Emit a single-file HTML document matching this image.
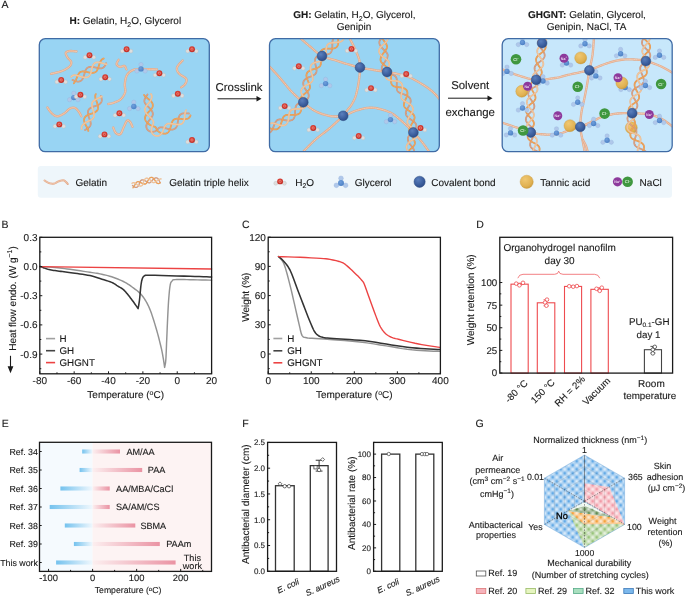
<!DOCTYPE html>
<html><head><meta charset="utf-8"><style>
html,body{margin:0;padding:0;background:#fff;}
svg{display:block;will-change:transform;}
text{font-family:"Liberation Sans",sans-serif;fill:#1a1a1a;stroke:#1a1a1a;stroke-width:0.12px;text-rendering:geometricPrecision;}
</style></head><body>
<svg width="685" height="598" viewBox="0 0 685 598">
<rect width="685" height="598" fill="#fff"/>
<text x="1.6" y="7.9" font-size="10.5">A</text>
<text x="1.4" y="228" font-size="10.5">B</text>
<text x="242" y="228" font-size="10.5">C</text>
<text x="476.2" y="228.1" font-size="10.5">D</text>
<text x="1.8" y="427" font-size="10.5">E</text>
<text x="242.2" y="427" font-size="10.5">F</text>
<text x="475.6" y="427" font-size="10.5">G</text>
<defs>
<radialGradient id="gO" cx="0.4" cy="0.35" r="0.7"><stop offset="0" stop-color="#e0473c"/><stop offset="1" stop-color="#c22d25"/></radialGradient>
<radialGradient id="gG" cx="0.4" cy="0.35" r="0.7"><stop offset="0" stop-color="#6f9fdc"/><stop offset="1" stop-color="#4a7fc4"/></radialGradient>
<radialGradient id="gB" cx="0.38" cy="0.32" r="0.75"><stop offset="0" stop-color="#5a7fbd"/><stop offset="0.6" stop-color="#3c5f9e"/><stop offset="1" stop-color="#2c4a85"/></radialGradient>
<radialGradient id="gT" cx="0.38" cy="0.32" r="0.75"><stop offset="0" stop-color="#f0c872"/><stop offset="0.7" stop-color="#e0b152"/><stop offset="1" stop-color="#c99838"/></radialGradient>
<clipPath id="cb1"><rect x="39.3" y="38.7" width="170" height="113" rx="6"/></clipPath>
<clipPath id="cb2"><rect x="269.5" y="38.7" width="169.8" height="113" rx="6"/></clipPath>
<clipPath id="cb3"><rect x="502.2" y="38.7" width="170" height="113" rx="6"/></clipPath>
</defs><rect x="39.3" y="38.7" width="170" height="113" rx="6" fill="#98d4f3"/><rect x="269.5" y="38.7" width="169.8" height="113" rx="6" fill="#98d4f3"/><rect x="502.2" y="38.7" width="170" height="113" rx="6" fill="#c7e7fb"/><g clip-path="url(#cb1)"><polyline points="76.5,51.5 75.98,51.45 75.28,51.36 74.44,51.25 73.51,51.14 72.55,51.04 71.62,50.98 70.75,50.96 70,51 69.32,51.1 68.65,51.22 68,51.38 67.39,51.58 66.84,51.81 66.38,52.09 66.03,52.42 65.8,52.8 65.72,53.25 65.76,53.78 65.92,54.36 66.16,54.98 66.46,55.62 66.8,56.27 67.15,56.9 67.5,57.5 67.9,58.07 68.41,58.64 68.98,59.2 69.56,59.76 70.12,60.32 70.61,60.88 70.98,61.44 71.2,62 71.29,62.56 71.29,63.12 71.21,63.69 71.05,64.25 70.8,64.81 70.46,65.38 70.03,65.94 69.5,66.5 68.86,67.07 68.11,67.66 67.27,68.26 66.33,68.86 65.32,69.44 64.26,69.99 63.14,70.52 62,71 60.72,71.45 59.24,71.89 57.65,72.3 56.03,72.68 54.47,73.03 53.06,73.34 51.87,73.6 51,73.8" fill="none" stroke="#e3ab8b" stroke-width="2.3" stroke-linecap="round" stroke-linejoin="round"/><polyline points="76.5,51.5 75.98,51.45 75.28,51.36 74.44,51.25 73.51,51.14 72.55,51.04 71.62,50.98 70.75,50.96 70,51 69.32,51.1 68.65,51.22 68,51.38 67.39,51.58 66.84,51.81 66.38,52.09 66.03,52.42 65.8,52.8 65.72,53.25 65.76,53.78 65.92,54.36 66.16,54.98 66.46,55.62 66.8,56.27 67.15,56.9 67.5,57.5 67.9,58.07 68.41,58.64 68.98,59.2 69.56,59.76 70.12,60.32 70.61,60.88 70.98,61.44 71.2,62 71.29,62.56 71.29,63.12 71.21,63.69 71.05,64.25 70.8,64.81 70.46,65.38 70.03,65.94 69.5,66.5 68.86,67.07 68.11,67.66 67.27,68.26 66.33,68.86 65.32,69.44 64.26,69.99 63.14,70.52 62,71 60.72,71.45 59.24,71.89 57.65,72.3 56.03,72.68 54.47,73.03 53.06,73.34 51.87,73.6 51,73.8" fill="none" stroke="#f3cdb6" stroke-width="0.9659999999999999" stroke-linecap="round" stroke-linejoin="round" stroke-dasharray="1.3 0.9"/><polyline points="157,69.3 156.29,69.29 155.34,69.28 154.2,69.27 152.94,69.26 151.62,69.25 150.32,69.23 149.09,69.22 148,69.2 147.04,69.17 146.13,69.13 145.27,69.08 144.44,69.03 143.61,68.99 142.77,68.97 141.91,68.97 141,69 140.03,69.04 139.02,69.07 137.99,69.11 136.94,69.17 135.9,69.28 134.88,69.44 133.91,69.68 133,70 132.13,70.41 131.27,70.88 130.44,71.41 129.64,72 128.88,72.66 128.19,73.38 127.55,74.16 127,75 126.53,75.94 126.12,76.99 125.78,78.13 125.5,79.31 125.27,80.52 125.08,81.73 124.92,82.9 124.8,84 124.76,85.05 124.83,86.09 124.96,87.12 125.12,88.12 125.27,89.12 125.36,90.09 125.35,91.05 125.2,92 124.91,92.95 124.54,93.9 124.08,94.85 123.56,95.77 122.98,96.67 122.35,97.51 121.69,98.29 121,99 120.25,99.63 119.42,100.19 118.52,100.7 117.59,101.15 116.65,101.56 115.72,101.93 114.83,102.28 114,102.6 113.19,102.89 112.35,103.14 111.52,103.35 110.71,103.52 109.96,103.67 109.29,103.8 108.73,103.91 108.3,104" fill="none" stroke="#e3ab8b" stroke-width="2.3" stroke-linecap="round" stroke-linejoin="round"/><polyline points="157,69.3 156.29,69.29 155.34,69.28 154.2,69.27 152.94,69.26 151.62,69.25 150.32,69.23 149.09,69.22 148,69.2 147.04,69.17 146.13,69.13 145.27,69.08 144.44,69.03 143.61,68.99 142.77,68.97 141.91,68.97 141,69 140.03,69.04 139.02,69.07 137.99,69.11 136.94,69.17 135.9,69.28 134.88,69.44 133.91,69.68 133,70 132.13,70.41 131.27,70.88 130.44,71.41 129.64,72 128.88,72.66 128.19,73.38 127.55,74.16 127,75 126.53,75.94 126.12,76.99 125.78,78.13 125.5,79.31 125.27,80.52 125.08,81.73 124.92,82.9 124.8,84 124.76,85.05 124.83,86.09 124.96,87.12 125.12,88.12 125.27,89.12 125.36,90.09 125.35,91.05 125.2,92 124.91,92.95 124.54,93.9 124.08,94.85 123.56,95.77 122.98,96.67 122.35,97.51 121.69,98.29 121,99 120.25,99.63 119.42,100.19 118.52,100.7 117.59,101.15 116.65,101.56 115.72,101.93 114.83,102.28 114,102.6 113.19,102.89 112.35,103.14 111.52,103.35 110.71,103.52 109.96,103.67 109.29,103.8 108.73,103.91 108.3,104" fill="none" stroke="#f3cdb6" stroke-width="0.9659999999999999" stroke-linecap="round" stroke-linejoin="round" stroke-dasharray="1.3 0.9"/><polyline points="118.6,59.8 118.41,60.15 118.12,60.63 117.77,61.21 117.4,61.84 117.06,62.49 116.78,63.12 116.61,63.71 116.6,64.2 116.74,64.63 117,65.06 117.35,65.46 117.78,65.83 118.26,66.15 118.77,66.43 119.29,66.65 119.8,66.8 120.33,66.83 120.94,66.74 121.58,66.56 122.23,66.35 122.88,66.14 123.49,65.98 124.04,65.92 124.5,66 124.88,66.25 125.22,66.63 125.5,67.12 125.74,67.65 125.95,68.19 126.12,68.69 126.27,69.11 126.4,69.4" fill="none" stroke="#e3ab8b" stroke-width="2.3" stroke-linecap="round" stroke-linejoin="round"/><polyline points="118.6,59.8 118.41,60.15 118.12,60.63 117.77,61.21 117.4,61.84 117.06,62.49 116.78,63.12 116.61,63.71 116.6,64.2 116.74,64.63 117,65.06 117.35,65.46 117.78,65.83 118.26,66.15 118.77,66.43 119.29,66.65 119.8,66.8 120.33,66.83 120.94,66.74 121.58,66.56 122.23,66.35 122.88,66.14 123.49,65.98 124.04,65.92 124.5,66 124.88,66.25 125.22,66.63 125.5,67.12 125.74,67.65 125.95,68.19 126.12,68.69 126.27,69.11 126.4,69.4" fill="none" stroke="#f3cdb6" stroke-width="0.9659999999999999" stroke-linecap="round" stroke-linejoin="round" stroke-dasharray="1.3 0.9"/><polyline points="182.6,60.4 182.12,60.96 181.42,61.7 180.58,62.59 179.67,63.58 178.79,64.61 178,65.64 177.37,66.62 177,67.5 176.85,68.31 176.84,69.09 176.96,69.86 177.2,70.61 177.54,71.35 177.96,72.07 178.45,72.79 179,73.5 179.71,74.2 180.63,74.88 181.68,75.54 182.79,76.2 183.87,76.85 184.85,77.5 185.66,78.15 186.2,78.8 186.49,79.47 186.6,80.15 186.56,80.84 186.4,81.52 186.16,82.19 185.85,82.83 185.52,83.44 185.2,84 184.82,84.53 184.32,85.06 183.74,85.56 183.14,86.03 182.54,86.45 181.99,86.83 181.53,87.15 181.2,87.4" fill="none" stroke="#e3ab8b" stroke-width="2.3" stroke-linecap="round" stroke-linejoin="round"/><polyline points="182.6,60.4 182.12,60.96 181.42,61.7 180.58,62.59 179.67,63.58 178.79,64.61 178,65.64 177.37,66.62 177,67.5 176.85,68.31 176.84,69.09 176.96,69.86 177.2,70.61 177.54,71.35 177.96,72.07 178.45,72.79 179,73.5 179.71,74.2 180.63,74.88 181.68,75.54 182.79,76.2 183.87,76.85 184.85,77.5 185.66,78.15 186.2,78.8 186.49,79.47 186.6,80.15 186.56,80.84 186.4,81.52 186.16,82.19 185.85,82.83 185.52,83.44 185.2,84 184.82,84.53 184.32,85.06 183.74,85.56 183.14,86.03 182.54,86.45 181.99,86.83 181.53,87.15 181.2,87.4" fill="none" stroke="#f3cdb6" stroke-width="0.9659999999999999" stroke-linecap="round" stroke-linejoin="round" stroke-dasharray="1.3 0.9"/><polyline points="47.4,107.5 47.71,107.94 48.1,108.54 48.58,109.26 49.11,110.04 49.68,110.86 50.28,111.65 50.89,112.38 51.5,113 52.11,113.56 52.74,114.12 53.39,114.67 54.07,115.17 54.77,115.61 55.49,115.96 56.23,116.19 57,116.3 57.81,116.26 58.67,116.08 59.56,115.79 60.47,115.42 61.38,114.98 62.29,114.5 63.16,114 64,113.5 64.8,112.95 65.59,112.3 66.37,111.59 67.12,110.86 67.87,110.14 68.59,109.49 69.3,108.92 70,108.5 70.68,108.19 71.34,107.95 71.99,107.79 72.62,107.69 73.24,107.66 73.84,107.7 74.43,107.82 75,108 75.56,108.28 76.11,108.68 76.65,109.16 77.17,109.7 77.67,110.28 78.14,110.87 78.59,111.45 79,112 79.38,112.55 79.75,113.15 80.09,113.78 80.4,114.4 80.68,114.99 80.93,115.52 81.13,115.97 81.3,116.3" fill="none" stroke="#e3ab8b" stroke-width="2.3" stroke-linecap="round" stroke-linejoin="round"/><polyline points="47.4,107.5 47.71,107.94 48.1,108.54 48.58,109.26 49.11,110.04 49.68,110.86 50.28,111.65 50.89,112.38 51.5,113 52.11,113.56 52.74,114.12 53.39,114.67 54.07,115.17 54.77,115.61 55.49,115.96 56.23,116.19 57,116.3 57.81,116.26 58.67,116.08 59.56,115.79 60.47,115.42 61.38,114.98 62.29,114.5 63.16,114 64,113.5 64.8,112.95 65.59,112.3 66.37,111.59 67.12,110.86 67.87,110.14 68.59,109.49 69.3,108.92 70,108.5 70.68,108.19 71.34,107.95 71.99,107.79 72.62,107.69 73.24,107.66 73.84,107.7 74.43,107.82 75,108 75.56,108.28 76.11,108.68 76.65,109.16 77.17,109.7 77.67,110.28 78.14,110.87 78.59,111.45 79,112 79.38,112.55 79.75,113.15 80.09,113.78 80.4,114.4 80.68,114.99 80.93,115.52 81.13,115.97 81.3,116.3" fill="none" stroke="#f3cdb6" stroke-width="0.9659999999999999" stroke-linecap="round" stroke-linejoin="round" stroke-dasharray="1.3 0.9"/><polyline points="113.2,127.5 113.4,127.97 113.66,128.64 113.97,129.44 114.32,130.3 114.7,131.17 115.11,131.99 115.55,132.68 116,133.2 116.49,133.59 117.03,133.94 117.61,134.22 118.21,134.42 118.81,134.52 119.41,134.5 119.97,134.33 120.5,134 120.99,133.45 121.45,132.67 121.9,131.73 122.33,130.68 122.75,129.57 123.17,128.46 123.58,127.42 124,126.5 124.42,125.63 124.83,124.72 125.23,123.81 125.63,122.94 126.03,122.13 126.42,121.44 126.81,120.88 127.2,120.5 127.59,120.31 127.98,120.27 128.37,120.37 128.76,120.58 129.14,120.87 129.5,121.22 129.86,121.6 130.2,122 130.54,122.47 130.88,123.08 131.21,123.77 131.54,124.49 131.84,125.21 132.1,125.86 132.33,126.41 132.5,126.8" fill="none" stroke="#e3ab8b" stroke-width="2.3" stroke-linecap="round" stroke-linejoin="round"/><polyline points="113.2,127.5 113.4,127.97 113.66,128.64 113.97,129.44 114.32,130.3 114.7,131.17 115.11,131.99 115.55,132.68 116,133.2 116.49,133.59 117.03,133.94 117.61,134.22 118.21,134.42 118.81,134.52 119.41,134.5 119.97,134.33 120.5,134 120.99,133.45 121.45,132.67 121.9,131.73 122.33,130.68 122.75,129.57 123.17,128.46 123.58,127.42 124,126.5 124.42,125.63 124.83,124.72 125.23,123.81 125.63,122.94 126.03,122.13 126.42,121.44 126.81,120.88 127.2,120.5 127.59,120.31 127.98,120.27 128.37,120.37 128.76,120.58 129.14,120.87 129.5,121.22 129.86,121.6 130.2,122 130.54,122.47 130.88,123.08 131.21,123.77 131.54,124.49 131.84,125.21 132.1,125.86 132.33,126.41 132.5,126.8" fill="none" stroke="#f3cdb6" stroke-width="0.9659999999999999" stroke-linecap="round" stroke-linejoin="round" stroke-dasharray="1.3 0.9"/><polyline points="72.5,80 73.02,80.2 73.53,80.41 74.04,80.61 74.54,80.8 75.05,80.98 75.54,81.14 76.04,81.27 76.52,81.39 77,81.48 77.47,81.54 77.93,81.57 78.38,81.57 78.81,81.53 79.24,81.45 79.65,81.35 80.06,81.2 80.44,81.01 80.82,80.78 81.18,80.52 81.52,80.22 81.84,79.89 82.13,79.52 82.41,79.13 82.66,78.72 82.9,78.27 83.12,77.81 83.32,77.33 83.51,76.83 83.69,76.32 83.85,75.8 84.01,75.27 84.17,74.73 84.32,74.2 84.47,73.66 84.61,73.13 84.76,72.61 84.92,72.1 85.08,71.6 85.26,71.12 85.44,70.66 85.63,70.21 85.84,69.79 86.06,69.4 86.29,69.04 86.53,68.71 86.78,68.41 87.05,68.14 87.34,67.89 87.65,67.67 87.99,67.48 88.34,67.32 88.73,67.18 89.13,67.08 89.56,67 90,66.94 90.47,66.9 90.95,66.9 91.46,66.91 91.97,66.94 92.49,66.99 93.03,67.07 93.57,67.15 94.11,67.25 94.66,67.36 95.2,67.48 95.74,67.6 96.28,67.73 96.8,67.86 97.33,67.98 97.84,68.09 98.34,68.2 98.84,68.28 99.31,68.35 99.78,68.4 100.24,68.42 100.68,68.42 101.1,68.39 101.52,68.32 101.91,68.23 102.28,68.11 102.65,67.95 103,67.76 103.32,67.54 103.64,67.29 103.94,67 104.22,66.68 104.49,66.33 104.75,65.96 104.99,65.55 105.22,65.13 105.44,64.67 105.65,64.2 105.86,63.71 106.05,63.21 106.08,63.12" fill="none" stroke="#d0977b" stroke-width="1.8" stroke-linecap="round" stroke-linejoin="round"/><polyline points="72.5,80 73.02,80.2 73.53,80.41 74.04,80.61 74.54,80.8 75.05,80.98 75.54,81.14 76.04,81.27 76.52,81.39 77,81.48 77.47,81.54 77.93,81.57 78.38,81.57 78.81,81.53 79.24,81.45 79.65,81.35 80.06,81.2 80.44,81.01 80.82,80.78 81.18,80.52 81.52,80.22 81.84,79.89 82.13,79.52 82.41,79.13 82.66,78.72 82.9,78.27 83.12,77.81 83.32,77.33 83.51,76.83 83.69,76.32 83.85,75.8 84.01,75.27 84.17,74.73 84.32,74.2 84.47,73.66 84.61,73.13 84.76,72.61 84.92,72.1 85.08,71.6 85.26,71.12 85.44,70.66 85.63,70.21 85.84,69.79 86.06,69.4 86.29,69.04 86.53,68.71 86.78,68.41 87.05,68.14 87.34,67.89 87.65,67.67 87.99,67.48 88.34,67.32 88.73,67.18 89.13,67.08 89.56,67 90,66.94 90.47,66.9 90.95,66.9 91.46,66.91 91.97,66.94 92.49,66.99 93.03,67.07 93.57,67.15 94.11,67.25 94.66,67.36 95.2,67.48 95.74,67.6 96.28,67.73 96.8,67.86 97.33,67.98 97.84,68.09 98.34,68.2 98.84,68.28 99.31,68.35 99.78,68.4 100.24,68.42 100.68,68.42 101.1,68.39 101.52,68.32 101.91,68.23 102.28,68.11 102.65,67.95 103,67.76 103.32,67.54 103.64,67.29 103.94,67 104.22,66.68 104.49,66.33 104.75,65.96 104.99,65.55 105.22,65.13 105.44,64.67 105.65,64.2 105.86,63.71 106.05,63.21 106.08,63.12" fill="none" stroke="#dfae95" stroke-width="0.63" stroke-linecap="round" stroke-linejoin="round"/><polyline points="73.83,83.2 74.1,82.86 74.37,82.49 74.63,82.1 74.89,81.68 75.15,81.24 75.4,80.77 75.64,80.3 75.87,79.8 76.11,79.3 76.33,78.8 76.55,78.29 76.77,77.78 76.99,77.27 77.2,76.77 77.41,76.28 77.62,75.81 77.84,75.34 78.05,74.91 78.26,74.49 78.49,74.09 78.71,73.72 78.95,73.37 79.2,73.05 79.48,72.76 79.76,72.5 80.07,72.27 80.39,72.06 80.72,71.89 81.09,71.75 81.46,71.64 81.86,71.55 82.28,71.49 82.71,71.46 83.16,71.46 83.63,71.48 84.11,71.52 84.6,71.57 85.11,71.65 85.63,71.74 86.16,71.84 86.69,71.95 87.23,72.07 87.77,72.19 88.32,72.31 88.86,72.42 89.41,72.52 89.95,72.61 90.49,72.68 91.02,72.74 91.53,72.78 92.04,72.8 92.52,72.8 92.99,72.77 93.45,72.73 93.88,72.65 94.29,72.56 94.68,72.43 95.04,72.28 95.39,72.1 95.7,71.89 96,71.66 96.28,71.39 96.54,71.1 96.79,70.78 97,70.44 97.22,70.07 97.42,69.67 97.6,69.25 97.8,68.8 97.97,68.34 98.15,67.86 98.33,67.36 98.5,66.85 98.67,66.33 98.84,65.8 99.01,65.27 99.18,64.74 99.36,64.22 99.54,63.7 99.74,63.19 99.93,62.7 100.14,62.22 100.36,61.76 100.58,61.33 100.82,60.91 101.08,60.52 101.35,60.16 101.63,59.83 101.93,59.54 102.24,59.27 102.56,59.04 102.9,58.84 103.26,58.67 103.63,58.54 103.7,58.52" fill="none" stroke="#e8984f" stroke-width="1.8" stroke-linecap="round" stroke-linejoin="round"/><polyline points="73.83,83.2 74.1,82.86 74.37,82.49 74.63,82.1 74.89,81.68 75.15,81.24 75.4,80.77 75.64,80.3 75.87,79.8 76.11,79.3 76.33,78.8 76.55,78.29 76.77,77.78 76.99,77.27 77.2,76.77 77.41,76.28 77.62,75.81 77.84,75.34 78.05,74.91 78.26,74.49 78.49,74.09 78.71,73.72 78.95,73.37 79.2,73.05 79.48,72.76 79.76,72.5 80.07,72.27 80.39,72.06 80.72,71.89 81.09,71.75 81.46,71.64 81.86,71.55 82.28,71.49 82.71,71.46 83.16,71.46 83.63,71.48 84.11,71.52 84.6,71.57 85.11,71.65 85.63,71.74 86.16,71.84 86.69,71.95 87.23,72.07 87.77,72.19 88.32,72.31 88.86,72.42 89.41,72.52 89.95,72.61 90.49,72.68 91.02,72.74 91.53,72.78 92.04,72.8 92.52,72.8 92.99,72.77 93.45,72.73 93.88,72.65 94.29,72.56 94.68,72.43 95.04,72.28 95.39,72.1 95.7,71.89 96,71.66 96.28,71.39 96.54,71.1 96.79,70.78 97,70.44 97.22,70.07 97.42,69.67 97.6,69.25 97.8,68.8 97.97,68.34 98.15,67.86 98.33,67.36 98.5,66.85 98.67,66.33 98.84,65.8 99.01,65.27 99.18,64.74 99.36,64.22 99.54,63.7 99.74,63.19 99.93,62.7 100.14,62.22 100.36,61.76 100.58,61.33 100.82,60.91 101.08,60.52 101.35,60.16 101.63,59.83 101.93,59.54 102.24,59.27 102.56,59.04 102.9,58.84 103.26,58.67 103.63,58.54 103.7,58.52" fill="none" stroke="#f0b273" stroke-width="0.63" stroke-linecap="round" stroke-linejoin="round"/><polyline points="71.17,76.8 71.49,76.48 71.82,76.19 72.16,75.94 72.51,75.72 72.87,75.54 73.24,75.4 73.62,75.29 74.01,75.21 74.41,75.17 74.83,75.16 75.25,75.18 75.69,75.23 76.14,75.3 76.6,75.4 77.08,75.51 77.56,75.65 78.05,75.8 78.55,75.96 79.06,76.13 79.57,76.29 80.1,76.46 80.63,76.62 81.17,76.78 81.7,76.92 82.24,77.06 82.77,77.18 83.29,77.28 83.81,77.36 84.32,77.43 84.82,77.47 85.3,77.48 85.77,77.47 86.22,77.43 86.65,77.36 87.07,77.26 87.47,77.12 87.84,76.96 88.2,76.76 88.54,76.53 88.85,76.27 89.15,75.98 89.42,75.66 89.69,75.3 89.94,74.91 90.17,74.5 90.39,74.05 90.58,73.59 90.76,73.1 90.92,72.6 91.07,72.09 91.2,71.56 91.32,71.02 91.44,70.48 91.56,69.94 91.67,69.4 91.79,68.85 91.91,68.32 92.04,67.79 92.18,67.27 92.34,66.76 92.51,66.27 92.7,65.8 92.92,65.35 93.14,64.93 93.4,64.52 93.68,64.15 93.97,63.81 94.3,63.49 94.62,63.23 94.98,62.98 95.36,62.78 95.73,62.62 96.14,62.49 96.56,62.39 96.98,62.33 97.43,62.3 97.9,62.29 98.37,62.32 98.85,62.38 99.35,62.45 99.85,62.55 100.37,62.67 100.89,62.8 101.41,62.94 101.94,63.1 102.47,63.26 103.01,63.42 103.54,63.58 104.07,63.74 104.59,63.89 105.11,64.03 105.63,64.15 106.14,64.26 106.64,64.34 106.72,64.35" fill="none" stroke="#ecbb90" stroke-width="1.8" stroke-linecap="round" stroke-linejoin="round"/><polyline points="71.17,76.8 71.49,76.48 71.82,76.19 72.16,75.94 72.51,75.72 72.87,75.54 73.24,75.4 73.62,75.29 74.01,75.21 74.41,75.17 74.83,75.16 75.25,75.18 75.69,75.23 76.14,75.3 76.6,75.4 77.08,75.51 77.56,75.65 78.05,75.8 78.55,75.96 79.06,76.13 79.57,76.29 80.1,76.46 80.63,76.62 81.17,76.78 81.7,76.92 82.24,77.06 82.77,77.18 83.29,77.28 83.81,77.36 84.32,77.43 84.82,77.47 85.3,77.48 85.77,77.47 86.22,77.43 86.65,77.36 87.07,77.26 87.47,77.12 87.84,76.96 88.2,76.76 88.54,76.53 88.85,76.27 89.15,75.98 89.42,75.66 89.69,75.3 89.94,74.91 90.17,74.5 90.39,74.05 90.58,73.59 90.76,73.1 90.92,72.6 91.07,72.09 91.2,71.56 91.32,71.02 91.44,70.48 91.56,69.94 91.67,69.4 91.79,68.85 91.91,68.32 92.04,67.79 92.18,67.27 92.34,66.76 92.51,66.27 92.7,65.8 92.92,65.35 93.14,64.93 93.4,64.52 93.68,64.15 93.97,63.81 94.3,63.49 94.62,63.23 94.98,62.98 95.36,62.78 95.73,62.62 96.14,62.49 96.56,62.39 96.98,62.33 97.43,62.3 97.9,62.29 98.37,62.32 98.85,62.38 99.35,62.45 99.85,62.55 100.37,62.67 100.89,62.8 101.41,62.94 101.94,63.1 102.47,63.26 103.01,63.42 103.54,63.58 104.07,63.74 104.59,63.89 105.11,64.03 105.63,64.15 106.14,64.26 106.64,64.34 106.72,64.35" fill="none" stroke="#f4d2b2" stroke-width="0.63" stroke-linecap="round" stroke-linejoin="round"/><polyline points="85,130 85.48,129.72 85.96,129.43 86.43,129.14 86.88,128.85 87.32,128.55 87.75,128.25 88.15,127.95 88.53,127.64 88.89,127.33 89.22,127.01 89.52,126.69 89.79,126.36 90.03,126.02 90.23,125.68 90.4,125.34 90.54,124.97 90.64,124.61 90.7,124.24 90.74,123.85 90.74,123.46 90.7,123.07 90.65,122.65 90.56,122.23 90.45,121.81 90.32,121.35 90.17,120.91 90.01,120.45 89.84,119.96 89.66,119.47 89.49,118.97 89.3,118.45 89.12,117.93 88.95,117.4 88.77,116.87 88.61,116.34 88.46,115.81 88.33,115.29 88.21,114.77 88.11,114.26 88.03,113.76 87.98,113.26 87.94,112.79 87.94,112.33 87.96,111.88 88.02,111.46 88.1,111.05 88.21,110.66 88.36,110.29 88.53,109.94 88.74,109.61 88.97,109.29 89.24,109 89.54,108.72 89.87,108.45 90.23,108.19 90.62,107.93 91.04,107.69 91.48,107.46 91.94,107.24 92.42,107.04 92.91,106.84 93.42,106.65 93.94,106.47 94.46,106.29 94.99,106.11 95.51,105.93 96.04,105.75 96.55,105.56 97.06,105.36 97.56,105.15 98.04,104.93 98.5,104.7 98.94,104.45 99.36,104.19 99.75,103.9 100.11,103.6 100.45,103.27 100.74,102.93 101.01,102.57 101.23,102.19 101.42,101.81 101.57,101.41 101.68,101 101.75,100.57 101.79,100.14 101.79,99.7 101.75,99.25 101.69,98.79 101.59,98.32 101.47,97.85 101.32,97.37 101.15,96.89 100.96,96.4 100.79,95.98" fill="none" stroke="#d0977b" stroke-width="1.8" stroke-linecap="round" stroke-linejoin="round"/><polyline points="85,130 85.48,129.72 85.96,129.43 86.43,129.14 86.88,128.85 87.32,128.55 87.75,128.25 88.15,127.95 88.53,127.64 88.89,127.33 89.22,127.01 89.52,126.69 89.79,126.36 90.03,126.02 90.23,125.68 90.4,125.34 90.54,124.97 90.64,124.61 90.7,124.24 90.74,123.85 90.74,123.46 90.7,123.07 90.65,122.65 90.56,122.23 90.45,121.81 90.32,121.35 90.17,120.91 90.01,120.45 89.84,119.96 89.66,119.47 89.49,118.97 89.3,118.45 89.12,117.93 88.95,117.4 88.77,116.87 88.61,116.34 88.46,115.81 88.33,115.29 88.21,114.77 88.11,114.26 88.03,113.76 87.98,113.26 87.94,112.79 87.94,112.33 87.96,111.88 88.02,111.46 88.1,111.05 88.21,110.66 88.36,110.29 88.53,109.94 88.74,109.61 88.97,109.29 89.24,109 89.54,108.72 89.87,108.45 90.23,108.19 90.62,107.93 91.04,107.69 91.48,107.46 91.94,107.24 92.42,107.04 92.91,106.84 93.42,106.65 93.94,106.47 94.46,106.29 94.99,106.11 95.51,105.93 96.04,105.75 96.55,105.56 97.06,105.36 97.56,105.15 98.04,104.93 98.5,104.7 98.94,104.45 99.36,104.19 99.75,103.9 100.11,103.6 100.45,103.27 100.74,102.93 101.01,102.57 101.23,102.19 101.42,101.81 101.57,101.41 101.68,101 101.75,100.57 101.79,100.14 101.79,99.7 101.75,99.25 101.69,98.79 101.59,98.32 101.47,97.85 101.32,97.37 101.15,96.89 100.96,96.4 100.79,95.98" fill="none" stroke="#dfae95" stroke-width="0.63" stroke-linecap="round" stroke-linejoin="round"/><polyline points="88.33,130.95 88.24,130.5 88.12,130.03 87.97,129.56 87.8,129.09 87.59,128.62 87.37,128.15 87.13,127.67 86.88,127.19 86.62,126.71 86.36,126.22 86.09,125.74 85.83,125.25 85.57,124.76 85.32,124.26 85.09,123.77 84.87,123.29 84.67,122.8 84.5,122.3 84.35,121.83 84.23,121.35 84.15,120.86 84.1,120.4 84.08,119.93 84.12,119.46 84.18,119.03 84.29,118.58 84.45,118.13 84.62,117.75 84.85,117.35 85.12,116.98 85.4,116.66 85.73,116.33 86.09,116.03 86.47,115.75 86.89,115.48 87.32,115.24 87.78,115.01 88.26,114.79 88.75,114.59 89.26,114.4 89.78,114.21 90.3,114.04 90.83,113.86 91.36,113.69 91.88,113.52 92.4,113.34 92.92,113.16 93.42,112.98 93.91,112.78 94.38,112.57 94.83,112.34 95.27,112.1 95.67,111.84 96.05,111.58 96.39,111.3 96.7,111.01 96.98,110.71 97.23,110.4 97.45,110.06 97.63,109.71 97.78,109.34 97.9,108.96 97.99,108.55 98.04,108.13 98.07,107.69 98.07,107.23 98.04,106.76 97.99,106.28 97.91,105.78 97.81,105.28 97.69,104.76 97.55,104.24 97.39,103.71 97.23,103.19 97.05,102.66 96.87,102.13 96.68,101.61 96.48,101.1 96.29,100.59 96.11,100.1 95.93,99.61 95.77,99.13 95.62,98.65 95.49,98.19 95.38,97.74 95.3,97.29 95.25,96.86 95.23,96.44 95.24,96.03 95.29,95.62 95.36,95.22 95.48,94.83 95.64,94.44 95.81,94.12" fill="none" stroke="#e8984f" stroke-width="1.8" stroke-linecap="round" stroke-linejoin="round"/><polyline points="88.33,130.95 88.24,130.5 88.12,130.03 87.97,129.56 87.8,129.09 87.59,128.62 87.37,128.15 87.13,127.67 86.88,127.19 86.62,126.71 86.36,126.22 86.09,125.74 85.83,125.25 85.57,124.76 85.32,124.26 85.09,123.77 84.87,123.29 84.67,122.8 84.5,122.3 84.35,121.83 84.23,121.35 84.15,120.86 84.1,120.4 84.08,119.93 84.12,119.46 84.18,119.03 84.29,118.58 84.45,118.13 84.62,117.75 84.85,117.35 85.12,116.98 85.4,116.66 85.73,116.33 86.09,116.03 86.47,115.75 86.89,115.48 87.32,115.24 87.78,115.01 88.26,114.79 88.75,114.59 89.26,114.4 89.78,114.21 90.3,114.04 90.83,113.86 91.36,113.69 91.88,113.52 92.4,113.34 92.92,113.16 93.42,112.98 93.91,112.78 94.38,112.57 94.83,112.34 95.27,112.1 95.67,111.84 96.05,111.58 96.39,111.3 96.7,111.01 96.98,110.71 97.23,110.4 97.45,110.06 97.63,109.71 97.78,109.34 97.9,108.96 97.99,108.55 98.04,108.13 98.07,107.69 98.07,107.23 98.04,106.76 97.99,106.28 97.91,105.78 97.81,105.28 97.69,104.76 97.55,104.24 97.39,103.71 97.23,103.19 97.05,102.66 96.87,102.13 96.68,101.61 96.48,101.1 96.29,100.59 96.11,100.1 95.93,99.61 95.77,99.13 95.62,98.65 95.49,98.19 95.38,97.74 95.3,97.29 95.25,96.86 95.23,96.44 95.24,96.03 95.29,95.62 95.36,95.22 95.48,94.83 95.64,94.44 95.81,94.12" fill="none" stroke="#f0b273" stroke-width="0.63" stroke-linecap="round" stroke-linejoin="round"/><polyline points="81.67,129.05 81.6,128.63 81.57,128.23 81.56,127.83 81.6,127.44 81.66,127.04 81.77,126.66 81.91,126.28 82.09,125.9 82.31,125.54 82.56,125.19 82.85,124.84 83.16,124.5 83.51,124.17 83.88,123.85 84.29,123.53 84.71,123.24 85.15,122.94 85.61,122.65 86.09,122.38 86.57,122.11 87.06,121.84 87.56,121.59 88.05,121.34 88.54,121.1 89.03,120.86 89.5,120.64 89.96,120.43 90.41,120.2 90.83,119.98 91.24,119.76 91.63,119.52 91.99,119.28 92.33,119.03 92.64,118.75 92.91,118.48 93.16,118.17 93.38,117.85 93.57,117.53 93.73,117.17 93.86,116.8 93.95,116.41 94.02,116 94.06,115.58 94.07,115.13 94.05,114.67 94.01,114.2 93.95,113.71 93.86,113.21 93.76,112.7 93.64,112.18 93.51,111.65 93.36,111.12 93.21,110.59 93.04,110.06 92.88,109.53 92.72,109 92.56,108.47 92.42,107.94 92.29,107.42 92.17,106.91 92.07,106.41 92,105.92 91.94,105.44 91.91,104.98 91.91,104.53 91.93,104.1 91.98,103.68 92.06,103.28 92.17,102.91 92.31,102.55 92.49,102.2 92.69,101.88 92.92,101.57 93.19,101.28 93.48,101.01 93.8,100.75 94.14,100.5 94.52,100.26 94.91,100.02 95.33,99.78 95.77,99.54 96.23,99.31 96.71,99.07 97.19,98.84 97.68,98.6 98.18,98.36 98.68,98.12 99.18,97.88 99.68,97.63 100.16,97.38 100.64,97.12 101.1,96.87 101.54,96.62 101.9,96.4" fill="none" stroke="#ecbb90" stroke-width="1.8" stroke-linecap="round" stroke-linejoin="round"/><polyline points="81.67,129.05 81.6,128.63 81.57,128.23 81.56,127.83 81.6,127.44 81.66,127.04 81.77,126.66 81.91,126.28 82.09,125.9 82.31,125.54 82.56,125.19 82.85,124.84 83.16,124.5 83.51,124.17 83.88,123.85 84.29,123.53 84.71,123.24 85.15,122.94 85.61,122.65 86.09,122.38 86.57,122.11 87.06,121.84 87.56,121.59 88.05,121.34 88.54,121.1 89.03,120.86 89.5,120.64 89.96,120.43 90.41,120.2 90.83,119.98 91.24,119.76 91.63,119.52 91.99,119.28 92.33,119.03 92.64,118.75 92.91,118.48 93.16,118.17 93.38,117.85 93.57,117.53 93.73,117.17 93.86,116.8 93.95,116.41 94.02,116 94.06,115.58 94.07,115.13 94.05,114.67 94.01,114.2 93.95,113.71 93.86,113.21 93.76,112.7 93.64,112.18 93.51,111.65 93.36,111.12 93.21,110.59 93.04,110.06 92.88,109.53 92.72,109 92.56,108.47 92.42,107.94 92.29,107.42 92.17,106.91 92.07,106.41 92,105.92 91.94,105.44 91.91,104.98 91.91,104.53 91.93,104.1 91.98,103.68 92.06,103.28 92.17,102.91 92.31,102.55 92.49,102.2 92.69,101.88 92.92,101.57 93.19,101.28 93.48,101.01 93.8,100.75 94.14,100.5 94.52,100.26 94.91,100.02 95.33,99.78 95.77,99.54 96.23,99.31 96.71,99.07 97.19,98.84 97.68,98.6 98.18,98.36 98.68,98.12 99.18,97.88 99.68,97.63 100.16,97.38 100.64,97.12 101.1,96.87 101.54,96.62 101.9,96.4" fill="none" stroke="#f4d2b2" stroke-width="0.63" stroke-linecap="round" stroke-linejoin="round"/><polyline points="147.5,94.5 147.17,94.95 146.85,95.4 146.53,95.85 146.23,96.3 145.94,96.75 145.67,97.19 145.42,97.63 145.19,98.07 144.99,98.5 144.81,98.92 144.66,99.34 144.55,99.75 144.46,100.16 144.41,100.55 144.4,100.94 144.42,101.34 144.48,101.71 144.57,102.08 144.69,102.46 144.85,102.83 145.05,103.18 145.27,103.55 145.53,103.91 145.81,104.26 146.11,104.62 146.44,104.98 146.79,105.32 147.14,105.69 147.52,106.07 147.9,106.44 148.29,106.83 148.68,107.22 149.07,107.61 149.46,108.01 149.84,108.41 150.21,108.82 150.57,109.23 150.91,109.63 151.22,110.04 151.52,110.45 151.79,110.85 152.04,111.25 152.25,111.65 152.44,112.05 152.59,112.45 152.7,112.84 152.79,113.22 152.83,113.62 152.84,114 152.82,114.37 152.76,114.76 152.66,115.15 152.53,115.51 152.37,115.88 152.19,116.28 151.96,116.64 151.73,117.01 151.47,117.43 151.19,117.83 150.89,118.24 150.58,118.67 150.25,119.1 149.91,119.54 149.56,119.97 149.22,120.4 148.87,120.84 148.53,121.27 148.19,121.72 147.88,122.16 147.57,122.61 147.3,123.08 147.04,123.53 146.82,124.01 146.64,124.5 146.48,124.98 146.38,125.5 146.31,125.98 146.3,126.53 146.36,127.07 146.45,127.58 146.63,128.14 146.85,128.65 147.16,129.2 147.52,129.68 147.93,130.13 148.37,130.5 148.84,130.82 149.33,131.09 149.86,131.33 150.42,131.51 150.99,131.66 151.58,131.75 152.17,131.8 152.77,131.79 153.35,131.74 153.93,131.63 154.48,131.49 155,131.29 155.49,131.08 155.94,130.81 156.36,130.54 156.73,130.25 157.08,129.95 157.36,129.65 157.66,129.35 157.86,129.07 158.06,128.79 158.31,128.54 158.48,128.32 158.76,128.09 159.01,127.91 159.22,127.75 159.55,127.6 159.86,127.49 160.14,127.41 160.5,127.34 160.89,127.3 161.24,127.31 161.62,127.32 162.07,127.35 162.5,127.42 162.93,127.51 163.41,127.6 163.9,127.72 164.38,127.85 164.88,127.99 165.4,128.14 165.92,128.3 166.45,128.46 166.98,128.61 167.52,128.77 168.05,128.92 168.58,129.06 169.11,129.19 169.63,129.31 170.15,129.41 170.65,129.49 171.15,129.55 171.65,129.57 172.13,129.57 172.59,129.54 173.08,129.46 173.52,129.35 173.93,129.22 174.35,129.03 174.74,128.81 175.07,128.59 175.42,128.3 175.74,127.98 176,127.66 176.27,127.29 176.52,126.88 176.71,126.47 176.91,126.02 177.09,125.55 177.23,125.07 177.37,124.57 177.49,124.05 177.59,123.52 177.69,122.98 177.78,122.43 177.86,121.89 177.95,121.34 178.03,120.79 178.12,120.24 178.21,119.7 178.31,119.17 178.42,118.66 178.54,118.16 178.67,117.68 178.81,117.22 178.96,116.79 179.12,116.38 179.32,115.99 179.52,115.63 179.74,115.3 179.99,114.98 180.27,114.7 180.56,114.45 180.88,114.22 181.23,114.02 181.59,113.85 181.98,113.7 182.39,113.58 182.82,113.48 183.28,113.41 183.75,113.35 184.24,113.31 184.75,113.3 185.27,113.29 185.8,113.3 186.34,113.32 186.89,113.35 187.44,113.38 187.99,113.41 188.55,113.46 188.9,113.48" fill="none" stroke="#d0977b" stroke-width="1.8" stroke-linecap="round" stroke-linejoin="round"/><polyline points="147.5,94.5 147.17,94.95 146.85,95.4 146.53,95.85 146.23,96.3 145.94,96.75 145.67,97.19 145.42,97.63 145.19,98.07 144.99,98.5 144.81,98.92 144.66,99.34 144.55,99.75 144.46,100.16 144.41,100.55 144.4,100.94 144.42,101.34 144.48,101.71 144.57,102.08 144.69,102.46 144.85,102.83 145.05,103.18 145.27,103.55 145.53,103.91 145.81,104.26 146.11,104.62 146.44,104.98 146.79,105.32 147.14,105.69 147.52,106.07 147.9,106.44 148.29,106.83 148.68,107.22 149.07,107.61 149.46,108.01 149.84,108.41 150.21,108.82 150.57,109.23 150.91,109.63 151.22,110.04 151.52,110.45 151.79,110.85 152.04,111.25 152.25,111.65 152.44,112.05 152.59,112.45 152.7,112.84 152.79,113.22 152.83,113.62 152.84,114 152.82,114.37 152.76,114.76 152.66,115.15 152.53,115.51 152.37,115.88 152.19,116.28 151.96,116.64 151.73,117.01 151.47,117.43 151.19,117.83 150.89,118.24 150.58,118.67 150.25,119.1 149.91,119.54 149.56,119.97 149.22,120.4 148.87,120.84 148.53,121.27 148.19,121.72 147.88,122.16 147.57,122.61 147.3,123.08 147.04,123.53 146.82,124.01 146.64,124.5 146.48,124.98 146.38,125.5 146.31,125.98 146.3,126.53 146.36,127.07 146.45,127.58 146.63,128.14 146.85,128.65 147.16,129.2 147.52,129.68 147.93,130.13 148.37,130.5 148.84,130.82 149.33,131.09 149.86,131.33 150.42,131.51 150.99,131.66 151.58,131.75 152.17,131.8 152.77,131.79 153.35,131.74 153.93,131.63 154.48,131.49 155,131.29 155.49,131.08 155.94,130.81 156.36,130.54 156.73,130.25 157.08,129.95 157.36,129.65 157.66,129.35 157.86,129.07 158.06,128.79 158.31,128.54 158.48,128.32 158.76,128.09 159.01,127.91 159.22,127.75 159.55,127.6 159.86,127.49 160.14,127.41 160.5,127.34 160.89,127.3 161.24,127.31 161.62,127.32 162.07,127.35 162.5,127.42 162.93,127.51 163.41,127.6 163.9,127.72 164.38,127.85 164.88,127.99 165.4,128.14 165.92,128.3 166.45,128.46 166.98,128.61 167.52,128.77 168.05,128.92 168.58,129.06 169.11,129.19 169.63,129.31 170.15,129.41 170.65,129.49 171.15,129.55 171.65,129.57 172.13,129.57 172.59,129.54 173.08,129.46 173.52,129.35 173.93,129.22 174.35,129.03 174.74,128.81 175.07,128.59 175.42,128.3 175.74,127.98 176,127.66 176.27,127.29 176.52,126.88 176.71,126.47 176.91,126.02 177.09,125.55 177.23,125.07 177.37,124.57 177.49,124.05 177.59,123.52 177.69,122.98 177.78,122.43 177.86,121.89 177.95,121.34 178.03,120.79 178.12,120.24 178.21,119.7 178.31,119.17 178.42,118.66 178.54,118.16 178.67,117.68 178.81,117.22 178.96,116.79 179.12,116.38 179.32,115.99 179.52,115.63 179.74,115.3 179.99,114.98 180.27,114.7 180.56,114.45 180.88,114.22 181.23,114.02 181.59,113.85 181.98,113.7 182.39,113.58 182.82,113.48 183.28,113.41 183.75,113.35 184.24,113.31 184.75,113.3 185.27,113.29 185.8,113.3 186.34,113.32 186.89,113.35 187.44,113.38 187.99,113.41 188.55,113.46 188.9,113.48" fill="none" stroke="#dfae95" stroke-width="0.63" stroke-linecap="round" stroke-linejoin="round"/><polyline points="144.07,94.96 144.33,95.34 144.62,95.72 144.95,96.08 145.3,96.44 145.67,96.79 146.06,97.14 146.47,97.48 146.89,97.82 147.32,98.16 147.75,98.5 148.19,98.85 148.63,99.19 149.06,99.54 149.48,99.89 149.89,100.24 150.29,100.6 150.67,100.97 151.02,101.34 151.35,101.71 151.65,102.09 151.93,102.49 152.16,102.88 152.37,103.29 152.54,103.71 152.66,104.12 152.75,104.55 152.8,105 152.81,105.43 152.78,105.86 152.7,106.31 152.58,106.74 152.43,107.16 152.25,107.59 152.02,108.01 151.77,108.41 151.49,108.82 151.18,109.23 150.85,109.63 150.5,110.03 150.14,110.43 149.76,110.83 149.37,111.22 148.98,111.62 148.59,112.01 148.21,112.41 147.82,112.81 147.45,113.21 147.1,113.61 146.76,114.02 146.44,114.44 146.15,114.86 145.89,115.27 145.65,115.71 145.45,116.15 145.29,116.56 145.16,117.03 145.08,117.5 145.03,117.9 145.02,118.34 145.06,118.77 145.13,119.17 145.23,119.55 145.38,119.94 145.55,120.32 145.77,120.72 146.01,121.1 146.29,121.49 146.6,121.88 146.93,122.26 147.3,122.64 147.68,123.02 148.09,123.38 148.51,123.75 148.95,124.1 149.4,124.43 149.86,124.75 150.32,125.05 150.78,125.32 151.25,125.57 151.7,125.8 152.13,125.98 152.56,126.14 152.95,126.25 153.33,126.35 153.68,126.43 154.02,126.51 154.33,126.61 154.63,126.72 154.89,126.82 155.13,126.93 155.32,127.05 155.51,127.18 155.65,127.32 155.79,127.48 155.9,127.67 156.01,127.87 156.11,128.11 156.22,128.36 156.34,128.66 156.47,128.95 156.64,129.29 156.82,129.63 157.07,130 157.33,130.36 157.66,130.73 158,131.1 158.39,131.43 158.83,131.76 159.3,132.06 159.78,132.34 160.29,132.61 160.82,132.83 161.32,133.04 161.84,133.23 162.38,133.37 162.89,133.5 163.38,133.6 163.9,133.65 164.39,133.67 164.83,133.68 165.3,133.64 165.77,133.55 166.17,133.44 166.56,133.3 166.97,133.11 167.34,132.89 167.66,132.65 167.99,132.36 168.31,132.04 168.59,131.69 168.85,131.32 169.11,130.91 169.35,130.48 169.56,130.04 169.77,129.57 169.96,129.08 170.15,128.57 170.33,128.06 170.5,127.53 170.66,127 170.82,126.47 170.97,125.93 171.1,125.4 171.25,124.88 171.38,124.37 171.51,123.87 171.66,123.37 171.8,122.91 171.94,122.47 172.13,122.03 172.3,121.63 172.48,121.25 172.71,120.88 172.94,120.56 173.18,120.26 173.46,119.98 173.76,119.73 174.07,119.52 174.42,119.32 174.78,119.15 175.17,119.02 175.58,118.9 176.01,118.81 176.46,118.75 176.94,118.71 177.43,118.68 177.93,118.68 178.45,118.7 178.97,118.73 179.51,118.77 180.05,118.82 180.6,118.88 181.15,118.94 181.7,118.99 182.25,119.04 182.81,119.08 183.35,119.12 183.89,119.14 184.42,119.14 184.93,119.13 185.43,119.11 185.92,119.06 186.39,118.98 186.84,118.89 187.27,118.77 187.67,118.62 188.05,118.45 188.41,118.25 188.75,118.02 189.06,117.76 189.34,117.48 189.6,117.16 189.83,116.82 190.05,116.46 190.23,116.07 190.39,115.66 190.49,115.39" fill="none" stroke="#e8984f" stroke-width="1.8" stroke-linecap="round" stroke-linejoin="round"/><polyline points="144.07,94.96 144.33,95.34 144.62,95.72 144.95,96.08 145.3,96.44 145.67,96.79 146.06,97.14 146.47,97.48 146.89,97.82 147.32,98.16 147.75,98.5 148.19,98.85 148.63,99.19 149.06,99.54 149.48,99.89 149.89,100.24 150.29,100.6 150.67,100.97 151.02,101.34 151.35,101.71 151.65,102.09 151.93,102.49 152.16,102.88 152.37,103.29 152.54,103.71 152.66,104.12 152.75,104.55 152.8,105 152.81,105.43 152.78,105.86 152.7,106.31 152.58,106.74 152.43,107.16 152.25,107.59 152.02,108.01 151.77,108.41 151.49,108.82 151.18,109.23 150.85,109.63 150.5,110.03 150.14,110.43 149.76,110.83 149.37,111.22 148.98,111.62 148.59,112.01 148.21,112.41 147.82,112.81 147.45,113.21 147.1,113.61 146.76,114.02 146.44,114.44 146.15,114.86 145.89,115.27 145.65,115.71 145.45,116.15 145.29,116.56 145.16,117.03 145.08,117.5 145.03,117.9 145.02,118.34 145.06,118.77 145.13,119.17 145.23,119.55 145.38,119.94 145.55,120.32 145.77,120.72 146.01,121.1 146.29,121.49 146.6,121.88 146.93,122.26 147.3,122.64 147.68,123.02 148.09,123.38 148.51,123.75 148.95,124.1 149.4,124.43 149.86,124.75 150.32,125.05 150.78,125.32 151.25,125.57 151.7,125.8 152.13,125.98 152.56,126.14 152.95,126.25 153.33,126.35 153.68,126.43 154.02,126.51 154.33,126.61 154.63,126.72 154.89,126.82 155.13,126.93 155.32,127.05 155.51,127.18 155.65,127.32 155.79,127.48 155.9,127.67 156.01,127.87 156.11,128.11 156.22,128.36 156.34,128.66 156.47,128.95 156.64,129.29 156.82,129.63 157.07,130 157.33,130.36 157.66,130.73 158,131.1 158.39,131.43 158.83,131.76 159.3,132.06 159.78,132.34 160.29,132.61 160.82,132.83 161.32,133.04 161.84,133.23 162.38,133.37 162.89,133.5 163.38,133.6 163.9,133.65 164.39,133.67 164.83,133.68 165.3,133.64 165.77,133.55 166.17,133.44 166.56,133.3 166.97,133.11 167.34,132.89 167.66,132.65 167.99,132.36 168.31,132.04 168.59,131.69 168.85,131.32 169.11,130.91 169.35,130.48 169.56,130.04 169.77,129.57 169.96,129.08 170.15,128.57 170.33,128.06 170.5,127.53 170.66,127 170.82,126.47 170.97,125.93 171.1,125.4 171.25,124.88 171.38,124.37 171.51,123.87 171.66,123.37 171.8,122.91 171.94,122.47 172.13,122.03 172.3,121.63 172.48,121.25 172.71,120.88 172.94,120.56 173.18,120.26 173.46,119.98 173.76,119.73 174.07,119.52 174.42,119.32 174.78,119.15 175.17,119.02 175.58,118.9 176.01,118.81 176.46,118.75 176.94,118.71 177.43,118.68 177.93,118.68 178.45,118.7 178.97,118.73 179.51,118.77 180.05,118.82 180.6,118.88 181.15,118.94 181.7,118.99 182.25,119.04 182.81,119.08 183.35,119.12 183.89,119.14 184.42,119.14 184.93,119.13 185.43,119.11 185.92,119.06 186.39,118.98 186.84,118.89 187.27,118.77 187.67,118.62 188.05,118.45 188.41,118.25 188.75,118.02 189.06,117.76 189.34,117.48 189.6,117.16 189.83,116.82 190.05,116.46 190.23,116.07 190.39,115.66 190.49,115.39" fill="none" stroke="#f0b273" stroke-width="0.63" stroke-linecap="round" stroke-linejoin="round"/><polyline points="150.93,94.04 151.16,94.4 151.35,94.76 151.52,95.13 151.64,95.51 151.74,95.9 151.79,96.29 151.81,96.7 151.79,97.11 151.74,97.53 151.65,97.95 151.52,98.38 151.37,98.82 151.18,99.25 150.96,99.69 150.72,100.14 150.45,100.58 150.17,101.03 149.86,101.47 149.54,101.92 149.21,102.36 148.87,102.8 148.52,103.24 148.18,103.67 147.83,104.09 147.49,104.51 147.16,104.93 146.84,105.32 146.53,105.72 146.25,106.12 145.98,106.49 145.73,106.88 145.51,107.27 145.33,107.64 145.17,108.02 145.04,108.42 144.95,108.8 144.9,109.18 144.88,109.58 144.9,109.98 144.95,110.37 145.04,110.77 145.17,111.17 145.33,111.58 145.52,111.98 145.75,112.39 146,112.8 146.29,113.21 146.6,113.61 146.93,114.02 147.28,114.43 147.65,114.83 148.03,115.23 148.41,115.63 148.82,116.02 149.22,116.4 149.62,116.77 150.02,117.13 150.42,117.5 150.8,117.86 151.17,118.22 151.52,118.59 151.85,118.96 152.15,119.34 152.42,119.71 152.66,120.08 152.88,120.46 153.06,120.83 153.2,121.19 153.31,121.56 153.39,121.92 153.43,122.26 153.44,122.65 153.41,122.98 153.35,123.32 153.27,123.7 153.15,124.03 153.02,124.42 152.85,124.77 152.68,125.13 152.49,125.53 152.29,125.92 152.1,126.35 151.91,126.78 151.75,127.25 151.61,127.75 151.51,128.28 151.43,128.83 151.39,129.39 151.38,129.97 151.41,130.54 151.49,131.13 151.62,131.7 151.8,132.28 152.04,132.83 152.33,133.37 152.69,133.87 153.1,134.34 153.57,134.76 154.07,135.13 154.64,135.43 155.21,135.67 155.84,135.84 156.43,135.94 157.08,135.97 157.66,135.92 158.31,135.81 158.91,135.61 159.41,135.38 159.95,135.07 160.36,134.74 160.77,134.37 161.17,133.96 161.48,133.53 161.79,133.08 162.09,132.6 162.35,132.11 162.59,131.62 162.83,131.11 163.05,130.6 163.26,130.08 163.47,129.57 163.66,129.07 163.86,128.57 164.07,128.08 164.26,127.61 164.46,127.16 164.69,126.72 164.91,126.3 165.13,125.92 165.38,125.55 165.65,125.21 165.92,124.91 166.2,124.63 166.52,124.38 166.85,124.16 167.19,123.98 167.56,123.83 167.94,123.71 168.31,123.63 168.71,123.57 169.14,123.54 169.54,123.55 169.98,123.57 170.46,123.6 170.92,123.66 171.41,123.72 171.93,123.78 172.44,123.87 172.97,123.96 173.51,124.04 174.06,124.13 174.61,124.22 175.16,124.3 175.71,124.37 176.26,124.43 176.79,124.48 177.33,124.51 177.85,124.53 178.36,124.53 178.85,124.51 179.33,124.46 179.79,124.39 180.22,124.3 180.64,124.19 181.03,124.04 181.4,123.87 181.75,123.68 182.07,123.45 182.39,123.18 182.68,122.89 182.94,122.57 183.19,122.2 183.42,121.81 183.62,121.41 183.8,120.97 183.96,120.51 184.09,120.03 184.21,119.54 184.32,119.02 184.41,118.5 184.49,117.96 184.56,117.42 184.62,116.87 184.68,116.32 184.74,115.76 184.8,115.21 184.86,114.67 184.93,114.13 185.01,113.6 185.09,113.09 185.19,112.59 185.31,112.1 185.44,111.64 185.59,111.2 185.77,110.77 185.97,110.37 186.11,110.13" fill="none" stroke="#ecbb90" stroke-width="1.8" stroke-linecap="round" stroke-linejoin="round"/><polyline points="150.93,94.04 151.16,94.4 151.35,94.76 151.52,95.13 151.64,95.51 151.74,95.9 151.79,96.29 151.81,96.7 151.79,97.11 151.74,97.53 151.65,97.95 151.52,98.38 151.37,98.82 151.18,99.25 150.96,99.69 150.72,100.14 150.45,100.58 150.17,101.03 149.86,101.47 149.54,101.92 149.21,102.36 148.87,102.8 148.52,103.24 148.18,103.67 147.83,104.09 147.49,104.51 147.16,104.93 146.84,105.32 146.53,105.72 146.25,106.12 145.98,106.49 145.73,106.88 145.51,107.27 145.33,107.64 145.17,108.02 145.04,108.42 144.95,108.8 144.9,109.18 144.88,109.58 144.9,109.98 144.95,110.37 145.04,110.77 145.17,111.17 145.33,111.58 145.52,111.98 145.75,112.39 146,112.8 146.29,113.21 146.6,113.61 146.93,114.02 147.28,114.43 147.65,114.83 148.03,115.23 148.41,115.63 148.82,116.02 149.22,116.4 149.62,116.77 150.02,117.13 150.42,117.5 150.8,117.86 151.17,118.22 151.52,118.59 151.85,118.96 152.15,119.34 152.42,119.71 152.66,120.08 152.88,120.46 153.06,120.83 153.2,121.19 153.31,121.56 153.39,121.92 153.43,122.26 153.44,122.65 153.41,122.98 153.35,123.32 153.27,123.7 153.15,124.03 153.02,124.42 152.85,124.77 152.68,125.13 152.49,125.53 152.29,125.92 152.1,126.35 151.91,126.78 151.75,127.25 151.61,127.75 151.51,128.28 151.43,128.83 151.39,129.39 151.38,129.97 151.41,130.54 151.49,131.13 151.62,131.7 151.8,132.28 152.04,132.83 152.33,133.37 152.69,133.87 153.1,134.34 153.57,134.76 154.07,135.13 154.64,135.43 155.21,135.67 155.84,135.84 156.43,135.94 157.08,135.97 157.66,135.92 158.31,135.81 158.91,135.61 159.41,135.38 159.95,135.07 160.36,134.74 160.77,134.37 161.17,133.96 161.48,133.53 161.79,133.08 162.09,132.6 162.35,132.11 162.59,131.62 162.83,131.11 163.05,130.6 163.26,130.08 163.47,129.57 163.66,129.07 163.86,128.57 164.07,128.08 164.26,127.61 164.46,127.16 164.69,126.72 164.91,126.3 165.13,125.92 165.38,125.55 165.65,125.21 165.92,124.91 166.2,124.63 166.52,124.38 166.85,124.16 167.19,123.98 167.56,123.83 167.94,123.71 168.31,123.63 168.71,123.57 169.14,123.54 169.54,123.55 169.98,123.57 170.46,123.6 170.92,123.66 171.41,123.72 171.93,123.78 172.44,123.87 172.97,123.96 173.51,124.04 174.06,124.13 174.61,124.22 175.16,124.3 175.71,124.37 176.26,124.43 176.79,124.48 177.33,124.51 177.85,124.53 178.36,124.53 178.85,124.51 179.33,124.46 179.79,124.39 180.22,124.3 180.64,124.19 181.03,124.04 181.4,123.87 181.75,123.68 182.07,123.45 182.39,123.18 182.68,122.89 182.94,122.57 183.19,122.2 183.42,121.81 183.62,121.41 183.8,120.97 183.96,120.51 184.09,120.03 184.21,119.54 184.32,119.02 184.41,118.5 184.49,117.96 184.56,117.42 184.62,116.87 184.68,116.32 184.74,115.76 184.8,115.21 184.86,114.67 184.93,114.13 185.01,113.6 185.09,113.09 185.19,112.59 185.31,112.1 185.44,111.64 185.59,111.2 185.77,110.77 185.97,110.37 186.11,110.13" fill="none" stroke="#f4d2b2" stroke-width="0.63" stroke-linecap="round" stroke-linejoin="round"/><circle cx="141" cy="64.6" r="2.15" fill="#b0c8ea" stroke="#94b2dc" stroke-width="0.35"/><circle cx="136.8" cy="71" r="2.15" fill="#b0c8ea" stroke="#94b2dc" stroke-width="0.35"/><circle cx="145.2" cy="71" r="2.15" fill="#b0c8ea" stroke="#94b2dc" stroke-width="0.35"/><circle cx="141" cy="68.9" r="2.7" fill="url(#gG)"/><circle cx="73.8" cy="93.3" r="2.15" fill="#b0c8ea" stroke="#94b2dc" stroke-width="0.35"/><circle cx="69.6" cy="99.7" r="2.15" fill="#b0c8ea" stroke="#94b2dc" stroke-width="0.35"/><circle cx="78" cy="99.7" r="2.15" fill="#b0c8ea" stroke="#94b2dc" stroke-width="0.35"/><circle cx="73.8" cy="97.6" r="2.7" fill="url(#gG)"/><circle cx="133.8" cy="102.2" r="2.15" fill="#b0c8ea" stroke="#94b2dc" stroke-width="0.35"/><circle cx="129.6" cy="108.6" r="2.15" fill="#b0c8ea" stroke="#94b2dc" stroke-width="0.35"/><circle cx="138" cy="108.6" r="2.15" fill="#b0c8ea" stroke="#94b2dc" stroke-width="0.35"/><circle cx="133.8" cy="106.5" r="2.7" fill="url(#gG)"/><circle cx="85.2" cy="57.2" r="1.95" fill="#dedede" stroke="#bcbcbc" stroke-width="0.4"/><circle cx="93.8" cy="57.2" r="1.95" fill="#dedede" stroke="#bcbcbc" stroke-width="0.4"/><circle cx="89.5" cy="55.3" r="2.95" fill="url(#gO)"/><circle cx="89.5" cy="55.3" r="1.15" fill="none" stroke="#f3b0a8" stroke-width="0.45"/><circle cx="56.9" cy="81.9" r="1.95" fill="#dedede" stroke="#bcbcbc" stroke-width="0.4"/><circle cx="65.5" cy="81.9" r="1.95" fill="#dedede" stroke="#bcbcbc" stroke-width="0.4"/><circle cx="61.2" cy="80" r="2.95" fill="url(#gO)"/><circle cx="61.2" cy="80" r="1.15" fill="none" stroke="#f3b0a8" stroke-width="0.45"/><circle cx="100.9" cy="79.1" r="1.95" fill="#dedede" stroke="#bcbcbc" stroke-width="0.4"/><circle cx="109.5" cy="79.1" r="1.95" fill="#dedede" stroke="#bcbcbc" stroke-width="0.4"/><circle cx="105.2" cy="77.2" r="2.95" fill="url(#gO)"/><circle cx="105.2" cy="77.2" r="1.15" fill="none" stroke="#f3b0a8" stroke-width="0.45"/><circle cx="122.3" cy="51.1" r="1.95" fill="#dedede" stroke="#bcbcbc" stroke-width="0.4"/><circle cx="130.9" cy="51.1" r="1.95" fill="#dedede" stroke="#bcbcbc" stroke-width="0.4"/><circle cx="126.6" cy="49.2" r="2.95" fill="url(#gO)"/><circle cx="126.6" cy="49.2" r="1.15" fill="none" stroke="#f3b0a8" stroke-width="0.45"/><circle cx="187.7" cy="51.1" r="1.95" fill="#dedede" stroke="#bcbcbc" stroke-width="0.4"/><circle cx="196.3" cy="51.1" r="1.95" fill="#dedede" stroke="#bcbcbc" stroke-width="0.4"/><circle cx="192" cy="49.2" r="2.95" fill="url(#gO)"/><circle cx="192" cy="49.2" r="1.15" fill="none" stroke="#f3b0a8" stroke-width="0.45"/><circle cx="155.1" cy="75.1" r="1.95" fill="#dedede" stroke="#bcbcbc" stroke-width="0.4"/><circle cx="163.7" cy="75.1" r="1.95" fill="#dedede" stroke="#bcbcbc" stroke-width="0.4"/><circle cx="159.4" cy="73.2" r="2.95" fill="url(#gO)"/><circle cx="159.4" cy="73.2" r="1.15" fill="none" stroke="#f3b0a8" stroke-width="0.45"/><circle cx="173.5" cy="95.7" r="1.95" fill="#dedede" stroke="#bcbcbc" stroke-width="0.4"/><circle cx="182.1" cy="95.7" r="1.95" fill="#dedede" stroke="#bcbcbc" stroke-width="0.4"/><circle cx="177.8" cy="93.8" r="2.95" fill="url(#gO)"/><circle cx="177.8" cy="93.8" r="1.15" fill="none" stroke="#f3b0a8" stroke-width="0.45"/><circle cx="76.1" cy="96.7" r="1.95" fill="#dedede" stroke="#bcbcbc" stroke-width="0.4"/><circle cx="84.7" cy="96.7" r="1.95" fill="#dedede" stroke="#bcbcbc" stroke-width="0.4"/><circle cx="80.4" cy="94.8" r="2.95" fill="url(#gO)"/><circle cx="80.4" cy="94.8" r="1.15" fill="none" stroke="#f3b0a8" stroke-width="0.45"/><circle cx="55" cy="126.3" r="1.95" fill="#dedede" stroke="#bcbcbc" stroke-width="0.4"/><circle cx="63.6" cy="126.3" r="1.95" fill="#dedede" stroke="#bcbcbc" stroke-width="0.4"/><circle cx="59.3" cy="124.4" r="2.95" fill="url(#gO)"/><circle cx="59.3" cy="124.4" r="1.15" fill="none" stroke="#f3b0a8" stroke-width="0.45"/><circle cx="100.2" cy="136.3" r="1.95" fill="#dedede" stroke="#bcbcbc" stroke-width="0.4"/><circle cx="108.8" cy="136.3" r="1.95" fill="#dedede" stroke="#bcbcbc" stroke-width="0.4"/><circle cx="104.5" cy="134.4" r="2.95" fill="url(#gO)"/><circle cx="104.5" cy="134.4" r="1.15" fill="none" stroke="#f3b0a8" stroke-width="0.45"/><circle cx="115.1" cy="115.2" r="1.95" fill="#dedede" stroke="#bcbcbc" stroke-width="0.4"/><circle cx="123.7" cy="115.2" r="1.95" fill="#dedede" stroke="#bcbcbc" stroke-width="0.4"/><circle cx="119.4" cy="113.3" r="2.95" fill="url(#gO)"/><circle cx="119.4" cy="113.3" r="1.15" fill="none" stroke="#f3b0a8" stroke-width="0.45"/><circle cx="187.7" cy="141.9" r="1.95" fill="#dedede" stroke="#bcbcbc" stroke-width="0.4"/><circle cx="196.3" cy="141.9" r="1.95" fill="#dedede" stroke="#bcbcbc" stroke-width="0.4"/><circle cx="192" cy="140" r="2.95" fill="url(#gO)"/><circle cx="192" cy="140" r="1.15" fill="none" stroke="#f3b0a8" stroke-width="0.45"/></g><g clip-path="url(#cb2)"><polyline points="299,37 299.84,37.73 300.95,38.71 302.28,39.87 303.75,41.16 305.32,42.52 306.92,43.9 308.5,45.25 310,46.5 311.45,47.72 312.91,49 314.38,50.3 315.88,51.58 317.38,52.83 318.91,54 320.45,55.07 322,56 323.58,56.78 325.2,57.43 326.85,57.98 328.5,58.46 330.15,58.89 331.8,59.3 333.42,59.73 335,60.2 336.54,60.7 338.05,61.19 339.53,61.67 341,62.14 342.47,62.61 343.95,63.08 345.46,63.54 347,64 348.57,64.46 350.16,64.92 351.76,65.38 353.38,65.83 355.01,66.27 356.66,66.7 358.32,67.11 360,67.5 361.71,67.86 363.45,68.21 365.22,68.53 367,68.84 368.78,69.14 370.55,69.43 372.29,69.72 374,70 375.67,70.27 377.32,70.52 378.95,70.76 380.56,71 382.17,71.24 383.77,71.48 385.38,71.73 387,72 388.64,72.28 390.3,72.57 391.96,72.86 393.62,73.16 395.27,73.47 396.89,73.79 398.47,74.14 400,74.5 401.45,74.86 402.82,75.2 404.14,75.54 405.44,75.91 406.74,76.31 408.09,76.79 409.5,77.34 411,78 412.64,78.79 414.41,79.71 416.25,80.71 418.12,81.78 419.98,82.88 421.78,83.96 423.47,85.02 425,86 426.38,86.92 427.65,87.8 428.83,88.65 429.94,89.5 430.99,90.35 432.01,91.2 433,92.08 434,93 435.02,94.01 436.05,95.12 437.08,96.28 438.06,97.44 438.98,98.54 439.79,99.54 440.47,100.38 441,101" fill="none" stroke="#e3ab8b" stroke-width="2.3" stroke-linecap="round" stroke-linejoin="round"/><polyline points="299,37 299.84,37.73 300.95,38.71 302.28,39.87 303.75,41.16 305.32,42.52 306.92,43.9 308.5,45.25 310,46.5 311.45,47.72 312.91,49 314.38,50.3 315.88,51.58 317.38,52.83 318.91,54 320.45,55.07 322,56 323.58,56.78 325.2,57.43 326.85,57.98 328.5,58.46 330.15,58.89 331.8,59.3 333.42,59.73 335,60.2 336.54,60.7 338.05,61.19 339.53,61.67 341,62.14 342.47,62.61 343.95,63.08 345.46,63.54 347,64 348.57,64.46 350.16,64.92 351.76,65.38 353.38,65.83 355.01,66.27 356.66,66.7 358.32,67.11 360,67.5 361.71,67.86 363.45,68.21 365.22,68.53 367,68.84 368.78,69.14 370.55,69.43 372.29,69.72 374,70 375.67,70.27 377.32,70.52 378.95,70.76 380.56,71 382.17,71.24 383.77,71.48 385.38,71.73 387,72 388.64,72.28 390.3,72.57 391.96,72.86 393.62,73.16 395.27,73.47 396.89,73.79 398.47,74.14 400,74.5 401.45,74.86 402.82,75.2 404.14,75.54 405.44,75.91 406.74,76.31 408.09,76.79 409.5,77.34 411,78 412.64,78.79 414.41,79.71 416.25,80.71 418.12,81.78 419.98,82.88 421.78,83.96 423.47,85.02 425,86 426.38,86.92 427.65,87.8 428.83,88.65 429.94,89.5 430.99,90.35 432.01,91.2 433,92.08 434,93 435.02,94.01 436.05,95.12 437.08,96.28 438.06,97.44 438.98,98.54 439.79,99.54 440.47,100.38 441,101" fill="none" stroke="#f3cdb6" stroke-width="0.9659999999999999" stroke-linecap="round" stroke-linejoin="round" stroke-dasharray="1.3 0.9"/><polyline points="349,37 349.48,37.94 350.12,39.2 350.9,40.71 351.75,42.38 352.63,44.12 353.5,45.86 354.3,47.51 355,49 355.62,50.36 356.21,51.68 356.78,52.96 357.31,54.22 357.81,55.45 358.26,56.65 358.66,57.84 359,59 359.28,60.11 359.51,61.14 359.68,62.12 359.81,63.09 359.9,64.09 359.96,65.13 359.99,66.26 360,67.5 359.98,68.85 359.94,70.29 359.86,71.78 359.75,73.34 359.61,74.95 359.44,76.61 359.23,78.29 359,80 358.73,81.8 358.41,83.71 358.07,85.71 357.69,87.72 357.29,89.7 356.87,91.61 356.44,93.4 356,95 355.55,96.43 355.08,97.74 354.6,98.95 354.09,100.06 353.58,101.11 353.06,102.1 352.53,103.06 352,104 351.46,104.89 350.91,105.72 350.34,106.48 349.77,107.2 349.19,107.9 348.62,108.58 348.06,109.28 347.5,110 346.92,110.77 346.31,111.6 345.68,112.44 345.07,113.28 344.49,114.06 343.97,114.76 343.53,115.35 343.2,115.8" fill="none" stroke="#e3ab8b" stroke-width="2.3" stroke-linecap="round" stroke-linejoin="round"/><polyline points="349,37 349.48,37.94 350.12,39.2 350.9,40.71 351.75,42.38 352.63,44.12 353.5,45.86 354.3,47.51 355,49 355.62,50.36 356.21,51.68 356.78,52.96 357.31,54.22 357.81,55.45 358.26,56.65 358.66,57.84 359,59 359.28,60.11 359.51,61.14 359.68,62.12 359.81,63.09 359.9,64.09 359.96,65.13 359.99,66.26 360,67.5 359.98,68.85 359.94,70.29 359.86,71.78 359.75,73.34 359.61,74.95 359.44,76.61 359.23,78.29 359,80 358.73,81.8 358.41,83.71 358.07,85.71 357.69,87.72 357.29,89.7 356.87,91.61 356.44,93.4 356,95 355.55,96.43 355.08,97.74 354.6,98.95 354.09,100.06 353.58,101.11 353.06,102.1 352.53,103.06 352,104 351.46,104.89 350.91,105.72 350.34,106.48 349.77,107.2 349.19,107.9 348.62,108.58 348.06,109.28 347.5,110 346.92,110.77 346.31,111.6 345.68,112.44 345.07,113.28 344.49,114.06 343.97,114.76 343.53,115.35 343.2,115.8" fill="none" stroke="#f3cdb6" stroke-width="0.9659999999999999" stroke-linecap="round" stroke-linejoin="round" stroke-dasharray="1.3 0.9"/><polyline points="269,66 269.84,66.91 270.95,68.11 272.28,69.53 273.75,71.12 275.32,72.83 276.92,74.58 278.5,76.32 280,78 281.46,79.68 282.95,81.45 284.46,83.27 285.98,85.11 287.51,86.93 289.03,88.71 290.53,90.41 292,92 293.52,93.53 295.14,95.08 296.79,96.59 298.4,98.03 299.92,99.35 301.29,100.54 302.43,101.53 303.3,102.3" fill="none" stroke="#e3ab8b" stroke-width="2.3" stroke-linecap="round" stroke-linejoin="round"/><polyline points="269,66 269.84,66.91 270.95,68.11 272.28,69.53 273.75,71.12 275.32,72.83 276.92,74.58 278.5,76.32 280,78 281.46,79.68 282.95,81.45 284.46,83.27 285.98,85.11 287.51,86.93 289.03,88.71 290.53,90.41 292,92 293.52,93.53 295.14,95.08 296.79,96.59 298.4,98.03 299.92,99.35 301.29,100.54 302.43,101.53 303.3,102.3" fill="none" stroke="#f3cdb6" stroke-width="0.9659999999999999" stroke-linecap="round" stroke-linejoin="round" stroke-dasharray="1.3 0.9"/><polyline points="303.3,102.3 304.18,103 305.32,103.95 306.69,105.09 308.21,106.34 309.86,107.63 311.57,108.88 313.3,110.03 315,111 316.73,111.84 318.56,112.63 320.46,113.37 322.41,114.06 324.36,114.67 326.3,115.2 328.19,115.65 330,116 331.75,116.26 333.46,116.42 335.14,116.51 336.8,116.51 338.43,116.44 340.04,116.3 341.63,116.08 343.2,115.8 344.74,115.41 346.24,114.88 347.72,114.26 349.17,113.57 350.62,112.87 352.07,112.18 353.52,111.55 355,111 356.5,110.51 358.01,110.04 359.53,109.59 361.05,109.17 362.56,108.79 364.07,108.46 365.55,108.2 367,108 368.4,107.86 369.75,107.77 371.07,107.73 372.38,107.75 373.7,107.83 375.06,107.98 376.49,108.2 378,108.5 379.61,108.87 381.31,109.3 383.07,109.8 384.88,110.38 386.69,111.02 388.5,111.76 390.28,112.58 392,113.5 393.7,114.56 395.43,115.79 397.15,117.12 398.85,118.53 400.51,119.97 402.1,121.39 403.6,122.75 405,124 406.27,125.15 407.42,126.24 408.48,127.29 409.48,128.31 410.44,129.33 411.39,130.35 412.37,131.4 413.4,132.5 414.47,133.63 415.55,134.77 416.64,135.92 417.72,137.09 418.81,138.28 419.89,139.5 420.95,140.73 422,142 423.08,143.38 424.23,144.9 425.4,146.5 426.54,148.09 427.61,149.61 428.58,150.99 429.39,152.14 430,153" fill="none" stroke="#e3ab8b" stroke-width="2.3" stroke-linecap="round" stroke-linejoin="round"/><polyline points="303.3,102.3 304.18,103 305.32,103.95 306.69,105.09 308.21,106.34 309.86,107.63 311.57,108.88 313.3,110.03 315,111 316.73,111.84 318.56,112.63 320.46,113.37 322.41,114.06 324.36,114.67 326.3,115.2 328.19,115.65 330,116 331.75,116.26 333.46,116.42 335.14,116.51 336.8,116.51 338.43,116.44 340.04,116.3 341.63,116.08 343.2,115.8 344.74,115.41 346.24,114.88 347.72,114.26 349.17,113.57 350.62,112.87 352.07,112.18 353.52,111.55 355,111 356.5,110.51 358.01,110.04 359.53,109.59 361.05,109.17 362.56,108.79 364.07,108.46 365.55,108.2 367,108 368.4,107.86 369.75,107.77 371.07,107.73 372.38,107.75 373.7,107.83 375.06,107.98 376.49,108.2 378,108.5 379.61,108.87 381.31,109.3 383.07,109.8 384.88,110.38 386.69,111.02 388.5,111.76 390.28,112.58 392,113.5 393.7,114.56 395.43,115.79 397.15,117.12 398.85,118.53 400.51,119.97 402.1,121.39 403.6,122.75 405,124 406.27,125.15 407.42,126.24 408.48,127.29 409.48,128.31 410.44,129.33 411.39,130.35 412.37,131.4 413.4,132.5 414.47,133.63 415.55,134.77 416.64,135.92 417.72,137.09 418.81,138.28 419.89,139.5 420.95,140.73 422,142 423.08,143.38 424.23,144.9 425.4,146.5 426.54,148.09 427.61,149.61 428.58,150.99 429.39,152.14 430,153" fill="none" stroke="#f3cdb6" stroke-width="0.9659999999999999" stroke-linecap="round" stroke-linejoin="round" stroke-dasharray="1.3 0.9"/><polyline points="343.2,115.8 342.19,116.74 340.87,118 339.3,119.49 337.54,121.15 335.66,122.9 333.74,124.68 331.83,126.4 330,128 328.2,129.5 326.33,130.99 324.42,132.47 322.49,133.95 320.56,135.44 318.65,136.93 316.79,138.45 315,140 313.19,141.67 311.3,143.48 309.41,145.37 307.56,147.25 305.83,149.03 304.29,150.64 302.99,151.99 302,153" fill="none" stroke="#e3ab8b" stroke-width="2.3" stroke-linecap="round" stroke-linejoin="round"/><polyline points="343.2,115.8 342.19,116.74 340.87,118 339.3,119.49 337.54,121.15 335.66,122.9 333.74,124.68 331.83,126.4 330,128 328.2,129.5 326.33,130.99 324.42,132.47 322.49,133.95 320.56,135.44 318.65,136.93 316.79,138.45 315,140 313.19,141.67 311.3,143.48 309.41,145.37 307.56,147.25 305.83,149.03 304.29,150.64 302.99,151.99 302,153" fill="none" stroke="#f3cdb6" stroke-width="0.9659999999999999" stroke-linecap="round" stroke-linejoin="round" stroke-dasharray="1.3 0.9"/><polyline points="341,36 340.45,36.05 339.89,36.1 339.35,36.15 338.81,36.22 338.28,36.29 337.77,36.38 337.27,36.47 336.79,36.59 336.33,36.72 335.89,36.86 335.48,37.03 335.09,37.21 334.73,37.42 334.39,37.65 334.08,37.91 333.8,38.18 333.55,38.48 333.32,38.81 333.12,39.16 332.95,39.53 332.8,39.92 332.67,40.34 332.58,40.78 332.5,41.23 332.44,41.71 332.39,42.21 332.37,42.71 332.35,43.23 332.33,43.77 332.34,44.31 332.34,44.85 332.33,45.4 332.32,45.96 332.31,46.52 332.28,47.07 332.24,47.62 332.19,48.16 332.12,48.69 332.04,49.21 331.95,49.7 331.84,50.18 331.7,50.64 331.56,51.07 331.39,51.48 331.2,51.86 330.99,52.22 330.75,52.55 330.49,52.84 330.23,53.11 329.92,53.35 329.59,53.58 329.24,53.76 328.88,53.91 328.49,54.06 328.06,54.19 327.63,54.29 327.19,54.36 326.72,54.43 326.22,54.5 325.71,54.55 325.2,54.57 324.67,54.62 324.13,54.66 323.58,54.71 323.02,54.75 322.47,54.81 321.92,54.88 321.38,54.95 320.83,55.05 320.29,55.19 319.78,55.31 319.29,55.44 318.8,55.6 318.33,55.79 317.9,56 317.5,56.2 317.13,56.43 316.76,56.71 316.43,57.01 316.15,57.31 315.9,57.62 315.68,57.97 315.47,58.35 315.3,58.76 315.18,59.16 315.09,59.58 315.03,60.02 314.98,60.5 314.97,60.99 314.99,61.48 315.03,61.97 315.08,62.49 315.16,63.02 315.25,63.56 315.36,64.09 315.47,64.63 315.59,65.17 315.72,65.72 315.85,66.25 315.97,66.79 316.09,67.32 316.2,67.84 316.31,68.35 316.39,68.85 316.46,69.35 316.5,69.83 316.53,70.29 316.54,70.72 316.52,71.16 316.46,71.58 316.37,71.99 316.27,72.35 316.14,72.7 315.96,73.06 315.75,73.4 315.52,73.7 315.26,73.98 314.96,74.27 314.63,74.55 314.27,74.8 313.9,75.03 313.49,75.26 313.06,75.5 312.61,75.72 312.14,75.92 311.66,76.13 311.16,76.34 310.66,76.54 310.14,76.75 309.63,76.96 309.12,77.17 308.61,77.38 308.1,77.61 307.61,77.85 307.13,78.09 306.67,78.33 306.22,78.61 305.8,78.9 305.41,79.18 305.04,79.47 304.7,79.8 304.39,80.15 304.12,80.48 303.89,80.82 303.68,81.22 303.51,81.62 303.39,82 303.3,82.4 303.24,82.84 303.22,83.29 303.25,83.72 303.3,84.17 303.38,84.64 303.5,85.12 303.65,85.58 303.82,86.07 304.01,86.59 304.24,87.09 304.49,87.57 304.76,88.05 305.03,88.55 305.34,89.02 305.65,89.48 305.96,89.94 306.27,90.38 306.59,90.81 306.89,91.25 307.18,91.69 307.45,92.1 307.71,92.5 307.94,92.93 308.15,93.35 308.33,93.76 308.48,94.16 308.59,94.58 308.67,94.99 308.71,95.41 308.72,95.83 308.68,96.23 308.61,96.63 308.5,97.07 308.34,97.5 308.15,97.88 307.92,98.27 307.65,98.72 307.34,99.13 307.01,99.48 306.64,99.86 306.24,100.26 305.8,100.61 305.36,100.91 304.9,101.25 304.4,101.55 303.9,101.8 303.4,102.05 302.89,102.26 302.38,102.44 301.87,102.63 301.39,102.77 300.91,102.88 300.42,103.05 299.99,103.17 299.58,103.26 299.15,103.41 298.76,103.55 298.42,103.65 298.07,103.81 297.74,104 297.47,104.16 297.19,104.37 296.92,104.63 296.71,104.86 296.5,105.14 296.28,105.48 296.12,105.81 295.97,106.16 295.81,106.58 295.69,107 295.58,107.44 295.48,107.91 295.39,108.4 295.32,108.91 295.26,109.43 295.21,109.97 295.17,110.52 295.13,111.07 295.11,111.63 295.09,112.18 295.07,112.74 295.04,113.29 295.01,113.83 294.96,114.37 294.9,114.9 294.83,115.41 294.73,115.92 294.62,116.4 294.5,116.85 294.33,117.3 294.14,117.73 293.95,118.11 293.71,118.48 293.44,118.83 293.15,119.14 292.85,119.41 292.5,119.68 292.12,119.91 291.74,120.08 291.33,120.25 290.87,120.39 290.42,120.49 289.96,120.55 289.45,120.61 288.93,120.64 288.42,120.63 287.9,120.61 287.35,120.57 286.8,120.51 286.25,120.43 285.71,120.35 285.16,120.25 284.61,120.15 284.07,120.04 283.54,119.94 283.03,119.83 282.51,119.72 282,119.64 281.51,119.57 281.06,119.5 280.61,119.44 280.15,119.43 279.7,119.45 279.29,119.48 278.91,119.52 278.53,119.61 278.14,119.73 277.77,119.89 277.43,120.08 277.13,120.28 276.82,120.53 276.52,120.81 276.23,121.13 275.96,121.47 275.71,121.84 275.48,122.23 275.24,122.65 275.01,123.1 274.79,123.56 274.58,124.04 274.38,124.53 274.17,125.04 273.97,125.55 273.78,126.07 273.58,126.59 273.38,127.11 273.18,127.62 272.97,128.13 272.76,128.62 272.54,129.1 272.31,129.56 272.08,130 271.83,130.42 271.58,130.82 271.31,131.18 271.03,131.52 270.75,131.83 270.46,132.1 270.14,132.34 269.81,132.56 269.74,132.6" fill="none" stroke="#d0977b" stroke-width="1.8" stroke-linecap="round" stroke-linejoin="round"/><polyline points="341,36 340.45,36.05 339.89,36.1 339.35,36.15 338.81,36.22 338.28,36.29 337.77,36.38 337.27,36.47 336.79,36.59 336.33,36.72 335.89,36.86 335.48,37.03 335.09,37.21 334.73,37.42 334.39,37.65 334.08,37.91 333.8,38.18 333.55,38.48 333.32,38.81 333.12,39.16 332.95,39.53 332.8,39.92 332.67,40.34 332.58,40.78 332.5,41.23 332.44,41.71 332.39,42.21 332.37,42.71 332.35,43.23 332.33,43.77 332.34,44.31 332.34,44.85 332.33,45.4 332.32,45.96 332.31,46.52 332.28,47.07 332.24,47.62 332.19,48.16 332.12,48.69 332.04,49.21 331.95,49.7 331.84,50.18 331.7,50.64 331.56,51.07 331.39,51.48 331.2,51.86 330.99,52.22 330.75,52.55 330.49,52.84 330.23,53.11 329.92,53.35 329.59,53.58 329.24,53.76 328.88,53.91 328.49,54.06 328.06,54.19 327.63,54.29 327.19,54.36 326.72,54.43 326.22,54.5 325.71,54.55 325.2,54.57 324.67,54.62 324.13,54.66 323.58,54.71 323.02,54.75 322.47,54.81 321.92,54.88 321.38,54.95 320.83,55.05 320.29,55.19 319.78,55.31 319.29,55.44 318.8,55.6 318.33,55.79 317.9,56 317.5,56.2 317.13,56.43 316.76,56.71 316.43,57.01 316.15,57.31 315.9,57.62 315.68,57.97 315.47,58.35 315.3,58.76 315.18,59.16 315.09,59.58 315.03,60.02 314.98,60.5 314.97,60.99 314.99,61.48 315.03,61.97 315.08,62.49 315.16,63.02 315.25,63.56 315.36,64.09 315.47,64.63 315.59,65.17 315.72,65.72 315.85,66.25 315.97,66.79 316.09,67.32 316.2,67.84 316.31,68.35 316.39,68.85 316.46,69.35 316.5,69.83 316.53,70.29 316.54,70.72 316.52,71.16 316.46,71.58 316.37,71.99 316.27,72.35 316.14,72.7 315.96,73.06 315.75,73.4 315.52,73.7 315.26,73.98 314.96,74.27 314.63,74.55 314.27,74.8 313.9,75.03 313.49,75.26 313.06,75.5 312.61,75.72 312.14,75.92 311.66,76.13 311.16,76.34 310.66,76.54 310.14,76.75 309.63,76.96 309.12,77.17 308.61,77.38 308.1,77.61 307.61,77.85 307.13,78.09 306.67,78.33 306.22,78.61 305.8,78.9 305.41,79.18 305.04,79.47 304.7,79.8 304.39,80.15 304.12,80.48 303.89,80.82 303.68,81.22 303.51,81.62 303.39,82 303.3,82.4 303.24,82.84 303.22,83.29 303.25,83.72 303.3,84.17 303.38,84.64 303.5,85.12 303.65,85.58 303.82,86.07 304.01,86.59 304.24,87.09 304.49,87.57 304.76,88.05 305.03,88.55 305.34,89.02 305.65,89.48 305.96,89.94 306.27,90.38 306.59,90.81 306.89,91.25 307.18,91.69 307.45,92.1 307.71,92.5 307.94,92.93 308.15,93.35 308.33,93.76 308.48,94.16 308.59,94.58 308.67,94.99 308.71,95.41 308.72,95.83 308.68,96.23 308.61,96.63 308.5,97.07 308.34,97.5 308.15,97.88 307.92,98.27 307.65,98.72 307.34,99.13 307.01,99.48 306.64,99.86 306.24,100.26 305.8,100.61 305.36,100.91 304.9,101.25 304.4,101.55 303.9,101.8 303.4,102.05 302.89,102.26 302.38,102.44 301.87,102.63 301.39,102.77 300.91,102.88 300.42,103.05 299.99,103.17 299.58,103.26 299.15,103.41 298.76,103.55 298.42,103.65 298.07,103.81 297.74,104 297.47,104.16 297.19,104.37 296.92,104.63 296.71,104.86 296.5,105.14 296.28,105.48 296.12,105.81 295.97,106.16 295.81,106.58 295.69,107 295.58,107.44 295.48,107.91 295.39,108.4 295.32,108.91 295.26,109.43 295.21,109.97 295.17,110.52 295.13,111.07 295.11,111.63 295.09,112.18 295.07,112.74 295.04,113.29 295.01,113.83 294.96,114.37 294.9,114.9 294.83,115.41 294.73,115.92 294.62,116.4 294.5,116.85 294.33,117.3 294.14,117.73 293.95,118.11 293.71,118.48 293.44,118.83 293.15,119.14 292.85,119.41 292.5,119.68 292.12,119.91 291.74,120.08 291.33,120.25 290.87,120.39 290.42,120.49 289.96,120.55 289.45,120.61 288.93,120.64 288.42,120.63 287.9,120.61 287.35,120.57 286.8,120.51 286.25,120.43 285.71,120.35 285.16,120.25 284.61,120.15 284.07,120.04 283.54,119.94 283.03,119.83 282.51,119.72 282,119.64 281.51,119.57 281.06,119.5 280.61,119.44 280.15,119.43 279.7,119.45 279.29,119.48 278.91,119.52 278.53,119.61 278.14,119.73 277.77,119.89 277.43,120.08 277.13,120.28 276.82,120.53 276.52,120.81 276.23,121.13 275.96,121.47 275.71,121.84 275.48,122.23 275.24,122.65 275.01,123.1 274.79,123.56 274.58,124.04 274.38,124.53 274.17,125.04 273.97,125.55 273.78,126.07 273.58,126.59 273.38,127.11 273.18,127.62 272.97,128.13 272.76,128.62 272.54,129.1 272.31,129.56 272.08,130 271.83,130.42 271.58,130.82 271.31,131.18 271.03,131.52 270.75,131.83 270.46,132.1 270.14,132.34 269.81,132.56 269.74,132.6" fill="none" stroke="#dfae95" stroke-width="0.63" stroke-linecap="round" stroke-linejoin="round"/><polyline points="338.4,33.71 338.29,34.15 338.2,34.62 338.14,35.1 338.09,35.6 338.07,36.11 338.06,36.63 338.07,37.17 338.08,37.71 338.11,38.26 338.13,38.81 338.16,39.36 338.19,39.92 338.21,40.47 338.23,41.02 338.24,41.56 338.23,42.09 338.21,42.62 338.18,43.12 338.12,43.61 338.04,44.09 337.94,44.55 337.82,44.98 337.67,45.4 337.48,45.79 337.28,46.15 337.05,46.49 336.78,46.82 336.48,47.11 336.17,47.37 335.8,47.63 335.4,47.86 335,48.04 334.57,48.2 334.09,48.35 333.61,48.47 333.12,48.54 332.61,48.61 332.08,48.65 331.55,48.67 331.01,48.68 330.47,48.68 329.91,48.67 329.36,48.65 328.8,48.64 328.25,48.62 327.69,48.62 327.15,48.61 326.61,48.63 326.08,48.66 325.56,48.7 325.07,48.76 324.58,48.84 324.1,48.97 323.65,49.1 323.24,49.25 322.83,49.44 322.43,49.69 322.07,49.94 321.77,50.2 321.47,50.51 321.17,50.88 320.92,51.26 320.74,51.63 320.56,52.03 320.38,52.51 320.25,53 320.18,53.46 320.14,53.94 320.08,54.47 320.06,55.02 320.09,55.54 320.13,56.07 320.18,56.62 320.24,57.17 320.31,57.72 320.4,58.27 320.48,58.82 320.56,59.36 320.65,59.9 320.72,60.43 320.78,60.96 320.83,61.47 320.88,61.96 320.91,62.43 320.9,62.91 320.88,63.37 320.83,63.8 320.77,64.2 320.68,64.59 320.54,64.98 320.38,65.35 320.19,65.69 319.99,65.99 319.74,66.29 319.46,66.59 319.14,66.86 318.81,67.11 318.45,67.33 318.06,67.55 317.64,67.77 317.19,67.97 316.73,68.15 316.26,68.32 315.76,68.49 315.25,68.66 314.73,68.83 314.2,68.99 313.68,69.15 313.15,69.31 312.62,69.48 312.09,69.65 311.57,69.84 311.07,70.03 310.58,70.23 310.11,70.43 309.65,70.66 309.22,70.92 308.82,71.17 308.44,71.43 308.09,71.72 307.77,72.04 307.48,72.37 307.24,72.7 307.03,73.05 306.84,73.44 306.69,73.85 306.59,74.24 306.52,74.65 306.46,75.11 306.45,75.58 306.49,76.03 306.55,76.49 306.62,76.99 306.73,77.49 306.87,77.98 307.03,78.48 307.2,79 307.39,79.52 307.6,80.03 307.81,80.54 308.03,81.05 308.26,81.56 308.48,82.06 308.69,82.57 308.9,83.05 309.11,83.53 309.29,84.01 309.46,84.49 309.61,84.93 309.74,85.37 309.84,85.82 309.91,86.25 309.96,86.65 309.98,87.05 309.95,87.46 309.9,87.83 309.84,88.13 309.75,88.45 309.6,88.82 309.43,89.15 309.24,89.4 309.03,89.68 308.77,90.04 308.48,90.38 308.18,90.67 307.85,90.98 307.5,91.34 307.12,91.68 306.73,92.01 306.33,92.36 305.92,92.72 305.5,93.07 305.08,93.43 304.65,93.79 304.23,94.15 303.82,94.51 303.41,94.87 303.02,95.22 302.64,95.58 302.28,95.95 301.94,96.27 301.62,96.6 301.33,96.96 301.06,97.32 300.84,97.6 300.63,97.9 300.45,98.27 300.31,98.59 300.22,98.83 300.13,99.14 300.07,99.54 300.08,99.79 300.11,100.02 300.12,100.41 300.16,100.79 300.27,101.08 300.36,101.44 300.42,101.92 300.56,102.32 300.67,102.73 300.76,103.25 300.87,103.74 300.98,104.23 301.06,104.77 301.15,105.31 301.21,105.86 301.26,106.41 301.29,106.97 301.3,107.54 301.29,108.09 301.27,108.63 301.2,109.18 301.12,109.71 301.04,110.2 300.91,110.69 300.75,111.16 300.6,111.58 300.41,111.99 300.18,112.38 299.96,112.72 299.7,113.04 299.42,113.33 299.12,113.59 298.8,113.82 298.46,114.01 298.09,114.19 297.7,114.35 297.28,114.47 296.85,114.58 296.38,114.68 295.89,114.76 295.38,114.82 294.87,114.86 294.34,114.89 293.79,114.9 293.24,114.91 292.69,114.9 292.14,114.89 291.58,114.87 291.02,114.85 290.48,114.83 289.94,114.81 289.41,114.8 288.89,114.8 288.4,114.8 287.92,114.81 287.44,114.85 286.99,114.9 286.58,114.96 286.16,115.05 285.76,115.18 285.41,115.31 285.09,115.45 284.74,115.66 284.43,115.88 284.17,116.11 283.92,116.37 283.65,116.69 283.43,117.02 283.24,117.36 283.04,117.74 282.84,118.16 282.67,118.58 282.53,119.02 282.37,119.48 282.2,119.97 282.04,120.48 281.9,120.99 281.74,121.5 281.58,122.03 281.41,122.56 281.24,123.09 281.06,123.62 280.88,124.14 280.69,124.65 280.49,125.14 280.28,125.62 280.05,126.09 279.81,126.53 279.56,126.94 279.31,127.32 279.03,127.68 278.73,128.01 278.41,128.31 278.09,128.57 277.76,128.8 277.41,128.99 277.02,129.16 276.63,129.29 276.23,129.38 275.81,129.44 275.38,129.47 274.93,129.46 274.46,129.43 273.99,129.37 273.51,129.29 273.02,129.18 272.52,129.05 272.01,128.91 271.5,128.75 270.98,128.58 270.45,128.41 269.93,128.23 269.4,128.05 268.88,127.87 268.35,127.7 267.82,127.55 267.31,127.4 267.21,127.37" fill="none" stroke="#e8984f" stroke-width="1.8" stroke-linecap="round" stroke-linejoin="round"/><polyline points="338.4,33.71 338.29,34.15 338.2,34.62 338.14,35.1 338.09,35.6 338.07,36.11 338.06,36.63 338.07,37.17 338.08,37.71 338.11,38.26 338.13,38.81 338.16,39.36 338.19,39.92 338.21,40.47 338.23,41.02 338.24,41.56 338.23,42.09 338.21,42.62 338.18,43.12 338.12,43.61 338.04,44.09 337.94,44.55 337.82,44.98 337.67,45.4 337.48,45.79 337.28,46.15 337.05,46.49 336.78,46.82 336.48,47.11 336.17,47.37 335.8,47.63 335.4,47.86 335,48.04 334.57,48.2 334.09,48.35 333.61,48.47 333.12,48.54 332.61,48.61 332.08,48.65 331.55,48.67 331.01,48.68 330.47,48.68 329.91,48.67 329.36,48.65 328.8,48.64 328.25,48.62 327.69,48.62 327.15,48.61 326.61,48.63 326.08,48.66 325.56,48.7 325.07,48.76 324.58,48.84 324.1,48.97 323.65,49.1 323.24,49.25 322.83,49.44 322.43,49.69 322.07,49.94 321.77,50.2 321.47,50.51 321.17,50.88 320.92,51.26 320.74,51.63 320.56,52.03 320.38,52.51 320.25,53 320.18,53.46 320.14,53.94 320.08,54.47 320.06,55.02 320.09,55.54 320.13,56.07 320.18,56.62 320.24,57.17 320.31,57.72 320.4,58.27 320.48,58.82 320.56,59.36 320.65,59.9 320.72,60.43 320.78,60.96 320.83,61.47 320.88,61.96 320.91,62.43 320.9,62.91 320.88,63.37 320.83,63.8 320.77,64.2 320.68,64.59 320.54,64.98 320.38,65.35 320.19,65.69 319.99,65.99 319.74,66.29 319.46,66.59 319.14,66.86 318.81,67.11 318.45,67.33 318.06,67.55 317.64,67.77 317.19,67.97 316.73,68.15 316.26,68.32 315.76,68.49 315.25,68.66 314.73,68.83 314.2,68.99 313.68,69.15 313.15,69.31 312.62,69.48 312.09,69.65 311.57,69.84 311.07,70.03 310.58,70.23 310.11,70.43 309.65,70.66 309.22,70.92 308.82,71.17 308.44,71.43 308.09,71.72 307.77,72.04 307.48,72.37 307.24,72.7 307.03,73.05 306.84,73.44 306.69,73.85 306.59,74.24 306.52,74.65 306.46,75.11 306.45,75.58 306.49,76.03 306.55,76.49 306.62,76.99 306.73,77.49 306.87,77.98 307.03,78.48 307.2,79 307.39,79.52 307.6,80.03 307.81,80.54 308.03,81.05 308.26,81.56 308.48,82.06 308.69,82.57 308.9,83.05 309.11,83.53 309.29,84.01 309.46,84.49 309.61,84.93 309.74,85.37 309.84,85.82 309.91,86.25 309.96,86.65 309.98,87.05 309.95,87.46 309.9,87.83 309.84,88.13 309.75,88.45 309.6,88.82 309.43,89.15 309.24,89.4 309.03,89.68 308.77,90.04 308.48,90.38 308.18,90.67 307.85,90.98 307.5,91.34 307.12,91.68 306.73,92.01 306.33,92.36 305.92,92.72 305.5,93.07 305.08,93.43 304.65,93.79 304.23,94.15 303.82,94.51 303.41,94.87 303.02,95.22 302.64,95.58 302.28,95.95 301.94,96.27 301.62,96.6 301.33,96.96 301.06,97.32 300.84,97.6 300.63,97.9 300.45,98.27 300.31,98.59 300.22,98.83 300.13,99.14 300.07,99.54 300.08,99.79 300.11,100.02 300.12,100.41 300.16,100.79 300.27,101.08 300.36,101.44 300.42,101.92 300.56,102.32 300.67,102.73 300.76,103.25 300.87,103.74 300.98,104.23 301.06,104.77 301.15,105.31 301.21,105.86 301.26,106.41 301.29,106.97 301.3,107.54 301.29,108.09 301.27,108.63 301.2,109.18 301.12,109.71 301.04,110.2 300.91,110.69 300.75,111.16 300.6,111.58 300.41,111.99 300.18,112.38 299.96,112.72 299.7,113.04 299.42,113.33 299.12,113.59 298.8,113.82 298.46,114.01 298.09,114.19 297.7,114.35 297.28,114.47 296.85,114.58 296.38,114.68 295.89,114.76 295.38,114.82 294.87,114.86 294.34,114.89 293.79,114.9 293.24,114.91 292.69,114.9 292.14,114.89 291.58,114.87 291.02,114.85 290.48,114.83 289.94,114.81 289.41,114.8 288.89,114.8 288.4,114.8 287.92,114.81 287.44,114.85 286.99,114.9 286.58,114.96 286.16,115.05 285.76,115.18 285.41,115.31 285.09,115.45 284.74,115.66 284.43,115.88 284.17,116.11 283.92,116.37 283.65,116.69 283.43,117.02 283.24,117.36 283.04,117.74 282.84,118.16 282.67,118.58 282.53,119.02 282.37,119.48 282.2,119.97 282.04,120.48 281.9,120.99 281.74,121.5 281.58,122.03 281.41,122.56 281.24,123.09 281.06,123.62 280.88,124.14 280.69,124.65 280.49,125.14 280.28,125.62 280.05,126.09 279.81,126.53 279.56,126.94 279.31,127.32 279.03,127.68 278.73,128.01 278.41,128.31 278.09,128.57 277.76,128.8 277.41,128.99 277.02,129.16 276.63,129.29 276.23,129.38 275.81,129.44 275.38,129.47 274.93,129.46 274.46,129.43 273.99,129.37 273.51,129.29 273.02,129.18 272.52,129.05 272.01,128.91 271.5,128.75 270.98,128.58 270.45,128.41 269.93,128.23 269.4,128.05 268.88,127.87 268.35,127.7 267.82,127.55 267.31,127.4 267.21,127.37" fill="none" stroke="#f0b273" stroke-width="0.63" stroke-linecap="round" stroke-linejoin="round"/><polyline points="343.6,38.29 343.47,38.7 343.32,39.09 343.15,39.45 342.94,39.8 342.71,40.12 342.45,40.42 342.15,40.7 341.83,40.95 341.48,41.18 341.1,41.39 340.7,41.57 340.28,41.74 339.83,41.88 339.35,42.01 338.87,42.11 338.36,42.21 337.84,42.28 337.31,42.35 336.76,42.4 336.21,42.45 335.66,42.49 335.1,42.53 334.55,42.57 334,42.61 333.46,42.65 332.92,42.7 332.41,42.75 331.9,42.81 331.4,42.9 330.95,42.97 330.51,43.05 330.07,43.18 329.67,43.31 329.31,43.44 328.96,43.61 328.61,43.82 328.3,44.04 328.02,44.27 327.75,44.56 327.5,44.87 327.28,45.2 327.08,45.56 326.9,45.95 326.73,46.37 326.59,46.81 326.47,47.27 326.36,47.75 326.27,48.26 326.19,48.78 326.13,49.31 326.09,49.85 326.05,50.4 326.02,50.95 326,51.51 325.99,52.07 325.97,52.62 325.97,53.16 325.96,53.69 325.94,54.23 325.91,54.74 325.9,55.21 325.87,55.69 325.8,56.16 325.72,56.61 325.66,56.99 325.59,57.36 325.45,57.76 325.28,58.14 325.12,58.44 324.96,58.72 324.71,59.03 324.44,59.33 324.16,59.58 323.86,59.79 323.51,60.02 323.13,60.23 322.73,60.44 322.31,60.59 321.88,60.74 321.41,60.9 320.92,61.05 320.42,61.19 319.91,61.31 319.38,61.43 318.85,61.56 318.31,61.69 317.77,61.81 317.22,61.94 316.69,62.08 316.16,62.22 315.64,62.36 315.13,62.52 314.63,62.7 314.16,62.9 313.71,63.09 313.29,63.3 312.88,63.54 312.5,63.8 312.15,64.08 311.84,64.36 311.56,64.66 311.3,65 311.07,65.36 310.89,65.73 310.74,66.11 310.63,66.5 310.53,66.93 310.47,67.39 310.45,67.84 310.46,68.3 310.49,68.78 310.54,69.28 310.62,69.8 310.73,70.3 310.85,70.82 310.98,71.35 311.13,71.89 311.29,72.42 311.45,72.95 311.61,73.48 311.78,74 311.95,74.52 312.11,75.04 312.25,75.55 312.39,76.04 312.52,76.52 312.62,77 312.7,77.48 312.76,77.91 312.81,78.34 312.81,78.77 312.78,79.2 312.74,79.57 312.67,79.93 312.55,80.31 312.39,80.68 312.22,81 312.02,81.31 311.77,81.64 311.48,81.96 311.18,82.23 310.86,82.5 310.49,82.8 310.1,83.08 309.69,83.33 309.27,83.58 308.82,83.85 308.35,84.11 307.88,84.37 307.4,84.62 306.91,84.89 306.42,85.15 305.93,85.42 305.45,85.7 304.98,85.98 304.52,86.27 304.07,86.6 303.65,86.95 303.25,87.26 302.88,87.61 302.52,88.04 302.22,88.47 301.96,88.83 301.73,89.21 301.52,89.67 301.37,90.12 301.27,90.51 301.2,90.91 301.16,91.36 301.18,91.81 301.23,92.22 301.32,92.63 301.44,93.06 301.59,93.49 301.78,93.91 302,94.33 302.25,94.75 302.51,95.17 302.8,95.6 303.1,96.03 303.42,96.45 303.74,96.89 304.07,97.33 304.4,97.78 304.72,98.24 305.02,98.71 305.32,99.17 305.61,99.65 305.86,100.17 306.07,100.68 306.28,101.15 306.43,101.71 306.51,102.31 306.59,102.8 306.62,103.3 306.56,103.91 306.46,104.45 306.38,104.85 306.19,105.39 305.93,105.89 305.72,106.24 305.42,106.65 305.05,107.07 304.71,107.36 304.31,107.65 303.85,107.95 303.4,108.16 302.94,108.35 302.42,108.53 301.91,108.66 301.39,108.75 300.84,108.84 300.29,108.89 299.75,108.92 299.19,108.94 298.63,108.94 298.08,108.94 297.52,108.94 296.97,108.93 296.43,108.93 295.89,108.94 295.36,108.96 294.85,108.99 294.34,109.04 293.84,109.12 293.37,109.22 292.93,109.33 292.49,109.48 292.09,109.65 291.71,109.83 291.37,110.04 291.06,110.26 290.76,110.52 290.49,110.81 290.26,111.11 290.04,111.44 289.83,111.81 289.67,112.18 289.53,112.58 289.38,113.02 289.27,113.46 289.18,113.93 289.08,114.41 289,114.92 288.93,115.44 288.87,115.96 288.79,116.5 288.73,117.05 288.66,117.6 288.59,118.15 288.51,118.7 288.41,119.25 288.3,119.79 288.19,120.31 288.06,120.83 287.89,121.34 287.71,121.82 287.54,122.27 287.32,122.71 287.07,123.13 286.81,123.52 286.55,123.85 286.24,124.19 285.87,124.5 285.51,124.75 285.17,124.95 284.79,125.13 284.34,125.3 283.89,125.42 283.47,125.48 283.03,125.52 282.56,125.53 282.06,125.52 281.57,125.47 281.07,125.39 280.57,125.29 280.06,125.18 279.53,125.05 279,124.9 278.47,124.74 277.94,124.57 277.41,124.41 276.89,124.24 276.36,124.07 275.84,123.9 275.32,123.75 274.81,123.62 274.32,123.49 273.84,123.38 273.35,123.3 272.88,123.24 272.43,123.21 271.99,123.2 271.57,123.22 271.15,123.28 270.75,123.36 270.37,123.48 270,123.64 269.65,123.82 269.31,124.05 268.99,124.3 268.67,124.59 268.38,124.91 268.1,125.26 267.82,125.64 267.56,126.06 267.31,126.49 267.09,126.94 267.05,127.03" fill="none" stroke="#ecbb90" stroke-width="1.8" stroke-linecap="round" stroke-linejoin="round"/><polyline points="343.6,38.29 343.47,38.7 343.32,39.09 343.15,39.45 342.94,39.8 342.71,40.12 342.45,40.42 342.15,40.7 341.83,40.95 341.48,41.18 341.1,41.39 340.7,41.57 340.28,41.74 339.83,41.88 339.35,42.01 338.87,42.11 338.36,42.21 337.84,42.28 337.31,42.35 336.76,42.4 336.21,42.45 335.66,42.49 335.1,42.53 334.55,42.57 334,42.61 333.46,42.65 332.92,42.7 332.41,42.75 331.9,42.81 331.4,42.9 330.95,42.97 330.51,43.05 330.07,43.18 329.67,43.31 329.31,43.44 328.96,43.61 328.61,43.82 328.3,44.04 328.02,44.27 327.75,44.56 327.5,44.87 327.28,45.2 327.08,45.56 326.9,45.95 326.73,46.37 326.59,46.81 326.47,47.27 326.36,47.75 326.27,48.26 326.19,48.78 326.13,49.31 326.09,49.85 326.05,50.4 326.02,50.95 326,51.51 325.99,52.07 325.97,52.62 325.97,53.16 325.96,53.69 325.94,54.23 325.91,54.74 325.9,55.21 325.87,55.69 325.8,56.16 325.72,56.61 325.66,56.99 325.59,57.36 325.45,57.76 325.28,58.14 325.12,58.44 324.96,58.72 324.71,59.03 324.44,59.33 324.16,59.58 323.86,59.79 323.51,60.02 323.13,60.23 322.73,60.44 322.31,60.59 321.88,60.74 321.41,60.9 320.92,61.05 320.42,61.19 319.91,61.31 319.38,61.43 318.85,61.56 318.31,61.69 317.77,61.81 317.22,61.94 316.69,62.08 316.16,62.22 315.64,62.36 315.13,62.52 314.63,62.7 314.16,62.9 313.71,63.09 313.29,63.3 312.88,63.54 312.5,63.8 312.15,64.08 311.84,64.36 311.56,64.66 311.3,65 311.07,65.36 310.89,65.73 310.74,66.11 310.63,66.5 310.53,66.93 310.47,67.39 310.45,67.84 310.46,68.3 310.49,68.78 310.54,69.28 310.62,69.8 310.73,70.3 310.85,70.82 310.98,71.35 311.13,71.89 311.29,72.42 311.45,72.95 311.61,73.48 311.78,74 311.95,74.52 312.11,75.04 312.25,75.55 312.39,76.04 312.52,76.52 312.62,77 312.7,77.48 312.76,77.91 312.81,78.34 312.81,78.77 312.78,79.2 312.74,79.57 312.67,79.93 312.55,80.31 312.39,80.68 312.22,81 312.02,81.31 311.77,81.64 311.48,81.96 311.18,82.23 310.86,82.5 310.49,82.8 310.1,83.08 309.69,83.33 309.27,83.58 308.82,83.85 308.35,84.11 307.88,84.37 307.4,84.62 306.91,84.89 306.42,85.15 305.93,85.42 305.45,85.7 304.98,85.98 304.52,86.27 304.07,86.6 303.65,86.95 303.25,87.26 302.88,87.61 302.52,88.04 302.22,88.47 301.96,88.83 301.73,89.21 301.52,89.67 301.37,90.12 301.27,90.51 301.2,90.91 301.16,91.36 301.18,91.81 301.23,92.22 301.32,92.63 301.44,93.06 301.59,93.49 301.78,93.91 302,94.33 302.25,94.75 302.51,95.17 302.8,95.6 303.1,96.03 303.42,96.45 303.74,96.89 304.07,97.33 304.4,97.78 304.72,98.24 305.02,98.71 305.32,99.17 305.61,99.65 305.86,100.17 306.07,100.68 306.28,101.15 306.43,101.71 306.51,102.31 306.59,102.8 306.62,103.3 306.56,103.91 306.46,104.45 306.38,104.85 306.19,105.39 305.93,105.89 305.72,106.24 305.42,106.65 305.05,107.07 304.71,107.36 304.31,107.65 303.85,107.95 303.4,108.16 302.94,108.35 302.42,108.53 301.91,108.66 301.39,108.75 300.84,108.84 300.29,108.89 299.75,108.92 299.19,108.94 298.63,108.94 298.08,108.94 297.52,108.94 296.97,108.93 296.43,108.93 295.89,108.94 295.36,108.96 294.85,108.99 294.34,109.04 293.84,109.12 293.37,109.22 292.93,109.33 292.49,109.48 292.09,109.65 291.71,109.83 291.37,110.04 291.06,110.26 290.76,110.52 290.49,110.81 290.26,111.11 290.04,111.44 289.83,111.81 289.67,112.18 289.53,112.58 289.38,113.02 289.27,113.46 289.18,113.93 289.08,114.41 289,114.92 288.93,115.44 288.87,115.96 288.79,116.5 288.73,117.05 288.66,117.6 288.59,118.15 288.51,118.7 288.41,119.25 288.3,119.79 288.19,120.31 288.06,120.83 287.89,121.34 287.71,121.82 287.54,122.27 287.32,122.71 287.07,123.13 286.81,123.52 286.55,123.85 286.24,124.19 285.87,124.5 285.51,124.75 285.17,124.95 284.79,125.13 284.34,125.3 283.89,125.42 283.47,125.48 283.03,125.52 282.56,125.53 282.06,125.52 281.57,125.47 281.07,125.39 280.57,125.29 280.06,125.18 279.53,125.05 279,124.9 278.47,124.74 277.94,124.57 277.41,124.41 276.89,124.24 276.36,124.07 275.84,123.9 275.32,123.75 274.81,123.62 274.32,123.49 273.84,123.38 273.35,123.3 272.88,123.24 272.43,123.21 271.99,123.2 271.57,123.22 271.15,123.28 270.75,123.36 270.37,123.48 270,123.64 269.65,123.82 269.31,124.05 268.99,124.3 268.67,124.59 268.38,124.91 268.1,125.26 267.82,125.64 267.56,126.06 267.31,126.49 267.09,126.94 267.05,127.03" fill="none" stroke="#f4d2b2" stroke-width="0.63" stroke-linecap="round" stroke-linejoin="round"/><polyline points="384,36 383.58,36.37 383.17,36.73 382.75,37.08 382.35,37.44 381.96,37.8 381.59,38.16 381.24,38.52 380.91,38.89 380.6,39.27 380.33,39.64 380.08,40.02 379.87,40.41 379.69,40.8 379.55,41.19 379.45,41.59 379.38,42 379.36,42.42 379.37,42.82 379.41,43.23 379.5,43.67 379.62,44.1 379.78,44.51 379.97,44.93 380.18,45.37 380.44,45.81 380.72,46.23 381.02,46.65 381.34,47.09 381.68,47.52 382.04,47.93 382.41,48.34 382.79,48.75 383.18,49.15 383.57,49.55 383.96,49.92 384.35,50.28 384.73,50.65 385.09,51 385.45,51.33 385.78,51.68 386.1,52.03 386.39,52.34 386.65,52.68 386.89,53.03 387.1,53.36 387.27,53.69 387.42,54.07 387.52,54.41 387.6,54.77 387.65,55.16 387.65,55.54 387.63,55.92 387.57,56.34 387.48,56.75 387.37,57.18 387.22,57.62 387.05,58.06 386.85,58.51 386.62,58.97 386.38,59.43 386.12,59.9 385.85,60.37 385.56,60.84 385.26,61.31 384.96,61.78 384.65,62.24 384.33,62.69 384.02,63.13 383.71,63.55 383.41,63.99 383.13,64.4 382.86,64.81 382.61,65.24 382.39,65.66 382.2,66.08 382.04,66.52 381.91,66.96 381.83,67.4 381.79,67.87 381.79,68.31 381.83,68.81 381.94,69.29 382.08,69.75 382.28,70.24 382.51,70.66 382.81,71.14 383.15,71.57 383.52,71.94 383.94,72.34 384.38,72.64 384.86,72.96 385.37,73.25 385.88,73.45 386.41,73.67 386.96,73.84 387.5,73.97 388.04,74.09 388.6,74.19 389.14,74.28 389.68,74.36 390.2,74.43 390.73,74.51 391.24,74.59 391.72,74.67 392.2,74.77 392.67,74.88 393.1,75 393.52,75.14 393.92,75.32 394.3,75.5 394.64,75.71 394.97,75.95 395.28,76.22 395.56,76.52 395.8,76.84 396.03,77.18 396.23,77.57 396.41,77.98 396.54,78.39 396.67,78.86 396.77,79.34 396.83,79.82 396.86,80.31 396.87,80.82 396.87,81.34 396.85,81.87 396.82,82.4 396.79,82.94 396.76,83.49 396.74,84.05 396.71,84.6 396.69,85.16 396.68,85.71 396.67,86.25 396.68,86.78 396.69,87.3 396.72,87.8 396.77,88.29 396.82,88.75 396.89,89.18 396.99,89.62 397.1,90.01 397.21,90.37 397.37,90.73 397.56,91.06 397.74,91.33 397.96,91.61 398.23,91.89 398.48,92.09 398.76,92.3 399.11,92.54 399.45,92.69 399.79,92.84 400.21,93.05 400.63,93.21 401.06,93.36 401.52,93.54 402.01,93.72 402.5,93.89 403,94.07 403.52,94.26 404.04,94.44 404.56,94.65 405.07,94.85 405.58,95.07 406.09,95.3 406.58,95.54 407.05,95.79 407.51,96.06 407.95,96.35 408.35,96.62 408.73,96.93 409.09,97.26 409.41,97.59 409.69,97.92 409.95,98.29 410.17,98.68 410.34,99.04 410.48,99.43 410.59,99.85 410.65,100.27 410.68,100.68 410.68,101.13 410.64,101.58 410.56,102.03 410.45,102.48 410.32,102.96 410.15,103.43 409.97,103.9 409.76,104.39 409.53,104.89 409.29,105.37 409.03,105.86 408.76,106.35 408.48,106.83 408.2,107.31 407.92,107.79 407.64,108.25 407.37,108.71 407.11,109.18 406.87,109.63 406.64,110.07 406.43,110.5 406.25,110.95 406.1,111.38 405.97,111.79 405.87,112.2 405.81,112.62 405.78,113.02 405.79,113.41 405.83,113.8 405.91,114.2 406.02,114.58 406.17,114.95 406.36,115.32 406.58,115.69 406.83,116.05 407.12,116.41 407.43,116.76 407.77,117.1 408.14,117.45 408.53,117.79 408.94,118.13 409.36,118.46 409.79,118.79 410.24,119.12 410.69,119.44 411.15,119.76 411.6,120.07 412.06,120.38 412.5,120.7 412.93,121 413.35,121.3 413.75,121.62 414.14,121.93 414.49,122.24 414.83,122.56 415.14,122.9 415.41,123.24 415.66,123.58 415.87,123.94 416.05,124.32 416.19,124.71 416.29,125.1 416.36,125.51 416.4,125.95 416.39,126.37 416.34,126.81 416.27,127.28 416.15,127.74 416,128.2 415.82,128.69 415.61,129.17 415.36,129.63 415.1,130.12 414.79,130.59 414.47,131.04 414.13,131.5 413.77,131.93 413.4,132.34 413.01,132.73 412.6,133.1 412.21,133.43 411.8,133.72 411.4,134.03 411.02,134.28 410.64,134.55 410.29,134.79 409.94,135.01 409.62,135.28 409.32,135.53 409.04,135.82 408.79,136.12 408.56,136.44 408.36,136.8 408.19,137.18 408.05,137.6 407.95,138.05 407.89,138.49 407.86,139 407.88,139.5 407.94,140.01 408.04,140.56 408.2,141.04 408.38,141.56 408.61,142.07 408.88,142.51 409.16,142.98 409.47,143.43 409.79,143.87 410.12,144.32 410.47,144.76 410.81,145.19 411.16,145.63 411.5,146.05 411.84,146.48 412.16,146.91 412.47,147.32 412.77,147.74 413.04,148.16 413.29,148.57 413.51,148.98 413.7,149.39 413.86,149.8 413.99,150.2 414.09,150.6 414.14,151 414.17,151.4 414.15,151.8 414.1,152.2 414.01,152.6 413.88,153 413.72,153.4 413.52,153.8 413.29,154.19 413.26,154.24" fill="none" stroke="#d0977b" stroke-width="1.8" stroke-linecap="round" stroke-linejoin="round"/><polyline points="384,36 383.58,36.37 383.17,36.73 382.75,37.08 382.35,37.44 381.96,37.8 381.59,38.16 381.24,38.52 380.91,38.89 380.6,39.27 380.33,39.64 380.08,40.02 379.87,40.41 379.69,40.8 379.55,41.19 379.45,41.59 379.38,42 379.36,42.42 379.37,42.82 379.41,43.23 379.5,43.67 379.62,44.1 379.78,44.51 379.97,44.93 380.18,45.37 380.44,45.81 380.72,46.23 381.02,46.65 381.34,47.09 381.68,47.52 382.04,47.93 382.41,48.34 382.79,48.75 383.18,49.15 383.57,49.55 383.96,49.92 384.35,50.28 384.73,50.65 385.09,51 385.45,51.33 385.78,51.68 386.1,52.03 386.39,52.34 386.65,52.68 386.89,53.03 387.1,53.36 387.27,53.69 387.42,54.07 387.52,54.41 387.6,54.77 387.65,55.16 387.65,55.54 387.63,55.92 387.57,56.34 387.48,56.75 387.37,57.18 387.22,57.62 387.05,58.06 386.85,58.51 386.62,58.97 386.38,59.43 386.12,59.9 385.85,60.37 385.56,60.84 385.26,61.31 384.96,61.78 384.65,62.24 384.33,62.69 384.02,63.13 383.71,63.55 383.41,63.99 383.13,64.4 382.86,64.81 382.61,65.24 382.39,65.66 382.2,66.08 382.04,66.52 381.91,66.96 381.83,67.4 381.79,67.87 381.79,68.31 381.83,68.81 381.94,69.29 382.08,69.75 382.28,70.24 382.51,70.66 382.81,71.14 383.15,71.57 383.52,71.94 383.94,72.34 384.38,72.64 384.86,72.96 385.37,73.25 385.88,73.45 386.41,73.67 386.96,73.84 387.5,73.97 388.04,74.09 388.6,74.19 389.14,74.28 389.68,74.36 390.2,74.43 390.73,74.51 391.24,74.59 391.72,74.67 392.2,74.77 392.67,74.88 393.1,75 393.52,75.14 393.92,75.32 394.3,75.5 394.64,75.71 394.97,75.95 395.28,76.22 395.56,76.52 395.8,76.84 396.03,77.18 396.23,77.57 396.41,77.98 396.54,78.39 396.67,78.86 396.77,79.34 396.83,79.82 396.86,80.31 396.87,80.82 396.87,81.34 396.85,81.87 396.82,82.4 396.79,82.94 396.76,83.49 396.74,84.05 396.71,84.6 396.69,85.16 396.68,85.71 396.67,86.25 396.68,86.78 396.69,87.3 396.72,87.8 396.77,88.29 396.82,88.75 396.89,89.18 396.99,89.62 397.1,90.01 397.21,90.37 397.37,90.73 397.56,91.06 397.74,91.33 397.96,91.61 398.23,91.89 398.48,92.09 398.76,92.3 399.11,92.54 399.45,92.69 399.79,92.84 400.21,93.05 400.63,93.21 401.06,93.36 401.52,93.54 402.01,93.72 402.5,93.89 403,94.07 403.52,94.26 404.04,94.44 404.56,94.65 405.07,94.85 405.58,95.07 406.09,95.3 406.58,95.54 407.05,95.79 407.51,96.06 407.95,96.35 408.35,96.62 408.73,96.93 409.09,97.26 409.41,97.59 409.69,97.92 409.95,98.29 410.17,98.68 410.34,99.04 410.48,99.43 410.59,99.85 410.65,100.27 410.68,100.68 410.68,101.13 410.64,101.58 410.56,102.03 410.45,102.48 410.32,102.96 410.15,103.43 409.97,103.9 409.76,104.39 409.53,104.89 409.29,105.37 409.03,105.86 408.76,106.35 408.48,106.83 408.2,107.31 407.92,107.79 407.64,108.25 407.37,108.71 407.11,109.18 406.87,109.63 406.64,110.07 406.43,110.5 406.25,110.95 406.1,111.38 405.97,111.79 405.87,112.2 405.81,112.62 405.78,113.02 405.79,113.41 405.83,113.8 405.91,114.2 406.02,114.58 406.17,114.95 406.36,115.32 406.58,115.69 406.83,116.05 407.12,116.41 407.43,116.76 407.77,117.1 408.14,117.45 408.53,117.79 408.94,118.13 409.36,118.46 409.79,118.79 410.24,119.12 410.69,119.44 411.15,119.76 411.6,120.07 412.06,120.38 412.5,120.7 412.93,121 413.35,121.3 413.75,121.62 414.14,121.93 414.49,122.24 414.83,122.56 415.14,122.9 415.41,123.24 415.66,123.58 415.87,123.94 416.05,124.32 416.19,124.71 416.29,125.1 416.36,125.51 416.4,125.95 416.39,126.37 416.34,126.81 416.27,127.28 416.15,127.74 416,128.2 415.82,128.69 415.61,129.17 415.36,129.63 415.1,130.12 414.79,130.59 414.47,131.04 414.13,131.5 413.77,131.93 413.4,132.34 413.01,132.73 412.6,133.1 412.21,133.43 411.8,133.72 411.4,134.03 411.02,134.28 410.64,134.55 410.29,134.79 409.94,135.01 409.62,135.28 409.32,135.53 409.04,135.82 408.79,136.12 408.56,136.44 408.36,136.8 408.19,137.18 408.05,137.6 407.95,138.05 407.89,138.49 407.86,139 407.88,139.5 407.94,140.01 408.04,140.56 408.2,141.04 408.38,141.56 408.61,142.07 408.88,142.51 409.16,142.98 409.47,143.43 409.79,143.87 410.12,144.32 410.47,144.76 410.81,145.19 411.16,145.63 411.5,146.05 411.84,146.48 412.16,146.91 412.47,147.32 412.77,147.74 413.04,148.16 413.29,148.57 413.51,148.98 413.7,149.39 413.86,149.8 413.99,150.2 414.09,150.6 414.14,151 414.17,151.4 414.15,151.8 414.1,152.2 414.01,152.6 413.88,153 413.72,153.4 413.52,153.8 413.29,154.19 413.26,154.24" fill="none" stroke="#dfae95" stroke-width="0.63" stroke-linecap="round" stroke-linejoin="round"/><polyline points="380.55,35.7 380.72,36.12 380.93,36.52 381.16,36.92 381.41,37.34 381.68,37.77 381.98,38.2 382.29,38.63 382.61,39.07 382.94,39.51 383.28,39.95 383.62,40.38 383.97,40.82 384.31,41.25 384.64,41.69 384.96,42.12 385.27,42.54 385.57,42.96 385.84,43.39 386.09,43.81 386.31,44.21 386.51,44.61 386.68,45.02 386.82,45.43 386.92,45.8 387,46.17 387.04,46.57 387.04,46.97 387,47.31 386.94,47.66 386.84,48.06 386.71,48.43 386.54,48.76 386.35,49.11 386.13,49.52 385.88,49.86 385.62,50.2 385.34,50.61 385.04,51.01 384.73,51.4 384.41,51.82 384.08,52.25 383.74,52.68 383.42,53.12 383.09,53.57 382.77,54.03 382.46,54.49 382.16,54.95 381.88,55.42 381.63,55.9 381.39,56.35 381.17,56.82 380.99,57.28 380.83,57.72 380.7,58.17 380.61,58.62 380.55,59.04 380.52,59.45 380.53,59.86 380.58,60.26 380.65,60.64 380.77,61.01 380.91,61.38 381.09,61.73 381.31,62.07 381.55,62.41 381.82,62.72 382.11,63.04 382.44,63.36 382.77,63.68 383.14,64.02 383.52,64.36 383.91,64.7 384.31,65.06 384.73,65.42 385.15,65.78 385.58,66.13 386,66.49 386.43,66.83 386.85,67.17 387.26,67.5 387.66,67.8 388.05,68.08 388.42,68.37 388.77,68.6 389.12,68.88 389.41,69.08 389.69,69.29 389.95,69.53 390.16,69.71 390.38,69.96 390.54,70.18 390.67,70.36 390.83,70.69 390.91,70.95 390.98,71.21 391.09,71.6 391.12,71.95 391.15,72.3 391.2,72.75 391.21,73.19 391.2,73.63 391.21,74.12 391.19,74.63 391.17,75.13 391.15,75.67 391.13,76.21 391.1,76.76 391.07,77.31 391.05,77.86 391.03,78.42 391.02,78.97 391.01,79.52 391.01,80.05 391.02,80.57 391.05,81.08 391.09,81.58 391.14,82.04 391.21,82.49 391.31,82.93 391.41,83.32 391.52,83.69 391.68,84.07 391.88,84.43 392.1,84.76 392.35,85.07 392.65,85.38 392.99,85.67 393.35,85.92 393.72,86.13 394.13,86.34 394.56,86.51 395.01,86.65 395.48,86.78 395.97,86.88 396.47,86.97 396.98,87.04 397.51,87.1 398.05,87.16 398.59,87.21 399.14,87.25 399.69,87.31 400.25,87.36 400.8,87.44 401.35,87.52 401.89,87.61 402.43,87.73 402.94,87.87 403.44,88.01 403.94,88.22 404.41,88.45 404.83,88.65 405.26,88.94 405.67,89.27 405.99,89.56 406.31,89.9 406.61,90.31 406.83,90.68 407.02,91.06 407.19,91.5 407.31,91.95 407.38,92.36 407.43,92.84 407.45,93.34 407.41,93.8 407.35,94.29 407.27,94.81 407.15,95.31 407,95.81 406.84,96.33 406.66,96.85 406.45,97.35 406.24,97.87 406.02,98.38 405.79,98.89 405.57,99.39 405.34,99.89 405.12,100.38 404.91,100.87 404.71,101.35 404.52,101.81 404.36,102.27 404.22,102.74 404.1,103.17 404.01,103.59 403.95,104.03 403.92,104.45 403.92,104.84 403.95,105.24 404.02,105.63 404.12,105.99 404.25,106.32 404.42,106.68 404.63,107.04 404.86,107.34 405.11,107.64 405.41,107.98 405.73,108.31 406.07,108.6 406.44,108.91 406.83,109.23 407.25,109.55 407.67,109.86 408.11,110.17 408.55,110.49 409.01,110.8 409.46,111.12 409.92,111.45 410.36,111.77 410.81,112.1 411.24,112.43 411.65,112.77 412.04,113.1 412.42,113.44 412.77,113.79 413.09,114.15 413.39,114.5 413.65,114.86 413.89,115.22 414.08,115.6 414.25,115.97 414.37,116.35 414.46,116.73 414.52,117.13 414.54,117.53 414.52,117.92 414.46,118.32 414.38,118.74 414.26,119.15 414.12,119.56 413.95,119.99 413.75,120.44 413.53,120.87 413.3,121.31 413.05,121.78 412.79,122.24 412.52,122.71 412.24,123.19 411.96,123.67 411.68,124.15 411.4,124.63 411.13,125.11 410.87,125.58 410.62,126.05 410.38,126.52 410.16,126.97 409.95,127.41 409.77,127.85 409.62,128.27 409.48,128.67 409.37,129.07 409.3,129.47 409.25,129.81 409.23,130.17 409.24,130.54 409.28,130.83 409.35,131.16 409.46,131.5 409.58,131.76 409.74,132.08 409.93,132.38 410.13,132.64 410.36,132.99 410.61,133.28 410.86,133.59 411.12,133.99 411.4,134.36 411.66,134.79 411.94,135.23 412.19,135.68 412.45,136.17 412.69,136.67 412.92,137.17 413.15,137.68 413.36,138.19 413.56,138.69 413.76,139.18 413.94,139.65 414.12,140.09 414.27,140.53 414.42,140.92 414.56,141.3 414.67,141.66 414.77,141.97 414.83,142.35 414.86,142.65 414.88,142.95 414.85,143.34 414.79,143.68 414.7,144.02 414.56,144.41 414.4,144.77 414.2,145.12 413.97,145.49 413.71,145.86 413.43,146.22 413.12,146.58 412.78,146.96 412.42,147.32 412.05,147.68 411.66,148.06 411.26,148.43 410.86,148.8 410.44,149.17 410.03,149.55 409.62,149.92 409.22,150.3 408.83,150.67 408.45,151.05 408.08,151.43 407.74,151.81 407.42,152.19 407.12,152.57 406.85,152.94 406.61,153.31 406.4,153.69 406.38,153.73" fill="none" stroke="#e8984f" stroke-width="1.8" stroke-linecap="round" stroke-linejoin="round"/><polyline points="380.55,35.7 380.72,36.12 380.93,36.52 381.16,36.92 381.41,37.34 381.68,37.77 381.98,38.2 382.29,38.63 382.61,39.07 382.94,39.51 383.28,39.95 383.62,40.38 383.97,40.82 384.31,41.25 384.64,41.69 384.96,42.12 385.27,42.54 385.57,42.96 385.84,43.39 386.09,43.81 386.31,44.21 386.51,44.61 386.68,45.02 386.82,45.43 386.92,45.8 387,46.17 387.04,46.57 387.04,46.97 387,47.31 386.94,47.66 386.84,48.06 386.71,48.43 386.54,48.76 386.35,49.11 386.13,49.52 385.88,49.86 385.62,50.2 385.34,50.61 385.04,51.01 384.73,51.4 384.41,51.82 384.08,52.25 383.74,52.68 383.42,53.12 383.09,53.57 382.77,54.03 382.46,54.49 382.16,54.95 381.88,55.42 381.63,55.9 381.39,56.35 381.17,56.82 380.99,57.28 380.83,57.72 380.7,58.17 380.61,58.62 380.55,59.04 380.52,59.45 380.53,59.86 380.58,60.26 380.65,60.64 380.77,61.01 380.91,61.38 381.09,61.73 381.31,62.07 381.55,62.41 381.82,62.72 382.11,63.04 382.44,63.36 382.77,63.68 383.14,64.02 383.52,64.36 383.91,64.7 384.31,65.06 384.73,65.42 385.15,65.78 385.58,66.13 386,66.49 386.43,66.83 386.85,67.17 387.26,67.5 387.66,67.8 388.05,68.08 388.42,68.37 388.77,68.6 389.12,68.88 389.41,69.08 389.69,69.29 389.95,69.53 390.16,69.71 390.38,69.96 390.54,70.18 390.67,70.36 390.83,70.69 390.91,70.95 390.98,71.21 391.09,71.6 391.12,71.95 391.15,72.3 391.2,72.75 391.21,73.19 391.2,73.63 391.21,74.12 391.19,74.63 391.17,75.13 391.15,75.67 391.13,76.21 391.1,76.76 391.07,77.31 391.05,77.86 391.03,78.42 391.02,78.97 391.01,79.52 391.01,80.05 391.02,80.57 391.05,81.08 391.09,81.58 391.14,82.04 391.21,82.49 391.31,82.93 391.41,83.32 391.52,83.69 391.68,84.07 391.88,84.43 392.1,84.76 392.35,85.07 392.65,85.38 392.99,85.67 393.35,85.92 393.72,86.13 394.13,86.34 394.56,86.51 395.01,86.65 395.48,86.78 395.97,86.88 396.47,86.97 396.98,87.04 397.51,87.1 398.05,87.16 398.59,87.21 399.14,87.25 399.69,87.31 400.25,87.36 400.8,87.44 401.35,87.52 401.89,87.61 402.43,87.73 402.94,87.87 403.44,88.01 403.94,88.22 404.41,88.45 404.83,88.65 405.26,88.94 405.67,89.27 405.99,89.56 406.31,89.9 406.61,90.31 406.83,90.68 407.02,91.06 407.19,91.5 407.31,91.95 407.38,92.36 407.43,92.84 407.45,93.34 407.41,93.8 407.35,94.29 407.27,94.81 407.15,95.31 407,95.81 406.84,96.33 406.66,96.85 406.45,97.35 406.24,97.87 406.02,98.38 405.79,98.89 405.57,99.39 405.34,99.89 405.12,100.38 404.91,100.87 404.71,101.35 404.52,101.81 404.36,102.27 404.22,102.74 404.1,103.17 404.01,103.59 403.95,104.03 403.92,104.45 403.92,104.84 403.95,105.24 404.02,105.63 404.12,105.99 404.25,106.32 404.42,106.68 404.63,107.04 404.86,107.34 405.11,107.64 405.41,107.98 405.73,108.31 406.07,108.6 406.44,108.91 406.83,109.23 407.25,109.55 407.67,109.86 408.11,110.17 408.55,110.49 409.01,110.8 409.46,111.12 409.92,111.45 410.36,111.77 410.81,112.1 411.24,112.43 411.65,112.77 412.04,113.1 412.42,113.44 412.77,113.79 413.09,114.15 413.39,114.5 413.65,114.86 413.89,115.22 414.08,115.6 414.25,115.97 414.37,116.35 414.46,116.73 414.52,117.13 414.54,117.53 414.52,117.92 414.46,118.32 414.38,118.74 414.26,119.15 414.12,119.56 413.95,119.99 413.75,120.44 413.53,120.87 413.3,121.31 413.05,121.78 412.79,122.24 412.52,122.71 412.24,123.19 411.96,123.67 411.68,124.15 411.4,124.63 411.13,125.11 410.87,125.58 410.62,126.05 410.38,126.52 410.16,126.97 409.95,127.41 409.77,127.85 409.62,128.27 409.48,128.67 409.37,129.07 409.3,129.47 409.25,129.81 409.23,130.17 409.24,130.54 409.28,130.83 409.35,131.16 409.46,131.5 409.58,131.76 409.74,132.08 409.93,132.38 410.13,132.64 410.36,132.99 410.61,133.28 410.86,133.59 411.12,133.99 411.4,134.36 411.66,134.79 411.94,135.23 412.19,135.68 412.45,136.17 412.69,136.67 412.92,137.17 413.15,137.68 413.36,138.19 413.56,138.69 413.76,139.18 413.94,139.65 414.12,140.09 414.27,140.53 414.42,140.92 414.56,141.3 414.67,141.66 414.77,141.97 414.83,142.35 414.86,142.65 414.88,142.95 414.85,143.34 414.79,143.68 414.7,144.02 414.56,144.41 414.4,144.77 414.2,145.12 413.97,145.49 413.71,145.86 413.43,146.22 413.12,146.58 412.78,146.96 412.42,147.32 412.05,147.68 411.66,148.06 411.26,148.43 410.86,148.8 410.44,149.17 410.03,149.55 409.62,149.92 409.22,150.3 408.83,150.67 408.45,151.05 408.08,151.43 407.74,151.81 407.42,152.19 407.12,152.57 406.85,152.94 406.61,153.31 406.4,153.69 406.38,153.73" fill="none" stroke="#f0b273" stroke-width="0.63" stroke-linecap="round" stroke-linejoin="round"/><polyline points="387.45,36.3 387.59,36.71 387.7,37.15 387.76,37.58 387.79,37.99 387.79,38.4 387.74,38.81 387.66,39.2 387.54,39.59 387.39,39.97 387.2,40.35 386.97,40.73 386.72,41.1 386.44,41.46 386.13,41.84 385.79,42.2 385.44,42.56 385.07,42.92 384.68,43.29 384.28,43.65 383.86,44.01 383.45,44.38 383.04,44.75 382.62,45.12 382.22,45.5 381.82,45.89 381.44,46.27 381.07,46.65 380.73,47.07 380.41,47.48 380.12,47.88 379.85,48.29 379.62,48.75 379.43,49.2 379.28,49.6 379.16,50.08 379.1,50.58 379.07,51 379.08,51.45 379.14,51.93 379.25,52.35 379.39,52.77 379.57,53.21 379.79,53.62 380.05,54 380.34,54.41 380.66,54.79 381.01,55.15 381.39,55.51 381.79,55.86 382.21,56.19 382.64,56.53 383.09,56.85 383.54,57.17 384,57.48 384.46,57.79 384.92,58.11 385.37,58.42 385.81,58.73 386.24,59.05 386.66,59.38 387.05,59.71 387.42,60.05 387.76,60.41 388.08,60.77 388.36,61.15 388.62,61.57 388.83,61.97 389,62.39 389.14,62.85 389.22,63.26 389.27,63.7 389.28,64.14 389.25,64.55 389.17,64.96 389.07,65.38 388.92,65.77 388.75,66.17 388.55,66.57 388.33,66.96 388.09,67.37 387.83,67.77 387.56,68.18 387.29,68.61 387.01,69.05 386.74,69.52 386.48,69.99 386.24,70.49 386.01,71.01 385.82,71.54 385.65,72.08 385.51,72.64 385.43,73.22 385.34,73.75 385.32,74.32 385.35,74.9 385.36,75.37 385.45,75.91 385.58,76.42 385.7,76.84 385.87,77.29 386.1,77.72 386.32,78.08 386.58,78.42 386.89,78.76 387.21,79.04 387.55,79.29 387.93,79.53 388.34,79.74 388.75,79.9 389.19,80.06 389.66,80.19 390.14,80.3 390.64,80.39 391.15,80.46 391.67,80.53 392.21,80.58 392.75,80.63 393.3,80.68 393.85,80.73 394.41,80.78 394.96,80.85 395.5,80.91 396.04,80.99 396.57,81.07 397.08,81.17 397.57,81.26 398.04,81.36 398.49,81.47 398.93,81.61 399.33,81.76 399.72,81.93 400.09,82.13 400.44,82.36 400.75,82.6 401.04,82.88 401.32,83.19 401.56,83.53 401.77,83.88 401.96,84.27 402.13,84.69 402.26,85.12 402.37,85.58 402.46,86.08 402.51,86.57 402.54,87.08 402.56,87.63 402.55,88.17 402.5,88.71 402.46,89.27 402.38,89.83 402.29,90.37 402.2,90.92 402.07,91.46 401.95,92 401.83,92.51 401.7,93.01 401.58,93.51 401.47,94.01 401.37,94.46 401.28,94.92 401.22,95.39 401.18,95.8 401.14,96.19 401.16,96.62 401.2,97 401.25,97.35 401.34,97.72 401.48,98.09 401.63,98.4 401.81,98.71 402.05,99.05 402.3,99.35 402.58,99.63 402.9,99.93 403.25,100.22 403.62,100.49 404.01,100.75 404.43,101.03 404.87,101.3 405.32,101.55 405.78,101.82 406.26,102.09 406.74,102.35 407.23,102.62 407.71,102.89 408.19,103.16 408.67,103.44 409.14,103.73 409.59,104.01 410.03,104.32 410.44,104.64 410.83,104.96 411.2,105.28 411.54,105.65 411.85,106.03 412.11,106.38 412.35,106.74 412.55,107.15 412.71,107.56 412.83,107.94 412.92,108.34 412.97,108.77 412.97,109.2 412.94,109.62 412.87,110.05 412.77,110.49 412.64,110.94 412.47,111.38 412.28,111.82 412.06,112.28 411.82,112.74 411.55,113.19 411.27,113.65 410.98,114.11 410.68,114.57 410.37,115.03 410.06,115.49 409.74,115.95 409.44,116.41 409.14,116.87 408.86,117.32 408.59,117.78 408.34,118.24 408.11,118.68 407.9,119.14 407.73,119.59 407.58,120.03 407.47,120.47 407.4,120.93 407.36,121.37 407.36,121.78 407.39,122.22 407.48,122.65 407.59,123.04 407.74,123.42 407.93,123.81 408.15,124.18 408.41,124.53 408.7,124.88 409.01,125.22 409.36,125.54 409.73,125.86 410.12,126.17 410.54,126.48 410.97,126.78 411.41,127.08 411.86,127.38 412.32,127.69 412.78,128 413.23,128.31 413.69,128.64 414.13,128.98 414.56,129.33 414.97,129.69 415.37,130.09 415.73,130.49 416.07,130.89 416.37,131.37 416.63,131.82 416.86,132.3 417.03,132.85 417.15,133.32 417.22,133.9 417.22,134.49 417.18,134.97 417.08,135.53 416.93,136 416.73,136.5 416.48,136.96 416.2,137.35 415.88,137.75 415.54,138.09 415.17,138.41 414.77,138.71 414.35,138.98 413.92,139.24 413.47,139.48 413.02,139.73 412.55,139.98 412.07,140.23 411.6,140.5 411.12,140.79 410.66,141.11 410.2,141.43 409.76,141.79 409.34,142.17 408.94,142.52 408.56,142.9 408.21,143.29 407.88,143.66 407.58,144.05 407.32,144.46 407.09,144.84 406.89,145.23 406.72,145.65 406.6,146.05 406.52,146.44 406.47,146.86 406.46,147.28 406.49,147.68 406.55,148.09 406.65,148.51 406.79,148.93 406.96,149.34 407.17,149.76 407.4,150.18 407.66,150.6 407.94,151.02 408.25,151.44 408.57,151.86 408.91,152.28 409.25,152.7 409.61,153.12 409.96,153.55 410.32,153.98 410.36,154.03" fill="none" stroke="#ecbb90" stroke-width="1.8" stroke-linecap="round" stroke-linejoin="round"/><polyline points="387.45,36.3 387.59,36.71 387.7,37.15 387.76,37.58 387.79,37.99 387.79,38.4 387.74,38.81 387.66,39.2 387.54,39.59 387.39,39.97 387.2,40.35 386.97,40.73 386.72,41.1 386.44,41.46 386.13,41.84 385.79,42.2 385.44,42.56 385.07,42.92 384.68,43.29 384.28,43.65 383.86,44.01 383.45,44.38 383.04,44.75 382.62,45.12 382.22,45.5 381.82,45.89 381.44,46.27 381.07,46.65 380.73,47.07 380.41,47.48 380.12,47.88 379.85,48.29 379.62,48.75 379.43,49.2 379.28,49.6 379.16,50.08 379.1,50.58 379.07,51 379.08,51.45 379.14,51.93 379.25,52.35 379.39,52.77 379.57,53.21 379.79,53.62 380.05,54 380.34,54.41 380.66,54.79 381.01,55.15 381.39,55.51 381.79,55.86 382.21,56.19 382.64,56.53 383.09,56.85 383.54,57.17 384,57.48 384.46,57.79 384.92,58.11 385.37,58.42 385.81,58.73 386.24,59.05 386.66,59.38 387.05,59.71 387.42,60.05 387.76,60.41 388.08,60.77 388.36,61.15 388.62,61.57 388.83,61.97 389,62.39 389.14,62.85 389.22,63.26 389.27,63.7 389.28,64.14 389.25,64.55 389.17,64.96 389.07,65.38 388.92,65.77 388.75,66.17 388.55,66.57 388.33,66.96 388.09,67.37 387.83,67.77 387.56,68.18 387.29,68.61 387.01,69.05 386.74,69.52 386.48,69.99 386.24,70.49 386.01,71.01 385.82,71.54 385.65,72.08 385.51,72.64 385.43,73.22 385.34,73.75 385.32,74.32 385.35,74.9 385.36,75.37 385.45,75.91 385.58,76.42 385.7,76.84 385.87,77.29 386.1,77.72 386.32,78.08 386.58,78.42 386.89,78.76 387.21,79.04 387.55,79.29 387.93,79.53 388.34,79.74 388.75,79.9 389.19,80.06 389.66,80.19 390.14,80.3 390.64,80.39 391.15,80.46 391.67,80.53 392.21,80.58 392.75,80.63 393.3,80.68 393.85,80.73 394.41,80.78 394.96,80.85 395.5,80.91 396.04,80.99 396.57,81.07 397.08,81.17 397.57,81.26 398.04,81.36 398.49,81.47 398.93,81.61 399.33,81.76 399.72,81.93 400.09,82.13 400.44,82.36 400.75,82.6 401.04,82.88 401.32,83.19 401.56,83.53 401.77,83.88 401.96,84.27 402.13,84.69 402.26,85.12 402.37,85.58 402.46,86.08 402.51,86.57 402.54,87.08 402.56,87.63 402.55,88.17 402.5,88.71 402.46,89.27 402.38,89.83 402.29,90.37 402.2,90.92 402.07,91.46 401.95,92 401.83,92.51 401.7,93.01 401.58,93.51 401.47,94.01 401.37,94.46 401.28,94.92 401.22,95.39 401.18,95.8 401.14,96.19 401.16,96.62 401.2,97 401.25,97.35 401.34,97.72 401.48,98.09 401.63,98.4 401.81,98.71 402.05,99.05 402.3,99.35 402.58,99.63 402.9,99.93 403.25,100.22 403.62,100.49 404.01,100.75 404.43,101.03 404.87,101.3 405.32,101.55 405.78,101.82 406.26,102.09 406.74,102.35 407.23,102.62 407.71,102.89 408.19,103.16 408.67,103.44 409.14,103.73 409.59,104.01 410.03,104.32 410.44,104.64 410.83,104.96 411.2,105.28 411.54,105.65 411.85,106.03 412.11,106.38 412.35,106.74 412.55,107.15 412.71,107.56 412.83,107.94 412.92,108.34 412.97,108.77 412.97,109.2 412.94,109.62 412.87,110.05 412.77,110.49 412.64,110.94 412.47,111.38 412.28,111.82 412.06,112.28 411.82,112.74 411.55,113.19 411.27,113.65 410.98,114.11 410.68,114.57 410.37,115.03 410.06,115.49 409.74,115.95 409.44,116.41 409.14,116.87 408.86,117.32 408.59,117.78 408.34,118.24 408.11,118.68 407.9,119.14 407.73,119.59 407.58,120.03 407.47,120.47 407.4,120.93 407.36,121.37 407.36,121.78 407.39,122.22 407.48,122.65 407.59,123.04 407.74,123.42 407.93,123.81 408.15,124.18 408.41,124.53 408.7,124.88 409.01,125.22 409.36,125.54 409.73,125.86 410.12,126.17 410.54,126.48 410.97,126.78 411.41,127.08 411.86,127.38 412.32,127.69 412.78,128 413.23,128.31 413.69,128.64 414.13,128.98 414.56,129.33 414.97,129.69 415.37,130.09 415.73,130.49 416.07,130.89 416.37,131.37 416.63,131.82 416.86,132.3 417.03,132.85 417.15,133.32 417.22,133.9 417.22,134.49 417.18,134.97 417.08,135.53 416.93,136 416.73,136.5 416.48,136.96 416.2,137.35 415.88,137.75 415.54,138.09 415.17,138.41 414.77,138.71 414.35,138.98 413.92,139.24 413.47,139.48 413.02,139.73 412.55,139.98 412.07,140.23 411.6,140.5 411.12,140.79 410.66,141.11 410.2,141.43 409.76,141.79 409.34,142.17 408.94,142.52 408.56,142.9 408.21,143.29 407.88,143.66 407.58,144.05 407.32,144.46 407.09,144.84 406.89,145.23 406.72,145.65 406.6,146.05 406.52,146.44 406.47,146.86 406.46,147.28 406.49,147.68 406.55,148.09 406.65,148.51 406.79,148.93 406.96,149.34 407.17,149.76 407.4,150.18 407.66,150.6 407.94,151.02 408.25,151.44 408.57,151.86 408.91,152.28 409.25,152.7 409.61,153.12 409.96,153.55 410.32,153.98 410.36,154.03" fill="none" stroke="#f4d2b2" stroke-width="0.63" stroke-linecap="round" stroke-linejoin="round"/><circle cx="325.6" cy="79.3" r="2.15" fill="#b0c8ea" stroke="#94b2dc" stroke-width="0.35"/><circle cx="321.4" cy="85.7" r="2.15" fill="#b0c8ea" stroke="#94b2dc" stroke-width="0.35"/><circle cx="329.8" cy="85.7" r="2.15" fill="#b0c8ea" stroke="#94b2dc" stroke-width="0.35"/><circle cx="325.6" cy="83.6" r="2.7" fill="url(#gG)"/><circle cx="390.5" cy="115.3" r="2.15" fill="#b0c8ea" stroke="#94b2dc" stroke-width="0.35"/><circle cx="386.3" cy="121.7" r="2.15" fill="#b0c8ea" stroke="#94b2dc" stroke-width="0.35"/><circle cx="394.7" cy="121.7" r="2.15" fill="#b0c8ea" stroke="#94b2dc" stroke-width="0.35"/><circle cx="390.5" cy="119.6" r="2.7" fill="url(#gG)"/><circle cx="294.5" cy="68.2" r="1.95" fill="#dedede" stroke="#bcbcbc" stroke-width="0.4"/><circle cx="303.1" cy="68.2" r="1.95" fill="#dedede" stroke="#bcbcbc" stroke-width="0.4"/><circle cx="298.8" cy="66.3" r="2.95" fill="url(#gO)"/><circle cx="298.8" cy="66.3" r="1.15" fill="none" stroke="#f3b0a8" stroke-width="0.45"/><circle cx="347.2" cy="50.8" r="1.95" fill="#dedede" stroke="#bcbcbc" stroke-width="0.4"/><circle cx="355.8" cy="50.8" r="1.95" fill="#dedede" stroke="#bcbcbc" stroke-width="0.4"/><circle cx="351.5" cy="48.9" r="2.95" fill="url(#gO)"/><circle cx="351.5" cy="48.9" r="1.15" fill="none" stroke="#f3b0a8" stroke-width="0.45"/><circle cx="401.9" cy="75.9" r="1.95" fill="#dedede" stroke="#bcbcbc" stroke-width="0.4"/><circle cx="410.5" cy="75.9" r="1.95" fill="#dedede" stroke="#bcbcbc" stroke-width="0.4"/><circle cx="406.2" cy="74" r="2.95" fill="url(#gO)"/><circle cx="406.2" cy="74" r="1.15" fill="none" stroke="#f3b0a8" stroke-width="0.45"/><circle cx="366.7" cy="90" r="1.95" fill="#dedede" stroke="#bcbcbc" stroke-width="0.4"/><circle cx="375.3" cy="90" r="1.95" fill="#dedede" stroke="#bcbcbc" stroke-width="0.4"/><circle cx="371" cy="88.1" r="2.95" fill="url(#gO)"/><circle cx="371" cy="88.1" r="1.15" fill="none" stroke="#f3b0a8" stroke-width="0.45"/><circle cx="280.4" cy="108" r="1.95" fill="#dedede" stroke="#bcbcbc" stroke-width="0.4"/><circle cx="289" cy="108" r="1.95" fill="#dedede" stroke="#bcbcbc" stroke-width="0.4"/><circle cx="284.7" cy="106.1" r="2.95" fill="url(#gO)"/><circle cx="284.7" cy="106.1" r="1.15" fill="none" stroke="#f3b0a8" stroke-width="0.45"/><circle cx="308.9" cy="129.9" r="1.95" fill="#dedede" stroke="#bcbcbc" stroke-width="0.4"/><circle cx="317.5" cy="129.9" r="1.95" fill="#dedede" stroke="#bcbcbc" stroke-width="0.4"/><circle cx="313.2" cy="128" r="2.95" fill="url(#gO)"/><circle cx="313.2" cy="128" r="1.15" fill="none" stroke="#f3b0a8" stroke-width="0.45"/><circle cx="416.2" cy="129.9" r="1.95" fill="#dedede" stroke="#bcbcbc" stroke-width="0.4"/><circle cx="424.8" cy="129.9" r="1.95" fill="#dedede" stroke="#bcbcbc" stroke-width="0.4"/><circle cx="420.5" cy="128" r="2.95" fill="url(#gO)"/><circle cx="420.5" cy="128" r="1.15" fill="none" stroke="#f3b0a8" stroke-width="0.45"/><circle cx="354.4" cy="137.9" r="1.95" fill="#dedede" stroke="#bcbcbc" stroke-width="0.4"/><circle cx="363" cy="137.9" r="1.95" fill="#dedede" stroke="#bcbcbc" stroke-width="0.4"/><circle cx="358.7" cy="136" r="2.95" fill="url(#gO)"/><circle cx="358.7" cy="136" r="1.15" fill="none" stroke="#f3b0a8" stroke-width="0.45"/><circle cx="322" cy="56" r="4.9" fill="url(#gB)" stroke="#2a4a80" stroke-width="0.5"/><circle cx="360" cy="67.5" r="4.9" fill="url(#gB)" stroke="#2a4a80" stroke-width="0.5"/><circle cx="387" cy="72" r="4.9" fill="url(#gB)" stroke="#2a4a80" stroke-width="0.5"/><circle cx="303.3" cy="102.3" r="4.9" fill="url(#gB)" stroke="#2a4a80" stroke-width="0.5"/><circle cx="343.2" cy="115.8" r="4.9" fill="url(#gB)" stroke="#2a4a80" stroke-width="0.5"/><circle cx="413.4" cy="132.5" r="4.9" fill="url(#gB)" stroke="#2a4a80" stroke-width="0.5"/></g><g clip-path="url(#cb3)"><polyline points="500,68 500.5,68.25 501.12,68.58 501.85,68.97 502.69,69.41 503.63,69.89 504.66,70.39 505.79,70.89 507,71.4 508.32,71.92 509.75,72.48 511.29,73.07 512.93,73.68 514.63,74.28 516.38,74.88 518.18,75.46 520,76 521.85,76.55 523.76,77.14 525.73,77.73 527.74,78.3 529.79,78.82 531.89,79.26 534.03,79.6 536.2,79.8 538.45,79.85 540.81,79.78 543.23,79.61 545.68,79.36 548.11,79.05 550.51,78.7 552.81,78.34 555,78 557.03,77.65 558.91,77.26 560.71,76.84 562.46,76.39 564.22,75.93 566.03,75.46 567.94,74.98 570,74.5 572.35,73.99 575,73.42 577.81,72.83 580.64,72.23 583.35,71.66 585.81,71.15 587.87,70.72 589.4,70.4" fill="none" stroke="#e3ab8b" stroke-width="2.3" stroke-linecap="round" stroke-linejoin="round"/><polyline points="500,68 500.5,68.25 501.12,68.58 501.85,68.97 502.69,69.41 503.63,69.89 504.66,70.39 505.79,70.89 507,71.4 508.32,71.92 509.75,72.48 511.29,73.07 512.93,73.68 514.63,74.28 516.38,74.88 518.18,75.46 520,76 521.85,76.55 523.76,77.14 525.73,77.73 527.74,78.3 529.79,78.82 531.89,79.26 534.03,79.6 536.2,79.8 538.45,79.85 540.81,79.78 543.23,79.61 545.68,79.36 548.11,79.05 550.51,78.7 552.81,78.34 555,78 557.03,77.65 558.91,77.26 560.71,76.84 562.46,76.39 564.22,75.93 566.03,75.46 567.94,74.98 570,74.5 572.35,73.99 575,73.42 577.81,72.83 580.64,72.23 583.35,71.66 585.81,71.15 587.87,70.72 589.4,70.4" fill="none" stroke="#f3cdb6" stroke-width="0.9659999999999999" stroke-linecap="round" stroke-linejoin="round" stroke-dasharray="1.3 0.9"/><polyline points="594,37 593.9,38.41 593.77,40.3 593.62,42.55 593.44,45.04 593.25,47.65 593.02,50.26 592.77,52.75 592.5,55 592.18,57.05 591.82,59.05 591.42,61 591.01,62.91 590.58,64.8 590.16,66.67 589.76,68.53 589.4,70.4 589.07,72.27 588.75,74.14 588.45,76 588.16,77.85 587.88,79.68 587.59,81.48 587.3,83.26 587,85 586.7,86.69 586.39,88.34 586.09,89.95 585.79,91.54 585.48,93.12 585.16,94.72 584.84,96.34 584.5,98 584.14,99.7 583.74,101.41 583.33,103.14 582.92,104.88 582.52,106.64 582.14,108.41 581.79,110.2 581.5,112 581.24,113.83 580.99,115.7 580.77,117.6 580.58,119.51 580.42,121.4 580.32,123.28 580.27,125.12 580.3,126.9 580.41,128.62 580.6,130.3 580.86,131.95 581.17,133.57 581.5,135.17 581.85,136.77 582.19,138.38 582.5,140 582.82,141.72 583.16,143.56 583.53,145.45 583.89,147.32 584.23,149.08 584.54,150.67 584.81,152 585,153" fill="none" stroke="#e3ab8b" stroke-width="2.3" stroke-linecap="round" stroke-linejoin="round"/><polyline points="594,37 593.9,38.41 593.77,40.3 593.62,42.55 593.44,45.04 593.25,47.65 593.02,50.26 592.77,52.75 592.5,55 592.18,57.05 591.82,59.05 591.42,61 591.01,62.91 590.58,64.8 590.16,66.67 589.76,68.53 589.4,70.4 589.07,72.27 588.75,74.14 588.45,76 588.16,77.85 587.88,79.68 587.59,81.48 587.3,83.26 587,85 586.7,86.69 586.39,88.34 586.09,89.95 585.79,91.54 585.48,93.12 585.16,94.72 584.84,96.34 584.5,98 584.14,99.7 583.74,101.41 583.33,103.14 582.92,104.88 582.52,106.64 582.14,108.41 581.79,110.2 581.5,112 581.24,113.83 580.99,115.7 580.77,117.6 580.58,119.51 580.42,121.4 580.32,123.28 580.27,125.12 580.3,126.9 580.41,128.62 580.6,130.3 580.86,131.95 581.17,133.57 581.5,135.17 581.85,136.77 582.19,138.38 582.5,140 582.82,141.72 583.16,143.56 583.53,145.45 583.89,147.32 584.23,149.08 584.54,150.67 584.81,152 585,153" fill="none" stroke="#f3cdb6" stroke-width="0.9659999999999999" stroke-linecap="round" stroke-linejoin="round" stroke-dasharray="1.3 0.9"/><polyline points="589.4,70.4 590.61,69.89 592.22,69.19 594.13,68.36 596.26,67.45 598.51,66.51 600.78,65.58 602.97,64.73 605,64 606.91,63.36 608.82,62.75 610.71,62.17 612.6,61.63 614.47,61.14 616.33,60.7 618.18,60.32 620,60 621.81,59.76 623.62,59.58 625.42,59.46 627.19,59.4 628.95,59.38 630.67,59.4 632.36,59.44 634,59.5 635.57,59.58 637.07,59.68 638.52,59.8 639.94,59.96 641.37,60.17 642.82,60.42 644.32,60.73 645.9,61.1 647.56,61.54 649.3,62.04 651.07,62.6 652.88,63.21 654.7,63.86 656.5,64.55 658.28,65.26 660,66 661.77,66.82 663.63,67.77 665.53,68.78 667.38,69.81 669.13,70.8 670.69,71.69 672,72.45 673,73" fill="none" stroke="#e3ab8b" stroke-width="2.3" stroke-linecap="round" stroke-linejoin="round"/><polyline points="589.4,70.4 590.61,69.89 592.22,69.19 594.13,68.36 596.26,67.45 598.51,66.51 600.78,65.58 602.97,64.73 605,64 606.91,63.36 608.82,62.75 610.71,62.17 612.6,61.63 614.47,61.14 616.33,60.7 618.18,60.32 620,60 621.81,59.76 623.62,59.58 625.42,59.46 627.19,59.4 628.95,59.38 630.67,59.4 632.36,59.44 634,59.5 635.57,59.58 637.07,59.68 638.52,59.8 639.94,59.96 641.37,60.17 642.82,60.42 644.32,60.73 645.9,61.1 647.56,61.54 649.3,62.04 651.07,62.6 652.88,63.21 654.7,63.86 656.5,64.55 658.28,65.26 660,66 661.77,66.82 663.63,67.77 665.53,68.78 667.38,69.81 669.13,70.8 670.69,71.69 672,72.45 673,73" fill="none" stroke="#f3cdb6" stroke-width="0.9659999999999999" stroke-linecap="round" stroke-linejoin="round" stroke-dasharray="1.3 0.9"/><polyline points="500,122 501.15,122.38 502.68,122.89 504.49,123.49 506.51,124.16 508.66,124.87 510.84,125.6 512.98,126.32 515,127 516.95,127.69 518.93,128.42 520.94,129.18 522.95,129.94 524.96,130.67 526.94,131.36 528.9,131.98 530.8,132.5 532.66,132.93 534.49,133.3 536.29,133.62 538.07,133.88 539.83,134.09 541.57,134.26 543.29,134.39 545,134.5 546.69,134.58 548.36,134.63 550.01,134.65 551.64,134.62 553.25,134.55 554.85,134.43 556.43,134.25 558,134 559.56,133.66 561.11,133.23 562.65,132.72 564.17,132.16 565.67,131.59 567.14,131.02 568.59,130.48 570,130 571.38,129.57 572.73,129.16 574.06,128.76 575.36,128.38 576.63,128.01 577.88,127.64 579.1,127.27 580.3,126.9 581.52,126.51 582.79,126.09 584.06,125.67 585.29,125.26 586.45,124.87 587.47,124.52 588.34,124.22 589,124" fill="none" stroke="#e3ab8b" stroke-width="2.3" stroke-linecap="round" stroke-linejoin="round"/><polyline points="500,122 501.15,122.38 502.68,122.89 504.49,123.49 506.51,124.16 508.66,124.87 510.84,125.6 512.98,126.32 515,127 516.95,127.69 518.93,128.42 520.94,129.18 522.95,129.94 524.96,130.67 526.94,131.36 528.9,131.98 530.8,132.5 532.66,132.93 534.49,133.3 536.29,133.62 538.07,133.88 539.83,134.09 541.57,134.26 543.29,134.39 545,134.5 546.69,134.58 548.36,134.63 550.01,134.65 551.64,134.62 553.25,134.55 554.85,134.43 556.43,134.25 558,134 559.56,133.66 561.11,133.23 562.65,132.72 564.17,132.16 565.67,131.59 567.14,131.02 568.59,130.48 570,130 571.38,129.57 572.73,129.16 574.06,128.76 575.36,128.38 576.63,128.01 577.88,127.64 579.1,127.27 580.3,126.9 581.52,126.51 582.79,126.09 584.06,125.67 585.29,125.26 586.45,124.87 587.47,124.52 588.34,124.22 589,124" fill="none" stroke="#f3cdb6" stroke-width="0.9659999999999999" stroke-linecap="round" stroke-linejoin="round" stroke-dasharray="1.3 0.9"/><polyline points="584,125.4 584.86,124.97 586.01,124.4 587.38,123.71 588.9,122.95 590.49,122.16 592.09,121.38 593.62,120.64 595,120 596.24,119.42 597.41,118.87 598.54,118.33 599.65,117.82 600.78,117.33 601.97,116.86 603.23,116.42 604.6,116 606.09,115.6 607.66,115.22 609.31,114.86 611.01,114.52 612.75,114.21 614.5,113.94 616.26,113.7 618,113.5 619.72,113.35 621.43,113.23 623.14,113.16 624.87,113.11 626.63,113.1 628.43,113.11 630.28,113.15 632.2,113.2 634.23,113.26 636.37,113.34 638.59,113.43 640.84,113.55 643.08,113.71 645.27,113.91 647.35,114.17 649.3,114.5 651.11,114.89 652.82,115.32 654.46,115.8 656.03,116.33 657.56,116.92 659.05,117.55 660.52,118.25 662,119 663.53,119.89 665.13,120.94 666.73,122.1 668.29,123.28 669.76,124.43 671.06,125.48 672.16,126.36 673,127" fill="none" stroke="#e3ab8b" stroke-width="2.3" stroke-linecap="round" stroke-linejoin="round"/><polyline points="584,125.4 584.86,124.97 586.01,124.4 587.38,123.71 588.9,122.95 590.49,122.16 592.09,121.38 593.62,120.64 595,120 596.24,119.42 597.41,118.87 598.54,118.33 599.65,117.82 600.78,117.33 601.97,116.86 603.23,116.42 604.6,116 606.09,115.6 607.66,115.22 609.31,114.86 611.01,114.52 612.75,114.21 614.5,113.94 616.26,113.7 618,113.5 619.72,113.35 621.43,113.23 623.14,113.16 624.87,113.11 626.63,113.1 628.43,113.11 630.28,113.15 632.2,113.2 634.23,113.26 636.37,113.34 638.59,113.43 640.84,113.55 643.08,113.71 645.27,113.91 647.35,114.17 649.3,114.5 651.11,114.89 652.82,115.32 654.46,115.8 656.03,116.33 657.56,116.92 659.05,117.55 660.52,118.25 662,119 663.53,119.89 665.13,120.94 666.73,122.1 668.29,123.28 669.76,124.43 671.06,125.48 672.16,126.36 673,127" fill="none" stroke="#f3cdb6" stroke-width="0.9659999999999999" stroke-linecap="round" stroke-linejoin="round" stroke-dasharray="1.3 0.9"/><polyline points="583,140 583.24,140.46 583.56,141.05 583.95,141.77 584.38,142.56 584.82,143.41 585.25,144.29 585.65,145.16 586,146 586.31,146.88 586.62,147.84 586.91,148.86 587.19,149.88 587.44,150.84 587.66,151.72 587.85,152.45 588,153" fill="none" stroke="#e3ab8b" stroke-width="2.3" stroke-linecap="round" stroke-linejoin="round"/><polyline points="583,140 583.24,140.46 583.56,141.05 583.95,141.77 584.38,142.56 584.82,143.41 585.25,144.29 585.65,145.16 586,146 586.31,146.88 586.62,147.84 586.91,148.86 587.19,149.88 587.44,150.84 587.66,151.72 587.85,152.45 588,153" fill="none" stroke="#f3cdb6" stroke-width="0.9659999999999999" stroke-linecap="round" stroke-linejoin="round" stroke-dasharray="1.3 0.9"/><circle cx="631.3" cy="127.7" r="6" fill="url(#gT)" stroke="#c99a3c" stroke-width="0.4"/><polyline points="542.5,36 542.1,36.39 541.7,36.78 541.32,37.18 540.95,37.56 540.59,37.95 540.24,38.32 539.92,38.7 539.61,39.07 539.33,39.43 539.07,39.8 538.84,40.16 538.65,40.53 538.48,40.89 538.35,41.27 538.25,41.63 538.19,42 538.16,42.4 538.17,42.79 538.21,43.18 538.29,43.59 538.4,44.01 538.55,44.42 538.72,44.84 538.93,45.26 539.16,45.69 539.42,46.12 539.7,46.55 539.99,46.98 540.31,47.42 540.63,47.85 540.96,48.29 541.3,48.73 541.64,49.17 541.98,49.61 542.31,50.06 542.63,50.5 542.94,50.94 543.23,51.38 543.5,51.82 543.75,52.25 543.98,52.68 544.18,53.12 544.34,53.55 544.48,53.97 544.58,54.39 544.65,54.81 544.68,55.23 544.67,55.64 544.62,56.04 544.54,56.43 544.42,56.84 544.26,57.23 544.07,57.61 543.84,57.98 543.58,58.35 543.29,58.73 542.97,59.1 542.62,59.45 542.25,59.8 541.86,60.15 541.45,60.49 541.02,60.83 540.59,61.16 540.15,61.5 539.7,61.83 539.25,62.16 538.81,62.49 538.37,62.82 537.94,63.15 537.53,63.48 537.14,63.81 536.76,64.15 536.4,64.5 536.07,64.84 535.77,65.19 535.5,65.54 535.26,65.9 535.06,66.27 534.89,66.64 534.75,67.02 534.65,67.4 534.59,67.79 534.56,68.19 534.57,68.6 534.61,69.01 534.69,69.42 534.8,69.84 534.94,70.28 535.11,70.72 535.3,71.16 535.53,71.61 535.77,72.05 536.02,72.51 536.3,72.98 536.58,73.44 536.87,73.91 537.17,74.37 537.47,74.84 537.76,75.31 538.05,75.78 538.33,76.25 538.6,76.72 538.85,77.19 539.08,77.65 539.29,78.1 539.48,78.56 539.63,79.02 539.76,79.46 539.85,79.89 539.92,80.32 539.94,80.77 539.91,81.21 539.87,81.61 539.78,82 539.65,82.42 539.47,82.84 539.26,83.21 539.03,83.56 538.75,83.92 538.43,84.29 538.09,84.61 537.73,84.92 537.34,85.24 536.92,85.55 536.48,85.83 536.03,86.11 535.56,86.39 535.08,86.66 534.59,86.93 534.11,87.2 533.62,87.46 533.13,87.73 532.66,88 532.19,88.28 531.73,88.57 531.3,88.86 530.88,89.16 530.49,89.47 530.12,89.81 529.78,90.15 529.48,90.48 529.2,90.85 528.95,91.26 528.75,91.64 528.59,92.01 528.46,92.44 528.37,92.9 528.33,93.32 528.32,93.72 528.35,94.17 528.42,94.64 528.53,95.08 528.67,95.51 528.84,95.96 529.04,96.42 529.27,96.87 529.52,97.32 529.78,97.78 530.07,98.24 530.37,98.7 530.68,99.15 530.99,99.61 531.31,100.07 531.64,100.52 531.95,100.97 532.26,101.41 532.56,101.85 532.85,102.28 533.12,102.72 533.36,103.15 533.59,103.56 533.79,103.97 533.97,104.39 534.11,104.81 534.22,105.2 534.3,105.57 534.35,105.97 534.35,106.38 534.33,106.76 534.27,107.12 534.17,107.49 534.04,107.88 533.87,108.27 533.67,108.62 533.45,108.98 533.19,109.36 532.9,109.75 532.59,110.12 532.26,110.48 531.91,110.85 531.54,111.24 531.16,111.62 530.77,112 530.37,112.39 529.98,112.78 529.58,113.16 529.18,113.55 528.8,113.94 528.42,114.34 528.06,114.73 527.72,115.12 527.39,115.51 527.09,115.92 526.82,116.32 526.58,116.72 526.37,117.11 526.19,117.52 526.05,117.94 525.95,118.36 525.88,118.76 525.85,119.16 525.86,119.56 525.9,119.99 525.99,120.42 526.12,120.82 526.27,121.22 526.47,121.61 526.69,122.04 526.95,122.47 527.24,122.86 527.56,123.25 527.89,123.64 528.25,124.04 528.63,124.44 529.02,124.83 529.42,125.2 529.83,125.58 530.23,125.96 530.65,126.33 531.06,126.69 531.46,127.06 531.85,127.42 532.22,127.79 532.58,128.12 532.92,128.45 533.24,128.82 533.54,129.19 533.8,129.56 534.03,129.88 534.23,130.18 534.41,130.55 534.55,130.94 534.66,131.33 534.72,131.67 534.74,131.97 534.75,132.33 534.73,132.75 534.68,133.17 534.59,133.59 534.46,133.96 534.31,134.33 534.15,134.78 533.96,135.24 533.76,135.7 533.53,136.17 533.28,136.63 533.03,137.09 532.78,137.57 532.52,138.06 532.25,138.55 531.99,139.04 531.73,139.53 531.49,140.03 531.26,140.53 531.04,141.01 530.84,141.49 530.65,141.97 530.49,142.43 530.37,142.91 530.27,143.39 530.2,143.83 530.16,144.27 530.15,144.69 530.18,145.1 530.24,145.51 530.35,145.92 530.49,146.31 530.66,146.68 530.87,147.03 531.11,147.37 531.38,147.7 531.69,148.03 532.03,148.35 532.4,148.65 532.79,148.93 533.2,149.21 533.64,149.49 534.09,149.76 534.56,150.02 535.04,150.28 535.53,150.53 536.02,150.78 536.52,151.04 537.01,151.29 537.5,151.55 537.98,151.81 538.45,152.08 538.91,152.37 539.34,152.66 539.75,152.94 540,153.13" fill="none" stroke="#d0977b" stroke-width="1.8" stroke-linecap="round" stroke-linejoin="round"/><polyline points="542.5,36 542.1,36.39 541.7,36.78 541.32,37.18 540.95,37.56 540.59,37.95 540.24,38.32 539.92,38.7 539.61,39.07 539.33,39.43 539.07,39.8 538.84,40.16 538.65,40.53 538.48,40.89 538.35,41.27 538.25,41.63 538.19,42 538.16,42.4 538.17,42.79 538.21,43.18 538.29,43.59 538.4,44.01 538.55,44.42 538.72,44.84 538.93,45.26 539.16,45.69 539.42,46.12 539.7,46.55 539.99,46.98 540.31,47.42 540.63,47.85 540.96,48.29 541.3,48.73 541.64,49.17 541.98,49.61 542.31,50.06 542.63,50.5 542.94,50.94 543.23,51.38 543.5,51.82 543.75,52.25 543.98,52.68 544.18,53.12 544.34,53.55 544.48,53.97 544.58,54.39 544.65,54.81 544.68,55.23 544.67,55.64 544.62,56.04 544.54,56.43 544.42,56.84 544.26,57.23 544.07,57.61 543.84,57.98 543.58,58.35 543.29,58.73 542.97,59.1 542.62,59.45 542.25,59.8 541.86,60.15 541.45,60.49 541.02,60.83 540.59,61.16 540.15,61.5 539.7,61.83 539.25,62.16 538.81,62.49 538.37,62.82 537.94,63.15 537.53,63.48 537.14,63.81 536.76,64.15 536.4,64.5 536.07,64.84 535.77,65.19 535.5,65.54 535.26,65.9 535.06,66.27 534.89,66.64 534.75,67.02 534.65,67.4 534.59,67.79 534.56,68.19 534.57,68.6 534.61,69.01 534.69,69.42 534.8,69.84 534.94,70.28 535.11,70.72 535.3,71.16 535.53,71.61 535.77,72.05 536.02,72.51 536.3,72.98 536.58,73.44 536.87,73.91 537.17,74.37 537.47,74.84 537.76,75.31 538.05,75.78 538.33,76.25 538.6,76.72 538.85,77.19 539.08,77.65 539.29,78.1 539.48,78.56 539.63,79.02 539.76,79.46 539.85,79.89 539.92,80.32 539.94,80.77 539.91,81.21 539.87,81.61 539.78,82 539.65,82.42 539.47,82.84 539.26,83.21 539.03,83.56 538.75,83.92 538.43,84.29 538.09,84.61 537.73,84.92 537.34,85.24 536.92,85.55 536.48,85.83 536.03,86.11 535.56,86.39 535.08,86.66 534.59,86.93 534.11,87.2 533.62,87.46 533.13,87.73 532.66,88 532.19,88.28 531.73,88.57 531.3,88.86 530.88,89.16 530.49,89.47 530.12,89.81 529.78,90.15 529.48,90.48 529.2,90.85 528.95,91.26 528.75,91.64 528.59,92.01 528.46,92.44 528.37,92.9 528.33,93.32 528.32,93.72 528.35,94.17 528.42,94.64 528.53,95.08 528.67,95.51 528.84,95.96 529.04,96.42 529.27,96.87 529.52,97.32 529.78,97.78 530.07,98.24 530.37,98.7 530.68,99.15 530.99,99.61 531.31,100.07 531.64,100.52 531.95,100.97 532.26,101.41 532.56,101.85 532.85,102.28 533.12,102.72 533.36,103.15 533.59,103.56 533.79,103.97 533.97,104.39 534.11,104.81 534.22,105.2 534.3,105.57 534.35,105.97 534.35,106.38 534.33,106.76 534.27,107.12 534.17,107.49 534.04,107.88 533.87,108.27 533.67,108.62 533.45,108.98 533.19,109.36 532.9,109.75 532.59,110.12 532.26,110.48 531.91,110.85 531.54,111.24 531.16,111.62 530.77,112 530.37,112.39 529.98,112.78 529.58,113.16 529.18,113.55 528.8,113.94 528.42,114.34 528.06,114.73 527.72,115.12 527.39,115.51 527.09,115.92 526.82,116.32 526.58,116.72 526.37,117.11 526.19,117.52 526.05,117.94 525.95,118.36 525.88,118.76 525.85,119.16 525.86,119.56 525.9,119.99 525.99,120.42 526.12,120.82 526.27,121.22 526.47,121.61 526.69,122.04 526.95,122.47 527.24,122.86 527.56,123.25 527.89,123.64 528.25,124.04 528.63,124.44 529.02,124.83 529.42,125.2 529.83,125.58 530.23,125.96 530.65,126.33 531.06,126.69 531.46,127.06 531.85,127.42 532.22,127.79 532.58,128.12 532.92,128.45 533.24,128.82 533.54,129.19 533.8,129.56 534.03,129.88 534.23,130.18 534.41,130.55 534.55,130.94 534.66,131.33 534.72,131.67 534.74,131.97 534.75,132.33 534.73,132.75 534.68,133.17 534.59,133.59 534.46,133.96 534.31,134.33 534.15,134.78 533.96,135.24 533.76,135.7 533.53,136.17 533.28,136.63 533.03,137.09 532.78,137.57 532.52,138.06 532.25,138.55 531.99,139.04 531.73,139.53 531.49,140.03 531.26,140.53 531.04,141.01 530.84,141.49 530.65,141.97 530.49,142.43 530.37,142.91 530.27,143.39 530.2,143.83 530.16,144.27 530.15,144.69 530.18,145.1 530.24,145.51 530.35,145.92 530.49,146.31 530.66,146.68 530.87,147.03 531.11,147.37 531.38,147.7 531.69,148.03 532.03,148.35 532.4,148.65 532.79,148.93 533.2,149.21 533.64,149.49 534.09,149.76 534.56,150.02 535.04,150.28 535.53,150.53 536.02,150.78 536.52,151.04 537.01,151.29 537.5,151.55 537.98,151.81 538.45,152.08 538.91,152.37 539.34,152.66 539.75,152.94 540,153.13" fill="none" stroke="#dfae95" stroke-width="0.63" stroke-linecap="round" stroke-linejoin="round"/><polyline points="539.04,35.86 539.23,36.29 539.46,36.73 539.72,37.14 540,37.54 540.31,37.94 540.63,38.34 540.97,38.74 541.32,39.15 541.68,39.56 542.04,39.98 542.4,40.4 542.75,40.83 543.1,41.26 543.44,41.69 543.77,42.13 544.08,42.57 544.37,43.01 544.63,43.44 544.87,43.88 545.09,44.3 545.28,44.73 545.43,45.15 545.55,45.56 545.64,45.98 545.7,46.39 545.71,46.79 545.69,47.19 545.63,47.59 545.53,47.99 545.4,48.38 545.23,48.77 545.03,49.15 544.79,49.53 544.52,49.91 544.22,50.28 543.9,50.64 543.55,51.01 543.17,51.37 542.78,51.73 542.38,52.08 541.96,52.44 541.53,52.79 541.1,53.14 540.67,53.49 540.23,53.84 539.81,54.18 539.39,54.53 538.99,54.87 538.6,55.22 538.23,55.58 537.88,55.92 537.55,56.27 537.26,56.63 536.99,56.99 536.75,57.36 536.55,57.71 536.38,58.08 536.24,58.46 536.14,58.85 536.07,59.23 536.05,59.61 536.05,60.01 536.1,60.43 536.17,60.84 536.28,61.26 536.42,61.68 536.59,62.11 536.79,62.55 537.01,62.99 537.26,63.44 537.52,63.88 537.8,64.34 538.09,64.79 538.39,65.25 538.7,65.71 539.01,66.18 539.32,66.64 539.62,67.1 539.91,67.56 540.2,68.02 540.47,68.48 540.72,68.94 540.95,69.39 541.15,69.84 541.33,70.28 541.48,70.72 541.6,71.16 541.69,71.59 541.74,72 541.76,72.41 541.74,72.83 541.68,73.24 541.58,73.63 541.45,74.01 541.29,74.38 541.08,74.76 540.84,75.13 540.57,75.49 540.27,75.83 539.94,76.17 539.58,76.51 539.2,76.85 538.8,77.18 538.37,77.49 537.94,77.81 537.49,78.13 537.03,78.44 536.57,78.74 536.1,79.05 535.64,79.36 535.19,79.65 534.74,79.95 534.3,80.25 533.87,80.56 533.47,80.85 533.09,81.13 532.72,81.44 532.38,81.76 532.08,82.06 531.8,82.36 531.55,82.7 531.33,83.05 531.15,83.39 531,83.74 530.88,84.11 530.8,84.5 530.75,84.9 530.74,85.3 530.75,85.72 530.8,86.16 530.88,86.61 530.99,87.06 531.13,87.53 531.29,88 531.47,88.49 531.67,88.97 531.9,89.46 532.13,89.95 532.38,90.45 532.64,90.94 532.91,91.43 533.17,91.91 533.45,92.39 533.71,92.86 533.97,93.34 534.22,93.78 534.46,94.21 534.68,94.66 534.88,95.11 535.05,95.53 535.21,95.93 535.34,96.35 535.42,96.77 535.48,97.18 535.51,97.57 535.5,97.96 535.45,98.36 535.37,98.74 535.26,99.1 535.11,99.47 534.92,99.84 534.7,100.2 534.45,100.54 534.17,100.89 533.86,101.25 533.53,101.6 533.17,101.93 532.79,102.27 532.4,102.63 531.99,102.97 531.57,103.32 531.15,103.66 530.72,104.02 530.29,104.37 529.86,104.73 529.45,105.09 529.04,105.46 528.65,105.82 528.27,106.2 527.91,106.59 527.59,106.97 527.28,107.35 527.01,107.73 526.76,108.15 526.55,108.56 526.38,108.95 526.24,109.35 526.14,109.76 526.08,110.2 526.06,110.61 526.07,111.01 526.13,111.42 526.22,111.84 526.35,112.26 526.51,112.67 526.71,113.08 526.94,113.48 527.19,113.9 527.47,114.31 527.78,114.72 528.11,115.13 528.45,115.54 528.81,115.95 529.18,116.36 529.55,116.77 529.93,117.18 530.31,117.58 530.69,117.98 531.06,118.38 531.42,118.78 531.76,119.18 532.09,119.58 532.4,119.96 532.69,120.34 532.95,120.74 533.19,121.14 533.39,121.53 533.56,121.89 533.7,122.25 533.81,122.65 533.88,123.05 533.92,123.45 533.91,123.81 533.88,124.16 533.81,124.56 533.71,124.96 533.57,125.37 533.4,125.76 533.2,126.13 532.98,126.53 532.73,126.95 532.46,127.37 532.17,127.79 531.86,128.19 531.54,128.61 531.22,129.05 530.89,129.49 530.55,129.94 530.22,130.38 529.9,130.84 529.58,131.29 529.28,131.75 528.99,132.2 528.72,132.67 528.49,133.17 528.28,133.65 528.09,134.1 527.93,134.54 527.8,134.97 527.72,135.47 527.69,135.97 527.67,136.39 527.7,136.8 527.75,137.2 527.85,137.59 527.99,138.01 528.18,138.44 528.39,138.8 528.64,139.15 528.92,139.49 529.23,139.82 529.57,140.15 529.95,140.49 530.35,140.8 530.77,141.09 531.21,141.38 531.66,141.66 532.13,141.93 532.61,142.21 533.1,142.48 533.59,142.74 534.08,143 534.56,143.27 535.04,143.53 535.51,143.8 535.96,144.06 536.4,144.33 536.82,144.61 537.22,144.9 537.59,145.19 537.93,145.5 538.25,145.8 538.53,146.12 538.78,146.46 539,146.8 539.19,147.16 539.34,147.53 539.45,147.91 539.53,148.3 539.58,148.71 539.59,149.13 539.57,149.56 539.52,150.01 539.44,150.47 539.33,150.93 539.19,151.4 539.03,151.89 538.85,152.39 538.65,152.88 538.43,153.37 538.28,153.68" fill="none" stroke="#e8984f" stroke-width="1.8" stroke-linecap="round" stroke-linejoin="round"/><polyline points="539.04,35.86 539.23,36.29 539.46,36.73 539.72,37.14 540,37.54 540.31,37.94 540.63,38.34 540.97,38.74 541.32,39.15 541.68,39.56 542.04,39.98 542.4,40.4 542.75,40.83 543.1,41.26 543.44,41.69 543.77,42.13 544.08,42.57 544.37,43.01 544.63,43.44 544.87,43.88 545.09,44.3 545.28,44.73 545.43,45.15 545.55,45.56 545.64,45.98 545.7,46.39 545.71,46.79 545.69,47.19 545.63,47.59 545.53,47.99 545.4,48.38 545.23,48.77 545.03,49.15 544.79,49.53 544.52,49.91 544.22,50.28 543.9,50.64 543.55,51.01 543.17,51.37 542.78,51.73 542.38,52.08 541.96,52.44 541.53,52.79 541.1,53.14 540.67,53.49 540.23,53.84 539.81,54.18 539.39,54.53 538.99,54.87 538.6,55.22 538.23,55.58 537.88,55.92 537.55,56.27 537.26,56.63 536.99,56.99 536.75,57.36 536.55,57.71 536.38,58.08 536.24,58.46 536.14,58.85 536.07,59.23 536.05,59.61 536.05,60.01 536.1,60.43 536.17,60.84 536.28,61.26 536.42,61.68 536.59,62.11 536.79,62.55 537.01,62.99 537.26,63.44 537.52,63.88 537.8,64.34 538.09,64.79 538.39,65.25 538.7,65.71 539.01,66.18 539.32,66.64 539.62,67.1 539.91,67.56 540.2,68.02 540.47,68.48 540.72,68.94 540.95,69.39 541.15,69.84 541.33,70.28 541.48,70.72 541.6,71.16 541.69,71.59 541.74,72 541.76,72.41 541.74,72.83 541.68,73.24 541.58,73.63 541.45,74.01 541.29,74.38 541.08,74.76 540.84,75.13 540.57,75.49 540.27,75.83 539.94,76.17 539.58,76.51 539.2,76.85 538.8,77.18 538.37,77.49 537.94,77.81 537.49,78.13 537.03,78.44 536.57,78.74 536.1,79.05 535.64,79.36 535.19,79.65 534.74,79.95 534.3,80.25 533.87,80.56 533.47,80.85 533.09,81.13 532.72,81.44 532.38,81.76 532.08,82.06 531.8,82.36 531.55,82.7 531.33,83.05 531.15,83.39 531,83.74 530.88,84.11 530.8,84.5 530.75,84.9 530.74,85.3 530.75,85.72 530.8,86.16 530.88,86.61 530.99,87.06 531.13,87.53 531.29,88 531.47,88.49 531.67,88.97 531.9,89.46 532.13,89.95 532.38,90.45 532.64,90.94 532.91,91.43 533.17,91.91 533.45,92.39 533.71,92.86 533.97,93.34 534.22,93.78 534.46,94.21 534.68,94.66 534.88,95.11 535.05,95.53 535.21,95.93 535.34,96.35 535.42,96.77 535.48,97.18 535.51,97.57 535.5,97.96 535.45,98.36 535.37,98.74 535.26,99.1 535.11,99.47 534.92,99.84 534.7,100.2 534.45,100.54 534.17,100.89 533.86,101.25 533.53,101.6 533.17,101.93 532.79,102.27 532.4,102.63 531.99,102.97 531.57,103.32 531.15,103.66 530.72,104.02 530.29,104.37 529.86,104.73 529.45,105.09 529.04,105.46 528.65,105.82 528.27,106.2 527.91,106.59 527.59,106.97 527.28,107.35 527.01,107.73 526.76,108.15 526.55,108.56 526.38,108.95 526.24,109.35 526.14,109.76 526.08,110.2 526.06,110.61 526.07,111.01 526.13,111.42 526.22,111.84 526.35,112.26 526.51,112.67 526.71,113.08 526.94,113.48 527.19,113.9 527.47,114.31 527.78,114.72 528.11,115.13 528.45,115.54 528.81,115.95 529.18,116.36 529.55,116.77 529.93,117.18 530.31,117.58 530.69,117.98 531.06,118.38 531.42,118.78 531.76,119.18 532.09,119.58 532.4,119.96 532.69,120.34 532.95,120.74 533.19,121.14 533.39,121.53 533.56,121.89 533.7,122.25 533.81,122.65 533.88,123.05 533.92,123.45 533.91,123.81 533.88,124.16 533.81,124.56 533.71,124.96 533.57,125.37 533.4,125.76 533.2,126.13 532.98,126.53 532.73,126.95 532.46,127.37 532.17,127.79 531.86,128.19 531.54,128.61 531.22,129.05 530.89,129.49 530.55,129.94 530.22,130.38 529.9,130.84 529.58,131.29 529.28,131.75 528.99,132.2 528.72,132.67 528.49,133.17 528.28,133.65 528.09,134.1 527.93,134.54 527.8,134.97 527.72,135.47 527.69,135.97 527.67,136.39 527.7,136.8 527.75,137.2 527.85,137.59 527.99,138.01 528.18,138.44 528.39,138.8 528.64,139.15 528.92,139.49 529.23,139.82 529.57,140.15 529.95,140.49 530.35,140.8 530.77,141.09 531.21,141.38 531.66,141.66 532.13,141.93 532.61,142.21 533.1,142.48 533.59,142.74 534.08,143 534.56,143.27 535.04,143.53 535.51,143.8 535.96,144.06 536.4,144.33 536.82,144.61 537.22,144.9 537.59,145.19 537.93,145.5 538.25,145.8 538.53,146.12 538.78,146.46 539,146.8 539.19,147.16 539.34,147.53 539.45,147.91 539.53,148.3 539.58,148.71 539.59,149.13 539.57,149.56 539.52,150.01 539.44,150.47 539.33,150.93 539.19,151.4 539.03,151.89 538.85,152.39 538.65,152.88 538.43,153.37 538.28,153.68" fill="none" stroke="#f0b273" stroke-width="0.63" stroke-linecap="round" stroke-linejoin="round"/><polyline points="545.96,36.14 546.12,36.52 546.26,36.89 546.36,37.28 546.42,37.69 546.44,38.11 546.43,38.54 546.37,38.96 546.27,39.38 546.14,39.8 545.97,40.22 545.76,40.63 545.51,41.03 545.24,41.43 544.93,41.82 544.6,42.21 544.24,42.59 543.87,42.96 543.47,43.33 543.06,43.69 542.65,44.05 542.22,44.41 541.8,44.76 541.37,45.12 540.95,45.48 540.54,45.84 540.14,46.19 539.75,46.55 539.38,46.91 539.04,47.28 538.71,47.64 538.42,48.01 538.15,48.38 537.91,48.75 537.71,49.12 537.54,49.5 537.4,49.89 537.31,50.27 537.25,50.66 537.22,51.06 537.23,51.46 537.28,51.86 537.36,52.27 537.47,52.68 537.62,53.1 537.8,53.52 538,53.95 538.24,54.37 538.49,54.81 538.76,55.25 539.05,55.69 539.36,56.13 539.67,56.57 539.99,57.02 540.32,57.47 540.64,57.93 540.96,58.38 541.27,58.84 541.58,59.29 541.86,59.74 542.13,60.19 542.38,60.64 542.61,61.09 542.8,61.53 542.98,61.96 543.12,62.4 543.22,62.84 543.3,63.25 543.33,63.67 543.34,64.07 543.3,64.48 543.23,64.89 543.12,65.28 542.97,65.66 542.79,66.03 542.57,66.41 542.32,66.78 542.04,67.14 541.72,67.48 541.39,67.83 541.02,68.17 540.63,68.51 540.22,68.85 539.8,69.17 539.36,69.5 538.92,69.82 538.47,70.15 538.01,70.47 537.56,70.78 537.11,71.1 536.67,71.43 536.24,71.75 535.82,72.07 535.42,72.39 535.04,72.73 534.69,73.06 534.36,73.4 534.07,73.73 533.8,74.08 533.56,74.44 533.35,74.81 533.19,75.17 533.06,75.54 532.96,75.92 532.89,76.32 532.87,76.72 532.88,77.12 532.93,77.52 533,77.95 533.11,78.38 533.25,78.81 533.41,79.24 533.6,79.67 533.81,80.13 534.03,80.6 534.28,81.05 534.53,81.51 534.79,82 535.05,82.48 535.32,82.97 535.58,83.46 535.84,83.95 536.09,84.44 536.32,84.94 536.54,85.43 536.74,85.92 536.93,86.39 537.09,86.87 537.22,87.34 537.33,87.79 537.41,88.24 537.46,88.66 537.48,89.08 537.46,89.5 537.42,89.9 537.34,90.27 537.23,90.63 537.07,91 536.89,91.35 536.68,91.66 536.44,91.99 536.15,92.33 535.85,92.63 535.52,92.91 535.17,93.22 534.78,93.54 534.38,93.82 533.97,94.11 533.54,94.42 533.1,94.73 532.65,95.04 532.2,95.36 531.74,95.68 531.29,96 530.84,96.33 530.4,96.66 529.98,96.99 529.57,97.33 529.18,97.67 528.81,98.03 528.47,98.39 528.15,98.74 527.86,99.11 527.61,99.5 527.39,99.89 527.21,100.27 527.06,100.66 526.94,101.08 526.87,101.49 526.84,101.89 526.85,102.3 526.89,102.74 526.97,103.18 527.09,103.6 527.24,104.02 527.42,104.46 527.63,104.91 527.88,105.34 528.15,105.77 528.44,106.21 528.75,106.66 529.08,107.09 529.42,107.52 529.77,107.95 530.12,108.38 530.48,108.8 530.84,109.22 531.19,109.64 531.53,110.06 531.87,110.46 532.19,110.87 532.49,111.28 532.76,111.69 533.01,112.09 533.24,112.48 533.44,112.88 533.6,113.29 533.73,113.69 533.83,114.09 533.89,114.48 533.91,114.88 533.9,115.28 533.85,115.67 533.76,116.05 533.64,116.44 533.49,116.84 533.3,117.23 533.08,117.63 532.83,118 532.55,118.39 532.25,118.79 531.93,119.18 531.59,119.58 531.23,119.97 530.87,120.36 530.5,120.77 530.12,121.17 529.74,121.58 529.36,121.99 528.99,122.4 528.63,122.81 528.28,123.23 527.95,123.64 527.64,124.07 527.35,124.51 527.09,124.93 526.86,125.35 526.66,125.76 526.49,126.19 526.36,126.66 526.27,127.09 526.22,127.5 526.2,127.9 526.22,128.31 526.28,128.77 526.39,129.21 526.53,129.6 526.71,129.98 526.92,130.36 527.17,130.79 527.47,131.21 527.78,131.57 528.13,131.92 528.49,132.27 528.88,132.64 529.3,133.02 529.74,133.35 530.19,133.67 530.64,133.99 531.1,134.3 531.56,134.61 532.02,134.9 532.48,135.19 532.94,135.49 533.38,135.8 533.8,136.1 534.19,136.39 534.57,136.66 534.94,136.96 535.28,137.28 535.59,137.61 535.87,137.95 536.11,138.28 536.31,138.59 536.49,138.93 536.64,139.3 536.75,139.68 536.83,140.08 536.87,140.48 536.87,140.88 536.85,141.27 536.79,141.71 536.71,142.15 536.6,142.61 536.47,143.07 536.31,143.54 536.12,144.01 535.93,144.49 535.72,144.98 535.49,145.48 535.26,145.98 535.02,146.48 534.79,146.98 534.55,147.48 534.32,147.98 534.1,148.48 533.89,148.98 533.69,149.47 533.51,149.96 533.36,150.44 533.22,150.91 533.11,151.37 533.03,151.82 532.97,152.25 532.95,152.67 532.96,153.09 533,153.5 533.07,153.87 533.17,154.23 533.31,154.59 533.49,154.95 533.62,155.18" fill="none" stroke="#ecbb90" stroke-width="1.8" stroke-linecap="round" stroke-linejoin="round"/><polyline points="545.96,36.14 546.12,36.52 546.26,36.89 546.36,37.28 546.42,37.69 546.44,38.11 546.43,38.54 546.37,38.96 546.27,39.38 546.14,39.8 545.97,40.22 545.76,40.63 545.51,41.03 545.24,41.43 544.93,41.82 544.6,42.21 544.24,42.59 543.87,42.96 543.47,43.33 543.06,43.69 542.65,44.05 542.22,44.41 541.8,44.76 541.37,45.12 540.95,45.48 540.54,45.84 540.14,46.19 539.75,46.55 539.38,46.91 539.04,47.28 538.71,47.64 538.42,48.01 538.15,48.38 537.91,48.75 537.71,49.12 537.54,49.5 537.4,49.89 537.31,50.27 537.25,50.66 537.22,51.06 537.23,51.46 537.28,51.86 537.36,52.27 537.47,52.68 537.62,53.1 537.8,53.52 538,53.95 538.24,54.37 538.49,54.81 538.76,55.25 539.05,55.69 539.36,56.13 539.67,56.57 539.99,57.02 540.32,57.47 540.64,57.93 540.96,58.38 541.27,58.84 541.58,59.29 541.86,59.74 542.13,60.19 542.38,60.64 542.61,61.09 542.8,61.53 542.98,61.96 543.12,62.4 543.22,62.84 543.3,63.25 543.33,63.67 543.34,64.07 543.3,64.48 543.23,64.89 543.12,65.28 542.97,65.66 542.79,66.03 542.57,66.41 542.32,66.78 542.04,67.14 541.72,67.48 541.39,67.83 541.02,68.17 540.63,68.51 540.22,68.85 539.8,69.17 539.36,69.5 538.92,69.82 538.47,70.15 538.01,70.47 537.56,70.78 537.11,71.1 536.67,71.43 536.24,71.75 535.82,72.07 535.42,72.39 535.04,72.73 534.69,73.06 534.36,73.4 534.07,73.73 533.8,74.08 533.56,74.44 533.35,74.81 533.19,75.17 533.06,75.54 532.96,75.92 532.89,76.32 532.87,76.72 532.88,77.12 532.93,77.52 533,77.95 533.11,78.38 533.25,78.81 533.41,79.24 533.6,79.67 533.81,80.13 534.03,80.6 534.28,81.05 534.53,81.51 534.79,82 535.05,82.48 535.32,82.97 535.58,83.46 535.84,83.95 536.09,84.44 536.32,84.94 536.54,85.43 536.74,85.92 536.93,86.39 537.09,86.87 537.22,87.34 537.33,87.79 537.41,88.24 537.46,88.66 537.48,89.08 537.46,89.5 537.42,89.9 537.34,90.27 537.23,90.63 537.07,91 536.89,91.35 536.68,91.66 536.44,91.99 536.15,92.33 535.85,92.63 535.52,92.91 535.17,93.22 534.78,93.54 534.38,93.82 533.97,94.11 533.54,94.42 533.1,94.73 532.65,95.04 532.2,95.36 531.74,95.68 531.29,96 530.84,96.33 530.4,96.66 529.98,96.99 529.57,97.33 529.18,97.67 528.81,98.03 528.47,98.39 528.15,98.74 527.86,99.11 527.61,99.5 527.39,99.89 527.21,100.27 527.06,100.66 526.94,101.08 526.87,101.49 526.84,101.89 526.85,102.3 526.89,102.74 526.97,103.18 527.09,103.6 527.24,104.02 527.42,104.46 527.63,104.91 527.88,105.34 528.15,105.77 528.44,106.21 528.75,106.66 529.08,107.09 529.42,107.52 529.77,107.95 530.12,108.38 530.48,108.8 530.84,109.22 531.19,109.64 531.53,110.06 531.87,110.46 532.19,110.87 532.49,111.28 532.76,111.69 533.01,112.09 533.24,112.48 533.44,112.88 533.6,113.29 533.73,113.69 533.83,114.09 533.89,114.48 533.91,114.88 533.9,115.28 533.85,115.67 533.76,116.05 533.64,116.44 533.49,116.84 533.3,117.23 533.08,117.63 532.83,118 532.55,118.39 532.25,118.79 531.93,119.18 531.59,119.58 531.23,119.97 530.87,120.36 530.5,120.77 530.12,121.17 529.74,121.58 529.36,121.99 528.99,122.4 528.63,122.81 528.28,123.23 527.95,123.64 527.64,124.07 527.35,124.51 527.09,124.93 526.86,125.35 526.66,125.76 526.49,126.19 526.36,126.66 526.27,127.09 526.22,127.5 526.2,127.9 526.22,128.31 526.28,128.77 526.39,129.21 526.53,129.6 526.71,129.98 526.92,130.36 527.17,130.79 527.47,131.21 527.78,131.57 528.13,131.92 528.49,132.27 528.88,132.64 529.3,133.02 529.74,133.35 530.19,133.67 530.64,133.99 531.1,134.3 531.56,134.61 532.02,134.9 532.48,135.19 532.94,135.49 533.38,135.8 533.8,136.1 534.19,136.39 534.57,136.66 534.94,136.96 535.28,137.28 535.59,137.61 535.87,137.95 536.11,138.28 536.31,138.59 536.49,138.93 536.64,139.3 536.75,139.68 536.83,140.08 536.87,140.48 536.87,140.88 536.85,141.27 536.79,141.71 536.71,142.15 536.6,142.61 536.47,143.07 536.31,143.54 536.12,144.01 535.93,144.49 535.72,144.98 535.49,145.48 535.26,145.98 535.02,146.48 534.79,146.98 534.55,147.48 534.32,147.98 534.1,148.48 533.89,148.98 533.69,149.47 533.51,149.96 533.36,150.44 533.22,150.91 533.11,151.37 533.03,151.82 532.97,152.25 532.95,152.67 532.96,153.09 533,153.5 533.07,153.87 533.17,154.23 533.31,154.59 533.49,154.95 533.62,155.18" fill="none" stroke="#f4d2b2" stroke-width="0.63" stroke-linecap="round" stroke-linejoin="round"/><polyline points="645.7,36 645.32,36.41 644.95,36.82 644.59,37.23 644.24,37.65 643.9,38.08 643.59,38.49 643.29,38.91 643.02,39.32 642.77,39.74 642.56,40.15 642.37,40.56 642.22,40.97 642.1,41.38 642.02,41.78 641.98,42.18 641.97,42.58 641.99,42.98 642.06,43.37 642.16,43.77 642.3,44.16 642.47,44.55 642.67,44.93 642.91,45.32 643.17,45.71 643.46,46.09 643.78,46.48 644.12,46.87 644.48,47.25 644.85,47.63 645.23,48.02 645.62,48.41 646.01,48.79 646.41,49.18 646.81,49.57 647.2,49.96 647.58,50.37 647.94,50.77 648.29,51.17 648.61,51.56 648.92,51.96 649.2,52.36 649.46,52.75 649.68,53.19 649.86,53.63 650.01,54.03 650.13,54.44 650.21,54.84 650.25,55.24 650.25,55.64 650.22,56.09 650.14,56.55 650.01,56.96 649.86,57.35 649.67,57.75 649.45,58.14 649.2,58.54 648.91,58.99 648.58,59.42 648.23,59.79 647.86,60.16 647.47,60.52 647.07,60.89 646.65,61.28 646.21,61.63 645.76,61.96 645.32,62.3 644.87,62.63 644.44,62.94 644.01,63.22 643.59,63.53 643.17,63.84 642.78,64.17 642.42,64.46 642.09,64.72 641.76,65 641.46,65.33 641.19,65.67 640.96,66 640.77,66.28 640.6,66.58 640.45,66.95 640.34,67.34 640.27,67.72 640.24,68.07 640.23,68.44 640.24,68.87 640.29,69.31 640.36,69.75 640.47,70.19 640.6,70.64 640.74,71.12 640.9,71.61 641.08,72.1 641.27,72.6 641.47,73.1 641.68,73.61 641.9,74.12 642.11,74.63 642.33,75.15 642.54,75.65 642.75,76.16 642.94,76.66 643.12,77.14 643.3,77.61 643.44,78.08 643.57,78.55 643.67,79.01 643.76,79.41 643.83,79.8 643.86,80.23 643.85,80.65 643.81,81.03 643.75,81.39 643.64,81.76 643.5,82.14 643.32,82.5 643.11,82.86 642.86,83.21 642.58,83.54 642.27,83.86 641.92,84.18 641.55,84.48 641.16,84.78 640.74,85.07 640.31,85.36 639.86,85.63 639.39,85.91 638.92,86.18 638.43,86.45 637.95,86.72 637.46,87 636.98,87.27 636.51,87.55 636.04,87.83 635.59,88.12 635.16,88.41 634.74,88.71 634.35,89.02 633.99,89.34 633.65,89.66 633.35,90 633.07,90.36 632.83,90.72 632.62,91.08 632.45,91.45 632.32,91.86 632.22,92.26 632.16,92.66 632.14,93.08 632.15,93.52 632.2,93.97 632.29,94.4 632.41,94.84 632.55,95.3 632.73,95.77 632.93,96.23 633.16,96.69 633.4,97.17 633.66,97.64 633.94,98.11 634.22,98.59 634.51,99.06 634.8,99.53 635.1,100 635.39,100.47 635.67,100.94 635.94,101.4 636.19,101.85 636.43,102.31 636.65,102.76 636.84,103.2 637.01,103.63 637.15,104.05 637.26,104.48 637.34,104.9 637.38,105.3 637.39,105.7 637.37,106.09 637.31,106.49 637.21,106.87 637.08,107.23 636.91,107.6 636.71,107.97 636.47,108.33 636.21,108.68 635.91,109.02 635.59,109.37 635.24,109.72 634.87,110.06 634.48,110.39 634.07,110.73 633.65,111.07 633.22,111.41 632.79,111.75 632.35,112.09 631.92,112.43 631.48,112.78 631.06,113.12 630.64,113.47 630.24,113.82 629.86,114.17 629.49,114.51 629.15,114.86 628.83,115.22 628.55,115.58 628.29,115.95 628.06,116.33 627.87,116.7 627.71,117.1 627.59,117.5 627.51,117.9 627.47,118.3 627.46,118.73 627.49,119.18 627.56,119.6 627.67,120.02 627.81,120.49 627.99,120.94 628.2,121.36 628.44,121.81 628.72,122.28 629.02,122.72 629.34,123.13 629.68,123.58 630.06,124.01 630.44,124.41 630.83,124.81 631.23,125.19 631.64,125.56 632.04,125.93 632.44,126.26 632.84,126.56 633.24,126.91 633.6,127.19 633.96,127.42 634.31,127.71 634.63,128 634.9,128.19 635.18,128.42 635.45,128.74 635.64,128.95 635.82,129.16 636.01,129.51 636.14,129.8 636.24,130.07 636.34,130.43 636.4,130.81 636.43,131.16 636.44,131.55 636.45,132 636.41,132.43 636.36,132.88 636.31,133.37 636.23,133.87 636.13,134.37 636.02,134.89 635.91,135.42 635.78,135.96 635.64,136.5 635.5,137.03 635.35,137.57 635.2,138.1 635.05,138.62 634.91,139.14 634.77,139.62 634.62,140.1 634.51,140.6 634.41,141.06 634.32,141.5 634.26,141.95 634.24,142.39 634.24,142.82 634.27,143.24 634.33,143.64 634.43,144.03 634.57,144.41 634.73,144.76 634.93,145.11 635.16,145.45 635.43,145.77 635.73,146.07 636.06,146.36 636.42,146.64 636.8,146.91 637.21,147.17 637.65,147.41 638.1,147.66 638.57,147.89 639.06,148.12 639.56,148.34 640.06,148.56 640.57,148.78 641.08,148.99 641.59,149.21 642.1,149.43 642.6,149.66 643.08,149.88 643.55,150.12 644.01,150.36 644.44,150.61 644.85,150.87 645.24,151.14 645.6,151.43 645.92,151.72 646.22,152.02 646.49,152.34 646.58,152.47" fill="none" stroke="#d0977b" stroke-width="1.8" stroke-linecap="round" stroke-linejoin="round"/><polyline points="645.7,36 645.32,36.41 644.95,36.82 644.59,37.23 644.24,37.65 643.9,38.08 643.59,38.49 643.29,38.91 643.02,39.32 642.77,39.74 642.56,40.15 642.37,40.56 642.22,40.97 642.1,41.38 642.02,41.78 641.98,42.18 641.97,42.58 641.99,42.98 642.06,43.37 642.16,43.77 642.3,44.16 642.47,44.55 642.67,44.93 642.91,45.32 643.17,45.71 643.46,46.09 643.78,46.48 644.12,46.87 644.48,47.25 644.85,47.63 645.23,48.02 645.62,48.41 646.01,48.79 646.41,49.18 646.81,49.57 647.2,49.96 647.58,50.37 647.94,50.77 648.29,51.17 648.61,51.56 648.92,51.96 649.2,52.36 649.46,52.75 649.68,53.19 649.86,53.63 650.01,54.03 650.13,54.44 650.21,54.84 650.25,55.24 650.25,55.64 650.22,56.09 650.14,56.55 650.01,56.96 649.86,57.35 649.67,57.75 649.45,58.14 649.2,58.54 648.91,58.99 648.58,59.42 648.23,59.79 647.86,60.16 647.47,60.52 647.07,60.89 646.65,61.28 646.21,61.63 645.76,61.96 645.32,62.3 644.87,62.63 644.44,62.94 644.01,63.22 643.59,63.53 643.17,63.84 642.78,64.17 642.42,64.46 642.09,64.72 641.76,65 641.46,65.33 641.19,65.67 640.96,66 640.77,66.28 640.6,66.58 640.45,66.95 640.34,67.34 640.27,67.72 640.24,68.07 640.23,68.44 640.24,68.87 640.29,69.31 640.36,69.75 640.47,70.19 640.6,70.64 640.74,71.12 640.9,71.61 641.08,72.1 641.27,72.6 641.47,73.1 641.68,73.61 641.9,74.12 642.11,74.63 642.33,75.15 642.54,75.65 642.75,76.16 642.94,76.66 643.12,77.14 643.3,77.61 643.44,78.08 643.57,78.55 643.67,79.01 643.76,79.41 643.83,79.8 643.86,80.23 643.85,80.65 643.81,81.03 643.75,81.39 643.64,81.76 643.5,82.14 643.32,82.5 643.11,82.86 642.86,83.21 642.58,83.54 642.27,83.86 641.92,84.18 641.55,84.48 641.16,84.78 640.74,85.07 640.31,85.36 639.86,85.63 639.39,85.91 638.92,86.18 638.43,86.45 637.95,86.72 637.46,87 636.98,87.27 636.51,87.55 636.04,87.83 635.59,88.12 635.16,88.41 634.74,88.71 634.35,89.02 633.99,89.34 633.65,89.66 633.35,90 633.07,90.36 632.83,90.72 632.62,91.08 632.45,91.45 632.32,91.86 632.22,92.26 632.16,92.66 632.14,93.08 632.15,93.52 632.2,93.97 632.29,94.4 632.41,94.84 632.55,95.3 632.73,95.77 632.93,96.23 633.16,96.69 633.4,97.17 633.66,97.64 633.94,98.11 634.22,98.59 634.51,99.06 634.8,99.53 635.1,100 635.39,100.47 635.67,100.94 635.94,101.4 636.19,101.85 636.43,102.31 636.65,102.76 636.84,103.2 637.01,103.63 637.15,104.05 637.26,104.48 637.34,104.9 637.38,105.3 637.39,105.7 637.37,106.09 637.31,106.49 637.21,106.87 637.08,107.23 636.91,107.6 636.71,107.97 636.47,108.33 636.21,108.68 635.91,109.02 635.59,109.37 635.24,109.72 634.87,110.06 634.48,110.39 634.07,110.73 633.65,111.07 633.22,111.41 632.79,111.75 632.35,112.09 631.92,112.43 631.48,112.78 631.06,113.12 630.64,113.47 630.24,113.82 629.86,114.17 629.49,114.51 629.15,114.86 628.83,115.22 628.55,115.58 628.29,115.95 628.06,116.33 627.87,116.7 627.71,117.1 627.59,117.5 627.51,117.9 627.47,118.3 627.46,118.73 627.49,119.18 627.56,119.6 627.67,120.02 627.81,120.49 627.99,120.94 628.2,121.36 628.44,121.81 628.72,122.28 629.02,122.72 629.34,123.13 629.68,123.58 630.06,124.01 630.44,124.41 630.83,124.81 631.23,125.19 631.64,125.56 632.04,125.93 632.44,126.26 632.84,126.56 633.24,126.91 633.6,127.19 633.96,127.42 634.31,127.71 634.63,128 634.9,128.19 635.18,128.42 635.45,128.74 635.64,128.95 635.82,129.16 636.01,129.51 636.14,129.8 636.24,130.07 636.34,130.43 636.4,130.81 636.43,131.16 636.44,131.55 636.45,132 636.41,132.43 636.36,132.88 636.31,133.37 636.23,133.87 636.13,134.37 636.02,134.89 635.91,135.42 635.78,135.96 635.64,136.5 635.5,137.03 635.35,137.57 635.2,138.1 635.05,138.62 634.91,139.14 634.77,139.62 634.62,140.1 634.51,140.6 634.41,141.06 634.32,141.5 634.26,141.95 634.24,142.39 634.24,142.82 634.27,143.24 634.33,143.64 634.43,144.03 634.57,144.41 634.73,144.76 634.93,145.11 635.16,145.45 635.43,145.77 635.73,146.07 636.06,146.36 636.42,146.64 636.8,146.91 637.21,147.17 637.65,147.41 638.1,147.66 638.57,147.89 639.06,148.12 639.56,148.34 640.06,148.56 640.57,148.78 641.08,148.99 641.59,149.21 642.1,149.43 642.6,149.66 643.08,149.88 643.55,150.12 644.01,150.36 644.44,150.61 644.85,150.87 645.24,151.14 645.6,151.43 645.92,151.72 646.22,152.02 646.49,152.34 646.58,152.47" fill="none" stroke="#dfae95" stroke-width="0.63" stroke-linecap="round" stroke-linejoin="round"/><polyline points="642.24,36.09 642.46,36.48 642.71,36.88 642.98,37.28 643.29,37.69 643.62,38.09 643.98,38.48 644.35,38.86 644.73,39.24 645.12,39.63 645.53,40.01 645.93,40.39 646.34,40.77 646.74,41.16 647.13,41.54 647.51,41.92 647.87,42.31 648.22,42.69 648.55,43.08 648.85,43.46 649.13,43.85 649.38,44.25 649.59,44.65 649.77,45.05 649.92,45.44 650.03,45.84 650.11,46.24 650.14,46.64 650.14,47.05 650.1,47.47 650.03,47.88 649.91,48.29 649.76,48.69 649.58,49.1 649.37,49.5 649.12,49.91 648.85,50.34 648.55,50.76 648.23,51.17 647.89,51.57 647.53,51.97 647.17,52.38 646.79,52.78 646.41,53.19 646.02,53.59 645.63,53.98 645.25,54.38 644.87,54.77 644.51,55.17 644.17,55.56 643.85,55.93 643.53,56.27 643.25,56.65 642.98,57.04 642.75,57.43 642.55,57.82 642.38,58.2 642.26,58.5 642.15,58.81 642.07,59.2 642.03,59.6 642.02,60 642.06,60.38 642.14,60.67 642.23,60.99 642.34,61.41 642.48,61.84 642.66,62.27 642.87,62.65 643.09,63.02 643.31,63.46 643.55,63.93 643.81,64.4 644.09,64.85 644.36,65.31 644.63,65.79 644.89,66.28 645.16,66.77 645.42,67.26 645.66,67.77 645.87,68.28 646.08,68.76 646.28,69.25 646.44,69.73 646.58,70.24 646.68,70.73 646.76,71.19 646.81,71.63 646.83,72.07 646.8,72.53 646.74,72.96 646.66,73.36 646.54,73.74 646.38,74.11 646.18,74.48 645.95,74.83 645.69,75.16 645.4,75.47 645.07,75.77 644.72,76.06 644.34,76.34 643.94,76.61 643.51,76.88 643.07,77.12 642.62,77.36 642.14,77.62 641.66,77.87 641.16,78.11 640.67,78.36 640.18,78.62 639.69,78.88 639.21,79.14 638.73,79.42 638.27,79.71 637.82,80 637.4,80.29 637,80.59 636.63,80.89 636.28,81.19 635.95,81.51 635.66,81.84 635.4,82.18 635.18,82.53 634.99,82.89 634.83,83.26 634.71,83.64 634.62,84.04 634.57,84.44 634.56,84.85 634.58,85.28 634.63,85.72 634.71,86.17 634.83,86.62 634.97,87.08 635.13,87.56 635.32,88.04 635.53,88.52 635.76,89 636,89.49 636.25,89.98 636.51,90.47 636.77,90.96 637.03,91.45 637.3,91.94 637.55,92.42 637.8,92.9 638.03,93.36 638.26,93.82 638.45,94.29 638.63,94.74 638.79,95.18 638.92,95.6 639.02,96.04 639.09,96.46 639.13,96.86 639.13,97.25 639.1,97.65 639.03,98.05 638.93,98.42 638.8,98.78 638.63,99.15 638.42,99.51 638.18,99.86 637.9,100.2 637.6,100.53 637.27,100.87 636.92,101.2 636.54,101.52 636.14,101.84 635.72,102.16 635.29,102.48 634.85,102.8 634.4,103.12 633.94,103.44 633.49,103.76 633.03,104.08 632.59,104.4 632.15,104.73 631.73,105.06 631.32,105.4 630.94,105.74 630.57,106.09 630.23,106.45 629.92,106.8 629.64,107.16 629.39,107.54 629.18,107.93 629,108.31 628.86,108.69 628.76,109.09 628.69,109.51 628.66,109.92 628.67,110.32 628.72,110.74 628.8,111.18 628.92,111.62 629.07,112.04 629.26,112.47 629.47,112.91 629.7,113.34 629.96,113.78 630.24,114.22 630.54,114.66 630.85,115.1 631.16,115.55 631.48,116 631.81,116.45 632.14,116.9 632.46,117.35 632.77,117.8 633.08,118.24 633.37,118.68 633.65,119.12 633.9,119.53 634.14,119.94 634.36,120.36 634.54,120.78 634.7,121.15 634.84,121.52 634.93,121.92 635,122.29 635.04,122.62 635.04,122.98 635.01,123.38 634.94,123.68 634.86,123.98 634.73,124.38 634.58,124.72 634.39,125.02 634.19,125.39 633.97,125.8 633.71,126.12 633.45,126.48 633.18,126.92 632.89,127.31 632.6,127.71 632.33,128.17 632.04,128.64 631.77,129.11 631.53,129.61 631.29,130.11 631.06,130.64 630.89,131.18 630.71,131.69 630.57,132.23 630.47,132.78 630.38,133.29 630.32,133.79 630.31,134.31 630.32,134.8 630.35,135.24 630.43,135.7 630.54,136.14 630.67,136.53 630.84,136.91 631.04,137.27 631.27,137.6 631.53,137.91 631.81,138.19 632.12,138.46 632.47,138.72 632.83,138.94 633.21,139.15 633.63,139.37 634.07,139.58 634.51,139.75 634.97,139.94 635.46,140.15 635.96,140.34 636.47,140.54 636.98,140.75 637.49,140.96 638.01,141.17 638.52,141.38 639.02,141.6 639.51,141.82 639.99,142.06 640.45,142.29 640.9,142.54 641.32,142.79 641.71,143.06 642.08,143.34 642.42,143.63 642.73,143.94 643.01,144.25 643.26,144.58 643.47,144.93 643.65,145.29 643.79,145.67 643.9,146.06 643.98,146.46 644.02,146.88 644.03,147.31 644.01,147.75 643.96,148.21 643.88,148.68 643.78,149.16 643.65,149.64 643.51,150.14 643.34,150.64 643.17,151.15 642.98,151.67 642.79,152.18 642.59,152.7 642.39,153.22 642.19,153.74 642,154.25 641.93,154.46" fill="none" stroke="#e8984f" stroke-width="1.8" stroke-linecap="round" stroke-linejoin="round"/><polyline points="642.24,36.09 642.46,36.48 642.71,36.88 642.98,37.28 643.29,37.69 643.62,38.09 643.98,38.48 644.35,38.86 644.73,39.24 645.12,39.63 645.53,40.01 645.93,40.39 646.34,40.77 646.74,41.16 647.13,41.54 647.51,41.92 647.87,42.31 648.22,42.69 648.55,43.08 648.85,43.46 649.13,43.85 649.38,44.25 649.59,44.65 649.77,45.05 649.92,45.44 650.03,45.84 650.11,46.24 650.14,46.64 650.14,47.05 650.1,47.47 650.03,47.88 649.91,48.29 649.76,48.69 649.58,49.1 649.37,49.5 649.12,49.91 648.85,50.34 648.55,50.76 648.23,51.17 647.89,51.57 647.53,51.97 647.17,52.38 646.79,52.78 646.41,53.19 646.02,53.59 645.63,53.98 645.25,54.38 644.87,54.77 644.51,55.17 644.17,55.56 643.85,55.93 643.53,56.27 643.25,56.65 642.98,57.04 642.75,57.43 642.55,57.82 642.38,58.2 642.26,58.5 642.15,58.81 642.07,59.2 642.03,59.6 642.02,60 642.06,60.38 642.14,60.67 642.23,60.99 642.34,61.41 642.48,61.84 642.66,62.27 642.87,62.65 643.09,63.02 643.31,63.46 643.55,63.93 643.81,64.4 644.09,64.85 644.36,65.31 644.63,65.79 644.89,66.28 645.16,66.77 645.42,67.26 645.66,67.77 645.87,68.28 646.08,68.76 646.28,69.25 646.44,69.73 646.58,70.24 646.68,70.73 646.76,71.19 646.81,71.63 646.83,72.07 646.8,72.53 646.74,72.96 646.66,73.36 646.54,73.74 646.38,74.11 646.18,74.48 645.95,74.83 645.69,75.16 645.4,75.47 645.07,75.77 644.72,76.06 644.34,76.34 643.94,76.61 643.51,76.88 643.07,77.12 642.62,77.36 642.14,77.62 641.66,77.87 641.16,78.11 640.67,78.36 640.18,78.62 639.69,78.88 639.21,79.14 638.73,79.42 638.27,79.71 637.82,80 637.4,80.29 637,80.59 636.63,80.89 636.28,81.19 635.95,81.51 635.66,81.84 635.4,82.18 635.18,82.53 634.99,82.89 634.83,83.26 634.71,83.64 634.62,84.04 634.57,84.44 634.56,84.85 634.58,85.28 634.63,85.72 634.71,86.17 634.83,86.62 634.97,87.08 635.13,87.56 635.32,88.04 635.53,88.52 635.76,89 636,89.49 636.25,89.98 636.51,90.47 636.77,90.96 637.03,91.45 637.3,91.94 637.55,92.42 637.8,92.9 638.03,93.36 638.26,93.82 638.45,94.29 638.63,94.74 638.79,95.18 638.92,95.6 639.02,96.04 639.09,96.46 639.13,96.86 639.13,97.25 639.1,97.65 639.03,98.05 638.93,98.42 638.8,98.78 638.63,99.15 638.42,99.51 638.18,99.86 637.9,100.2 637.6,100.53 637.27,100.87 636.92,101.2 636.54,101.52 636.14,101.84 635.72,102.16 635.29,102.48 634.85,102.8 634.4,103.12 633.94,103.44 633.49,103.76 633.03,104.08 632.59,104.4 632.15,104.73 631.73,105.06 631.32,105.4 630.94,105.74 630.57,106.09 630.23,106.45 629.92,106.8 629.64,107.16 629.39,107.54 629.18,107.93 629,108.31 628.86,108.69 628.76,109.09 628.69,109.51 628.66,109.92 628.67,110.32 628.72,110.74 628.8,111.18 628.92,111.62 629.07,112.04 629.26,112.47 629.47,112.91 629.7,113.34 629.96,113.78 630.24,114.22 630.54,114.66 630.85,115.1 631.16,115.55 631.48,116 631.81,116.45 632.14,116.9 632.46,117.35 632.77,117.8 633.08,118.24 633.37,118.68 633.65,119.12 633.9,119.53 634.14,119.94 634.36,120.36 634.54,120.78 634.7,121.15 634.84,121.52 634.93,121.92 635,122.29 635.04,122.62 635.04,122.98 635.01,123.38 634.94,123.68 634.86,123.98 634.73,124.38 634.58,124.72 634.39,125.02 634.19,125.39 633.97,125.8 633.71,126.12 633.45,126.48 633.18,126.92 632.89,127.31 632.6,127.71 632.33,128.17 632.04,128.64 631.77,129.11 631.53,129.61 631.29,130.11 631.06,130.64 630.89,131.18 630.71,131.69 630.57,132.23 630.47,132.78 630.38,133.29 630.32,133.79 630.31,134.31 630.32,134.8 630.35,135.24 630.43,135.7 630.54,136.14 630.67,136.53 630.84,136.91 631.04,137.27 631.27,137.6 631.53,137.91 631.81,138.19 632.12,138.46 632.47,138.72 632.83,138.94 633.21,139.15 633.63,139.37 634.07,139.58 634.51,139.75 634.97,139.94 635.46,140.15 635.96,140.34 636.47,140.54 636.98,140.75 637.49,140.96 638.01,141.17 638.52,141.38 639.02,141.6 639.51,141.82 639.99,142.06 640.45,142.29 640.9,142.54 641.32,142.79 641.71,143.06 642.08,143.34 642.42,143.63 642.73,143.94 643.01,144.25 643.26,144.58 643.47,144.93 643.65,145.29 643.79,145.67 643.9,146.06 643.98,146.46 644.02,146.88 644.03,147.31 644.01,147.75 643.96,148.21 643.88,148.68 643.78,149.16 643.65,149.64 643.51,150.14 643.34,150.64 643.17,151.15 642.98,151.67 642.79,152.18 642.59,152.7 642.39,153.22 642.19,153.74 642,154.25 641.93,154.46" fill="none" stroke="#f0b273" stroke-width="0.63" stroke-linecap="round" stroke-linejoin="round"/><polyline points="649.16,35.91 649.35,36.31 649.5,36.7 649.62,37.09 649.7,37.46 649.75,37.83 649.77,38.23 649.74,38.63 649.68,39.03 649.59,39.43 649.46,39.83 649.29,40.23 649.1,40.64 648.87,41.05 648.62,41.47 648.34,41.88 648.04,42.3 647.72,42.71 647.38,43.13 647.03,43.55 646.67,43.96 646.31,44.38 645.94,44.8 645.57,45.21 645.21,45.63 644.85,46.04 644.51,46.45 644.18,46.87 643.86,47.27 643.57,47.67 643.3,48.07 643.06,48.48 642.85,48.88 642.66,49.29 642.51,49.69 642.4,50.09 642.32,50.46 642.27,50.83 642.26,51.23 642.29,51.63 642.35,52.03 642.45,52.43 642.58,52.83 642.75,53.19 642.95,53.55 643.17,53.95 643.43,54.35 643.71,54.76 644.01,55.16 644.34,55.57 644.68,55.95 645.03,56.34 645.38,56.75 645.75,57.17 646.11,57.58 646.48,58 646.85,58.42 647.2,58.87 647.52,59.32 647.84,59.75 648.13,60.18 648.41,60.61 648.66,61.05 648.88,61.58 649.04,62.09 649.18,62.52 649.29,62.94 649.37,63.36 649.4,63.85 649.36,64.37 649.3,64.8 649.21,65.19 649.08,65.57 648.91,65.99 648.68,66.44 648.42,66.84 648.14,67.18 647.82,67.51 647.48,67.84 647.09,68.2 646.67,68.53 646.24,68.82 645.8,69.09 645.34,69.37 644.86,69.65 644.36,69.91 643.87,70.16 643.37,70.41 642.87,70.65 642.38,70.89 641.89,71.13 641.41,71.38 640.95,71.63 640.5,71.88 640.08,72.14 639.68,72.41 639.29,72.69 638.94,72.98 638.61,73.29 638.32,73.61 638.06,73.95 637.83,74.29 637.64,74.64 637.47,75.04 637.34,75.46 637.26,75.86 637.22,76.27 637.2,76.7 637.2,77.19 637.26,77.67 637.35,78.12 637.47,78.58 637.62,79.07 637.79,79.56 637.98,80.05 638.2,80.53 638.43,81.02 638.67,81.51 638.92,82 639.17,82.5 639.42,82.99 639.67,83.49 639.92,83.98 640.15,84.47 640.37,84.96 640.57,85.44 640.76,85.91 640.92,86.38 641.06,86.84 641.18,87.29 641.26,87.73 641.32,88.16 641.34,88.58 641.33,88.99 641.29,89.38 641.21,89.77 641.09,90.15 640.94,90.52 640.76,90.86 640.55,91.21 640.29,91.55 640.01,91.88 639.7,92.19 639.36,92.5 639,92.81 638.61,93.12 638.2,93.41 637.77,93.7 637.33,94 636.87,94.29 636.41,94.58 635.94,94.87 635.47,95.17 635,95.47 634.54,95.77 634.08,96.09 633.64,96.4 633.21,96.71 632.8,97.03 632.42,97.37 632.06,97.7 631.72,98.04 631.42,98.38 631.14,98.75 630.9,99.12 630.69,99.48 630.52,99.86 630.38,100.25 630.29,100.66 630.23,101.06 630.21,101.46 630.22,101.87 630.27,102.31 630.35,102.75 630.47,103.18 630.62,103.61 630.8,104.06 631,104.52 631.23,104.97 631.49,105.43 631.76,105.88 632.04,106.35 632.34,106.81 632.65,107.27 632.96,107.73 633.28,108.19 633.59,108.64 633.9,109.1 634.2,109.55 634.48,110 634.75,110.43 635.01,110.87 635.24,111.31 635.45,111.74 635.63,112.15 635.78,112.56 635.9,112.98 635.99,113.39 636.05,113.8 636.06,114.21 636.04,114.61 635.99,115.01 635.89,115.41 635.75,115.81 635.59,116.19 635.38,116.56 635.15,116.93 634.88,117.29 634.58,117.66 634.25,118.01 633.91,118.35 633.54,118.7 633.15,119.05 632.75,119.39 632.34,119.73 631.92,120.09 631.49,120.44 631.06,120.8 630.64,121.17 630.23,121.53 629.83,121.91 629.44,122.32 629.08,122.72 628.73,123.1 628.41,123.56 628.13,124.02 627.88,124.42 627.66,124.88 627.48,125.39 627.35,125.85 627.26,126.28 627.21,126.82 627.23,127.35 627.27,127.74 627.36,128.26 627.53,128.81 627.73,129.23 627.96,129.64 628.26,130.14 628.6,130.56 628.95,130.87 629.35,131.27 629.81,131.63 630.24,131.88 630.72,132.16 631.22,132.43 631.73,132.64 632.24,132.85 632.76,133.05 633.29,133.22 633.82,133.4 634.35,133.56 634.87,133.72 635.38,133.89 635.88,134.06 636.37,134.24 636.84,134.43 637.3,134.63 637.73,134.86 638.14,135.1 638.52,135.35 638.89,135.64 639.22,135.97 639.51,136.29 639.77,136.62 640.02,137.04 640.21,137.45 640.35,137.83 640.46,138.26 640.55,138.72 640.58,139.16 640.57,139.6 640.54,140.06 640.48,140.53 640.39,141 640.28,141.49 640.15,141.99 640,142.49 639.83,143 639.65,143.51 639.46,144.03 639.26,144.55 639.07,145.07 638.87,145.59 638.68,146.11 638.49,146.62 638.32,147.13 638.16,147.63 638.01,148.13 637.89,148.62 637.79,149.09 637.71,149.56 637.66,150.01 637.64,150.46 637.64,150.89 637.68,151.3 637.76,151.71 637.86,152.1 638.01,152.47 638.18,152.83 638.39,153.18 638.64,153.51 638.91,153.83 639.22,154.13 639.56,154.42 639.93,154.7 640.32,154.97 640.49,155.07" fill="none" stroke="#ecbb90" stroke-width="1.8" stroke-linecap="round" stroke-linejoin="round"/><polyline points="649.16,35.91 649.35,36.31 649.5,36.7 649.62,37.09 649.7,37.46 649.75,37.83 649.77,38.23 649.74,38.63 649.68,39.03 649.59,39.43 649.46,39.83 649.29,40.23 649.1,40.64 648.87,41.05 648.62,41.47 648.34,41.88 648.04,42.3 647.72,42.71 647.38,43.13 647.03,43.55 646.67,43.96 646.31,44.38 645.94,44.8 645.57,45.21 645.21,45.63 644.85,46.04 644.51,46.45 644.18,46.87 643.86,47.27 643.57,47.67 643.3,48.07 643.06,48.48 642.85,48.88 642.66,49.29 642.51,49.69 642.4,50.09 642.32,50.46 642.27,50.83 642.26,51.23 642.29,51.63 642.35,52.03 642.45,52.43 642.58,52.83 642.75,53.19 642.95,53.55 643.17,53.95 643.43,54.35 643.71,54.76 644.01,55.16 644.34,55.57 644.68,55.95 645.03,56.34 645.38,56.75 645.75,57.17 646.11,57.58 646.48,58 646.85,58.42 647.2,58.87 647.52,59.32 647.84,59.75 648.13,60.18 648.41,60.61 648.66,61.05 648.88,61.58 649.04,62.09 649.18,62.52 649.29,62.94 649.37,63.36 649.4,63.85 649.36,64.37 649.3,64.8 649.21,65.19 649.08,65.57 648.91,65.99 648.68,66.44 648.42,66.84 648.14,67.18 647.82,67.51 647.48,67.84 647.09,68.2 646.67,68.53 646.24,68.82 645.8,69.09 645.34,69.37 644.86,69.65 644.36,69.91 643.87,70.16 643.37,70.41 642.87,70.65 642.38,70.89 641.89,71.13 641.41,71.38 640.95,71.63 640.5,71.88 640.08,72.14 639.68,72.41 639.29,72.69 638.94,72.98 638.61,73.29 638.32,73.61 638.06,73.95 637.83,74.29 637.64,74.64 637.47,75.04 637.34,75.46 637.26,75.86 637.22,76.27 637.2,76.7 637.2,77.19 637.26,77.67 637.35,78.12 637.47,78.58 637.62,79.07 637.79,79.56 637.98,80.05 638.2,80.53 638.43,81.02 638.67,81.51 638.92,82 639.17,82.5 639.42,82.99 639.67,83.49 639.92,83.98 640.15,84.47 640.37,84.96 640.57,85.44 640.76,85.91 640.92,86.38 641.06,86.84 641.18,87.29 641.26,87.73 641.32,88.16 641.34,88.58 641.33,88.99 641.29,89.38 641.21,89.77 641.09,90.15 640.94,90.52 640.76,90.86 640.55,91.21 640.29,91.55 640.01,91.88 639.7,92.19 639.36,92.5 639,92.81 638.61,93.12 638.2,93.41 637.77,93.7 637.33,94 636.87,94.29 636.41,94.58 635.94,94.87 635.47,95.17 635,95.47 634.54,95.77 634.08,96.09 633.64,96.4 633.21,96.71 632.8,97.03 632.42,97.37 632.06,97.7 631.72,98.04 631.42,98.38 631.14,98.75 630.9,99.12 630.69,99.48 630.52,99.86 630.38,100.25 630.29,100.66 630.23,101.06 630.21,101.46 630.22,101.87 630.27,102.31 630.35,102.75 630.47,103.18 630.62,103.61 630.8,104.06 631,104.52 631.23,104.97 631.49,105.43 631.76,105.88 632.04,106.35 632.34,106.81 632.65,107.27 632.96,107.73 633.28,108.19 633.59,108.64 633.9,109.1 634.2,109.55 634.48,110 634.75,110.43 635.01,110.87 635.24,111.31 635.45,111.74 635.63,112.15 635.78,112.56 635.9,112.98 635.99,113.39 636.05,113.8 636.06,114.21 636.04,114.61 635.99,115.01 635.89,115.41 635.75,115.81 635.59,116.19 635.38,116.56 635.15,116.93 634.88,117.29 634.58,117.66 634.25,118.01 633.91,118.35 633.54,118.7 633.15,119.05 632.75,119.39 632.34,119.73 631.92,120.09 631.49,120.44 631.06,120.8 630.64,121.17 630.23,121.53 629.83,121.91 629.44,122.32 629.08,122.72 628.73,123.1 628.41,123.56 628.13,124.02 627.88,124.42 627.66,124.88 627.48,125.39 627.35,125.85 627.26,126.28 627.21,126.82 627.23,127.35 627.27,127.74 627.36,128.26 627.53,128.81 627.73,129.23 627.96,129.64 628.26,130.14 628.6,130.56 628.95,130.87 629.35,131.27 629.81,131.63 630.24,131.88 630.72,132.16 631.22,132.43 631.73,132.64 632.24,132.85 632.76,133.05 633.29,133.22 633.82,133.4 634.35,133.56 634.87,133.72 635.38,133.89 635.88,134.06 636.37,134.24 636.84,134.43 637.3,134.63 637.73,134.86 638.14,135.1 638.52,135.35 638.89,135.64 639.22,135.97 639.51,136.29 639.77,136.62 640.02,137.04 640.21,137.45 640.35,137.83 640.46,138.26 640.55,138.72 640.58,139.16 640.57,139.6 640.54,140.06 640.48,140.53 640.39,141 640.28,141.49 640.15,141.99 640,142.49 639.83,143 639.65,143.51 639.46,144.03 639.26,144.55 639.07,145.07 638.87,145.59 638.68,146.11 638.49,146.62 638.32,147.13 638.16,147.63 638.01,148.13 637.89,148.62 637.79,149.09 637.71,149.56 637.66,150.01 637.64,150.46 637.64,150.89 637.68,151.3 637.76,151.71 637.86,152.1 638.01,152.47 638.18,152.83 638.39,153.18 638.64,153.51 638.91,153.83 639.22,154.13 639.56,154.42 639.93,154.7 640.32,154.97 640.49,155.07" fill="none" stroke="#f4d2b2" stroke-width="0.63" stroke-linecap="round" stroke-linejoin="round"/><circle cx="522.5" cy="38.2" r="2.15" fill="#b0c8ea" stroke="#94b2dc" stroke-width="0.35"/><circle cx="518.3" cy="44.6" r="2.15" fill="#b0c8ea" stroke="#94b2dc" stroke-width="0.35"/><circle cx="526.7" cy="44.6" r="2.15" fill="#b0c8ea" stroke="#94b2dc" stroke-width="0.35"/><circle cx="522.5" cy="42.5" r="2.7" fill="url(#gG)"/><circle cx="507" cy="67.1" r="2.15" fill="#b0c8ea" stroke="#94b2dc" stroke-width="0.35"/><circle cx="502.8" cy="73.5" r="2.15" fill="#b0c8ea" stroke="#94b2dc" stroke-width="0.35"/><circle cx="511.2" cy="73.5" r="2.15" fill="#b0c8ea" stroke="#94b2dc" stroke-width="0.35"/><circle cx="507" cy="71.4" r="2.7" fill="url(#gG)"/><circle cx="543" cy="76.7" r="2.15" fill="#b0c8ea" stroke="#94b2dc" stroke-width="0.35"/><circle cx="538.8" cy="83.1" r="2.15" fill="#b0c8ea" stroke="#94b2dc" stroke-width="0.35"/><circle cx="547.2" cy="83.1" r="2.15" fill="#b0c8ea" stroke="#94b2dc" stroke-width="0.35"/><circle cx="543" cy="81" r="2.7" fill="url(#gG)"/><circle cx="566.5" cy="58.7" r="2.15" fill="#b0c8ea" stroke="#94b2dc" stroke-width="0.35"/><circle cx="562.3" cy="65.1" r="2.15" fill="#b0c8ea" stroke="#94b2dc" stroke-width="0.35"/><circle cx="570.7" cy="65.1" r="2.15" fill="#b0c8ea" stroke="#94b2dc" stroke-width="0.35"/><circle cx="566.5" cy="63" r="2.7" fill="url(#gG)"/><circle cx="585" cy="39.5" r="2.15" fill="#b0c8ea" stroke="#94b2dc" stroke-width="0.35"/><circle cx="580.8" cy="45.9" r="2.15" fill="#b0c8ea" stroke="#94b2dc" stroke-width="0.35"/><circle cx="589.2" cy="45.9" r="2.15" fill="#b0c8ea" stroke="#94b2dc" stroke-width="0.35"/><circle cx="585" cy="43.8" r="2.7" fill="url(#gG)"/><circle cx="620.6" cy="49.4" r="2.15" fill="#b0c8ea" stroke="#94b2dc" stroke-width="0.35"/><circle cx="616.4" cy="55.8" r="2.15" fill="#b0c8ea" stroke="#94b2dc" stroke-width="0.35"/><circle cx="624.8" cy="55.8" r="2.15" fill="#b0c8ea" stroke="#94b2dc" stroke-width="0.35"/><circle cx="620.6" cy="53.7" r="2.7" fill="url(#gG)"/><circle cx="659.5" cy="51" r="2.15" fill="#b0c8ea" stroke="#94b2dc" stroke-width="0.35"/><circle cx="655.3" cy="57.4" r="2.15" fill="#b0c8ea" stroke="#94b2dc" stroke-width="0.35"/><circle cx="663.7" cy="57.4" r="2.15" fill="#b0c8ea" stroke="#94b2dc" stroke-width="0.35"/><circle cx="659.5" cy="55.3" r="2.7" fill="url(#gG)"/><circle cx="595.8" cy="71.6" r="2.15" fill="#b0c8ea" stroke="#94b2dc" stroke-width="0.35"/><circle cx="591.6" cy="78" r="2.15" fill="#b0c8ea" stroke="#94b2dc" stroke-width="0.35"/><circle cx="600" cy="78" r="2.15" fill="#b0c8ea" stroke="#94b2dc" stroke-width="0.35"/><circle cx="595.8" cy="75.9" r="2.7" fill="url(#gG)"/><circle cx="625.1" cy="83.2" r="2.15" fill="#b0c8ea" stroke="#94b2dc" stroke-width="0.35"/><circle cx="620.9" cy="89.6" r="2.15" fill="#b0c8ea" stroke="#94b2dc" stroke-width="0.35"/><circle cx="629.3" cy="89.6" r="2.15" fill="#b0c8ea" stroke="#94b2dc" stroke-width="0.35"/><circle cx="625.1" cy="87.5" r="2.7" fill="url(#gG)"/><circle cx="645.4" cy="81.2" r="2.15" fill="#b0c8ea" stroke="#94b2dc" stroke-width="0.35"/><circle cx="641.2" cy="87.6" r="2.15" fill="#b0c8ea" stroke="#94b2dc" stroke-width="0.35"/><circle cx="649.6" cy="87.6" r="2.15" fill="#b0c8ea" stroke="#94b2dc" stroke-width="0.35"/><circle cx="645.4" cy="85.5" r="2.7" fill="url(#gG)"/><circle cx="522.5" cy="103.7" r="2.15" fill="#b0c8ea" stroke="#94b2dc" stroke-width="0.35"/><circle cx="518.3" cy="110.1" r="2.15" fill="#b0c8ea" stroke="#94b2dc" stroke-width="0.35"/><circle cx="526.7" cy="110.1" r="2.15" fill="#b0c8ea" stroke="#94b2dc" stroke-width="0.35"/><circle cx="522.5" cy="108" r="2.7" fill="url(#gG)"/><circle cx="510.5" cy="128.6" r="2.15" fill="#b0c8ea" stroke="#94b2dc" stroke-width="0.35"/><circle cx="506.3" cy="135" r="2.15" fill="#b0c8ea" stroke="#94b2dc" stroke-width="0.35"/><circle cx="514.7" cy="135" r="2.15" fill="#b0c8ea" stroke="#94b2dc" stroke-width="0.35"/><circle cx="510.5" cy="132.9" r="2.7" fill="url(#gG)"/><circle cx="556.5" cy="128.8" r="2.15" fill="#b0c8ea" stroke="#94b2dc" stroke-width="0.35"/><circle cx="552.3" cy="135.2" r="2.15" fill="#b0c8ea" stroke="#94b2dc" stroke-width="0.35"/><circle cx="560.7" cy="135.2" r="2.15" fill="#b0c8ea" stroke="#94b2dc" stroke-width="0.35"/><circle cx="556.5" cy="133.1" r="2.7" fill="url(#gG)"/><circle cx="577.7" cy="98" r="2.15" fill="#b0c8ea" stroke="#94b2dc" stroke-width="0.35"/><circle cx="573.5" cy="104.4" r="2.15" fill="#b0c8ea" stroke="#94b2dc" stroke-width="0.35"/><circle cx="581.9" cy="104.4" r="2.15" fill="#b0c8ea" stroke="#94b2dc" stroke-width="0.35"/><circle cx="577.7" cy="102.3" r="2.7" fill="url(#gG)"/><circle cx="593.6" cy="119.2" r="2.15" fill="#b0c8ea" stroke="#94b2dc" stroke-width="0.35"/><circle cx="589.4" cy="125.6" r="2.15" fill="#b0c8ea" stroke="#94b2dc" stroke-width="0.35"/><circle cx="597.8" cy="125.6" r="2.15" fill="#b0c8ea" stroke="#94b2dc" stroke-width="0.35"/><circle cx="593.6" cy="123.5" r="2.7" fill="url(#gG)"/><circle cx="659.5" cy="116.2" r="2.15" fill="#b0c8ea" stroke="#94b2dc" stroke-width="0.35"/><circle cx="655.3" cy="122.6" r="2.15" fill="#b0c8ea" stroke="#94b2dc" stroke-width="0.35"/><circle cx="663.7" cy="122.6" r="2.15" fill="#b0c8ea" stroke="#94b2dc" stroke-width="0.35"/><circle cx="659.5" cy="120.5" r="2.7" fill="url(#gG)"/><circle cx="607.1" cy="135.9" r="2.15" fill="#b0c8ea" stroke="#94b2dc" stroke-width="0.35"/><circle cx="602.9" cy="142.3" r="2.15" fill="#b0c8ea" stroke="#94b2dc" stroke-width="0.35"/><circle cx="611.3" cy="142.3" r="2.15" fill="#b0c8ea" stroke="#94b2dc" stroke-width="0.35"/><circle cx="607.1" cy="140.2" r="2.7" fill="url(#gG)"/><circle cx="580.7" cy="57.9" r="6" fill="url(#gT)" stroke="#c99a3c" stroke-width="0.4"/><circle cx="521.8" cy="91.3" r="6" fill="url(#gT)" stroke="#c99a3c" stroke-width="0.4"/><circle cx="621.9" cy="83" r="6" fill="url(#gT)" stroke="#c99a3c" stroke-width="0.4"/><circle cx="570" cy="125.7" r="6" fill="url(#gT)" stroke="#c99a3c" stroke-width="0.4"/><circle cx="542.1" cy="43.1" r="4.9" fill="url(#gB)" stroke="#2a4a80" stroke-width="0.5"/><circle cx="536.2" cy="79.8" r="4.9" fill="url(#gB)" stroke="#2a4a80" stroke-width="0.5"/><circle cx="589.4" cy="70.4" r="4.9" fill="url(#gB)" stroke="#2a4a80" stroke-width="0.5"/><circle cx="645.9" cy="61.1" r="4.9" fill="url(#gB)" stroke="#2a4a80" stroke-width="0.5"/><circle cx="530.8" cy="132.5" r="4.9" fill="url(#gB)" stroke="#2a4a80" stroke-width="0.5"/><circle cx="580.3" cy="126.9" r="4.9" fill="url(#gB)" stroke="#2a4a80" stroke-width="0.5"/><circle cx="632.2" cy="113.2" r="4.9" fill="url(#gB)" stroke="#2a4a80" stroke-width="0.5"/><circle cx="564" cy="58.3" r="4.5" fill="#8d3a9c"/><text x="563.8" y="59.6" font-size="3.6" style="fill:#e9d3ee;stroke:none" text-anchor="middle" font-weight="bold">Na<tspan font-size="2.4" dy="-1.2">+</tspan></text><circle cx="527.6" cy="86.2" r="4.5" fill="#8d3a9c"/><text x="527.4" y="87.5" font-size="3.6" style="fill:#e9d3ee;stroke:none" text-anchor="middle" font-weight="bold">Na<tspan font-size="2.4" dy="-1.2">+</tspan></text><circle cx="618" cy="77.8" r="4.5" fill="#8d3a9c"/><text x="617.8" y="79.1" font-size="3.6" style="fill:#e9d3ee;stroke:none" text-anchor="middle" font-weight="bold">Na<tspan font-size="2.4" dy="-1.2">+</tspan></text><circle cx="557.8" cy="115.8" r="4.5" fill="#8d3a9c"/><text x="557.6" y="117.1" font-size="3.6" style="fill:#e9d3ee;stroke:none" text-anchor="middle" font-weight="bold">Na<tspan font-size="2.4" dy="-1.2">+</tspan></text><circle cx="649.3" cy="114.5" r="4.5" fill="#8d3a9c"/><text x="649.1" y="115.8" font-size="3.6" style="fill:#e9d3ee;stroke:none" text-anchor="middle" font-weight="bold">Na<tspan font-size="2.4" dy="-1.2">+</tspan></text><circle cx="516" cy="59.2" r="5.3" fill="#3f973f"/><text x="516" y="60.7" font-size="4.2" style="fill:#d5ecd5;stroke:none" text-anchor="middle" font-weight="bold">Cl<tspan font-size="2.6" dy="-1.4">&#8722;</tspan></text><circle cx="577.7" cy="86.8" r="5.3" fill="#3f973f"/><text x="577.7" y="88.3" font-size="4.2" style="fill:#d5ecd5;stroke:none" text-anchor="middle" font-weight="bold">Cl<tspan font-size="2.6" dy="-1.4">&#8722;</tspan></text><circle cx="661.1" cy="84" r="5.3" fill="#3f973f"/><text x="661.1" y="85.5" font-size="4.2" style="fill:#d5ecd5;stroke:none" text-anchor="middle" font-weight="bold">Cl<tspan font-size="2.6" dy="-1.4">&#8722;</tspan></text><circle cx="523.1" cy="130.5" r="5.3" fill="#3f973f"/><text x="523.1" y="132" font-size="4.2" style="fill:#d5ecd5;stroke:none" text-anchor="middle" font-weight="bold">Cl<tspan font-size="2.6" dy="-1.4">&#8722;</tspan></text><circle cx="604.6" cy="113.6" r="5.3" fill="#3f973f"/><text x="604.6" y="115.1" font-size="4.2" style="fill:#d5ecd5;stroke:none" text-anchor="middle" font-weight="bold">Cl<tspan font-size="2.6" dy="-1.4">&#8722;</tspan></text></g><rect x="39.3" y="38.7" width="170" height="113" rx="6" fill="none" stroke="#3f6ba5" stroke-width="1.3"/><rect x="269.5" y="38.7" width="169.8" height="113" rx="6" fill="none" stroke="#3f6ba5" stroke-width="1.3"/><rect x="502.2" y="38.7" width="170" height="113" rx="6" fill="none" stroke="#3f6ba5" stroke-width="1.3"/><text x="125.3" y="24.3" font-size="10" text-anchor="middle"><tspan font-weight="bold">H:</tspan> Gelatin, H<tspan font-size="7" dy="2.2">2</tspan><tspan dy="-2.2">O, Glycerol</tspan></text><text x="354.3" y="18.4" font-size="10" text-anchor="middle"><tspan font-weight="bold">GH:</tspan> Gelatin, H<tspan font-size="7" dy="2.2">2</tspan><tspan dy="-2.2">O, Glycerol,</tspan></text><text x="354" y="29.6" font-size="10" text-anchor="middle">Genipin</text><text x="587" y="18.4" font-size="10" text-anchor="middle"><tspan font-weight="bold">GHGNT:</tspan> Gelatin, Glycerol,</text><text x="586.5" y="29.6" font-size="10" text-anchor="middle">Genipin, NaCl, TA</text><text x="239" y="90.7" font-size="11.4" text-anchor="middle">Crosslink</text><line x1="217.5" y1="98.8" x2="257.5" y2="98.8" stroke="#1a1a1a" stroke-width="1"/><path d="M256.5,96.1 L261.5,98.8 L256.5,101.5 Z" fill="#1a1a1a"/><text x="470.2" y="89" font-size="11.4" text-anchor="middle">Solvent</text><line x1="448" y1="98.2" x2="488.5" y2="98.2" stroke="#1a1a1a" stroke-width="1"/><path d="M487.5,95.5 L492.5,98.2 L487.5,100.9 Z" fill="#1a1a1a"/><text x="470.2" y="115.9" font-size="11.4" text-anchor="middle">exchange</text><rect x="37.8" y="166" width="634.2" height="31.8" rx="3" fill="#eef6fb"/><polyline points="44.5,180.5 44.84,180.71 45.3,180.99 45.84,181.34 46.44,181.71 47.08,182.09 47.73,182.45 48.38,182.76 49,183 49.6,183.19 50.21,183.35 50.84,183.5 51.47,183.61 52.1,183.68 52.74,183.71 53.37,183.68 54,183.6 54.62,183.43 55.25,183.17 55.88,182.85 56.5,182.48 57.12,182.11 57.75,181.75 58.38,181.44 59,181.2 59.63,181 60.28,180.81 60.93,180.63 61.57,180.48 62.21,180.38 62.83,180.34 63.43,180.37 64,180.5 64.56,180.76 65.12,181.16 65.68,181.66 66.21,182.21 66.71,182.76 67.15,183.27 67.52,183.7 67.8,184" fill="none" stroke="#e3ab8b" stroke-width="2.0" stroke-linecap="round" stroke-linejoin="round"/><polyline points="44.5,180.5 44.84,180.71 45.3,180.99 45.84,181.34 46.44,181.71 47.08,182.09 47.73,182.45 48.38,182.76 49,183 49.6,183.19 50.21,183.35 50.84,183.5 51.47,183.61 52.1,183.68 52.74,183.71 53.37,183.68 54,183.6 54.62,183.43 55.25,183.17 55.88,182.85 56.5,182.48 57.12,182.11 57.75,181.75 58.38,181.44 59,181.2 59.63,181 60.28,180.81 60.93,180.63 61.57,180.48 62.21,180.38 62.83,180.34 63.43,180.37 64,180.5 64.56,180.76 65.12,181.16 65.68,181.66 66.21,182.21 66.71,182.76 67.15,183.27 67.52,183.7 67.8,184" fill="none" stroke="#f3cdb6" stroke-width="0.84" stroke-linecap="round" stroke-linejoin="round" stroke-dasharray="1.3 0.9"/><text x="75.4" y="185.6" font-size="10">Gelatin</text><polyline points="132.5,185.5 132.98,185.87 133.46,186.23 133.93,186.57 134.4,186.86 134.86,187.1 135.3,187.27 135.75,187.37 136.17,187.39 136.59,187.32 136.98,187.17 137.36,186.93 137.72,186.62 138.06,186.23 138.38,185.78 138.68,185.28 138.95,184.74 139.19,184.18 139.41,183.6 139.61,183.03 139.79,182.48 139.97,181.96 140.17,181.49 140.39,181.06 140.65,180.7 140.94,180.39 141.27,180.16 141.65,180 142.07,179.92 142.53,179.91 143.02,179.96 143.54,180.09 144.08,180.26 144.64,180.5 145.18,180.78 145.72,181.09 146.23,181.42 146.72,181.75 147.2,182.05 147.66,182.33 148.11,182.55 148.52,182.72 148.91,182.83 149.28,182.86 149.63,182.83 149.98,182.71 150.31,182.52 150.64,182.26 150.96,181.93 151.3,181.56 151.65,181.13 152.01,180.69 152.4,180.23 152.81,179.77 153.24,179.33 153.7,178.92 154.18,178.57 154.66,178.28 155.14,178.06 155.6,177.91 156.06,177.85 156.49,177.87 156.9,177.98 157.3,178.18 157.66,178.45 158.01,178.79 158.33,179.2 158.63,179.67 158.92,180.17 159.2,180.71 159.47,181.25 159.75,181.8 160.04,182.33 160.24,182.66" fill="none" stroke="#d0977b" stroke-width="1.3" stroke-linecap="round" stroke-linejoin="round"/><polyline points="132.5,185.5 132.98,185.87 133.46,186.23 133.93,186.57 134.4,186.86 134.86,187.1 135.3,187.27 135.75,187.37 136.17,187.39 136.59,187.32 136.98,187.17 137.36,186.93 137.72,186.62 138.06,186.23 138.38,185.78 138.68,185.28 138.95,184.74 139.19,184.18 139.41,183.6 139.61,183.03 139.79,182.48 139.97,181.96 140.17,181.49 140.39,181.06 140.65,180.7 140.94,180.39 141.27,180.16 141.65,180 142.07,179.92 142.53,179.91 143.02,179.96 143.54,180.09 144.08,180.26 144.64,180.5 145.18,180.78 145.72,181.09 146.23,181.42 146.72,181.75 147.2,182.05 147.66,182.33 148.11,182.55 148.52,182.72 148.91,182.83 149.28,182.86 149.63,182.83 149.98,182.71 150.31,182.52 150.64,182.26 150.96,181.93 151.3,181.56 151.65,181.13 152.01,180.69 152.4,180.23 152.81,179.77 153.24,179.33 153.7,178.92 154.18,178.57 154.66,178.28 155.14,178.06 155.6,177.91 156.06,177.85 156.49,177.87 156.9,177.98 157.3,178.18 157.66,178.45 158.01,178.79 158.33,179.2 158.63,179.67 158.92,180.17 159.2,180.71 159.47,181.25 159.75,181.8 160.04,182.33 160.24,182.66" fill="none" stroke="#dfae95" stroke-width="0.45499999999999996" stroke-linecap="round" stroke-linejoin="round"/><polyline points="132.97,187.7 133.29,187.36 133.6,186.96 133.92,186.5 134.23,186.01 134.54,185.49 134.84,184.95 135.14,184.42 135.43,183.9 135.73,183.42 136.03,182.97 136.33,182.58 136.63,182.25 136.95,182 137.28,181.82 137.62,181.71 137.97,181.68 138.35,181.73 138.74,181.83 139.18,181.98 139.66,182.17 140.17,182.39 140.7,182.63 141.26,182.88 141.82,183.13 142.38,183.36 142.93,183.58 143.46,183.76 143.95,183.9 144.42,183.99 144.84,184.02 145.23,184 145.57,183.91 145.87,183.75 146.14,183.52 146.39,183.24 146.65,182.88 146.91,182.46 147.19,181.99 147.46,181.48 147.73,180.95 148.02,180.41 148.32,179.88 148.64,179.36 148.99,178.88 149.35,178.45 149.75,178.08 150.15,177.79 150.59,177.57 151.03,177.45 151.49,177.42 151.95,177.48 152.4,177.63 152.86,177.87 153.31,178.19 153.73,178.58 154.12,179.03 154.48,179.53 154.81,180.04 155.13,180.57 155.43,181.09 155.73,181.59 156.02,182.05 156.32,182.47 156.64,182.83 156.96,183.12 157.31,183.34 157.67,183.48 158.07,183.55 158.48,183.53 158.92,183.44 159.39,183.28 159.87,183.05 160.19,182.87" fill="none" stroke="#e8984f" stroke-width="1.3" stroke-linecap="round" stroke-linejoin="round"/><polyline points="132.97,187.7 133.29,187.36 133.6,186.96 133.92,186.5 134.23,186.01 134.54,185.49 134.84,184.95 135.14,184.42 135.43,183.9 135.73,183.42 136.03,182.97 136.33,182.58 136.63,182.25 136.95,182 137.28,181.82 137.62,181.71 137.97,181.68 138.35,181.73 138.74,181.83 139.18,181.98 139.66,182.17 140.17,182.39 140.7,182.63 141.26,182.88 141.82,183.13 142.38,183.36 142.93,183.58 143.46,183.76 143.95,183.9 144.42,183.99 144.84,184.02 145.23,184 145.57,183.91 145.87,183.75 146.14,183.52 146.39,183.24 146.65,182.88 146.91,182.46 147.19,181.99 147.46,181.48 147.73,180.95 148.02,180.41 148.32,179.88 148.64,179.36 148.99,178.88 149.35,178.45 149.75,178.08 150.15,177.79 150.59,177.57 151.03,177.45 151.49,177.42 151.95,177.48 152.4,177.63 152.86,177.87 153.31,178.19 153.73,178.58 154.12,179.03 154.48,179.53 154.81,180.04 155.13,180.57 155.43,181.09 155.73,181.59 156.02,182.05 156.32,182.47 156.64,182.83 156.96,183.12 157.31,183.34 157.67,183.48 158.07,183.55 158.48,183.53 158.92,183.44 159.39,183.28 159.87,183.05 160.19,182.87" fill="none" stroke="#f0b273" stroke-width="0.45499999999999996" stroke-linecap="round" stroke-linejoin="round"/><polyline points="132.03,183.3 132.4,183.02 132.79,182.82 133.18,182.71 133.58,182.68 133.99,182.73 134.42,182.86 134.85,183.06 135.31,183.31 135.77,183.62 136.25,183.95 136.74,184.31 137.23,184.66 137.74,185.01 138.25,185.33 138.77,185.61 139.29,185.82 139.81,185.97 140.33,186.03 140.81,186.01 141.26,185.9 141.66,185.72 142.01,185.46 142.32,185.12 142.59,184.72 142.82,184.27 143.02,183.76 143.2,183.21 143.36,182.64 143.52,182.05 143.69,181.46 143.89,180.88 144.11,180.33 144.37,179.81 144.68,179.34 145.04,178.94 145.41,178.62 145.81,178.39 146.22,178.25 146.65,178.19 147.1,178.22 147.57,178.32 148.05,178.51 148.54,178.76 149.02,179.08 149.5,179.44 149.97,179.84 150.42,180.25 150.85,180.67 151.27,181.09 151.66,181.47 152.04,181.82 152.4,182.12 152.73,182.35 153.05,182.53 153.37,182.63 153.69,182.65 154.04,182.61 154.41,182.49 154.82,182.32 155.24,182.08 155.69,181.79 156.15,181.47 156.63,181.12 157.12,180.75 157.62,180.39 158.12,180.05 158.61,179.73 159.1,179.46 159.57,179.24 160.02,179.07 160.43,178.97 160.82,178.94 161.07,178.97" fill="none" stroke="#ecbb90" stroke-width="1.3" stroke-linecap="round" stroke-linejoin="round"/><polyline points="132.03,183.3 132.4,183.02 132.79,182.82 133.18,182.71 133.58,182.68 133.99,182.73 134.42,182.86 134.85,183.06 135.31,183.31 135.77,183.62 136.25,183.95 136.74,184.31 137.23,184.66 137.74,185.01 138.25,185.33 138.77,185.61 139.29,185.82 139.81,185.97 140.33,186.03 140.81,186.01 141.26,185.9 141.66,185.72 142.01,185.46 142.32,185.12 142.59,184.72 142.82,184.27 143.02,183.76 143.2,183.21 143.36,182.64 143.52,182.05 143.69,181.46 143.89,180.88 144.11,180.33 144.37,179.81 144.68,179.34 145.04,178.94 145.41,178.62 145.81,178.39 146.22,178.25 146.65,178.19 147.1,178.22 147.57,178.32 148.05,178.51 148.54,178.76 149.02,179.08 149.5,179.44 149.97,179.84 150.42,180.25 150.85,180.67 151.27,181.09 151.66,181.47 152.04,181.82 152.4,182.12 152.73,182.35 153.05,182.53 153.37,182.63 153.69,182.65 154.04,182.61 154.41,182.49 154.82,182.32 155.24,182.08 155.69,181.79 156.15,181.47 156.63,181.12 157.12,180.75 157.62,180.39 158.12,180.05 158.61,179.73 159.1,179.46 159.57,179.24 160.02,179.07 160.43,178.97 160.82,178.94 161.07,178.97" fill="none" stroke="#f4d2b2" stroke-width="0.45499999999999996" stroke-linecap="round" stroke-linejoin="round"/><text x="169.2" y="185.6" font-size="10">Gelatin triple helix</text><circle cx="275.8" cy="183.3" r="1.95" fill="#dedede" stroke="#bcbcbc" stroke-width="0.4"/><circle cx="284.4" cy="183.3" r="1.95" fill="#dedede" stroke="#bcbcbc" stroke-width="0.4"/><circle cx="280.1" cy="181.4" r="2.95" fill="url(#gO)"/><circle cx="280.1" cy="181.4" r="1.15" fill="none" stroke="#f3b0a8" stroke-width="0.45"/><text x="295.2" y="185.6" font-size="10">H<tspan font-size="7" dy="2.2">2</tspan><tspan dy="-2.2">O</tspan></text><circle cx="341" cy="178.27" r="2.37" fill="#b0c8ea" stroke="#94b2dc" stroke-width="0.35"/><circle cx="336.38" cy="185.31" r="2.37" fill="#b0c8ea" stroke="#94b2dc" stroke-width="0.35"/><circle cx="345.62" cy="185.31" r="2.37" fill="#b0c8ea" stroke="#94b2dc" stroke-width="0.35"/><circle cx="341" cy="183" r="2.97" fill="url(#gG)"/><text x="354.8" y="185.6" font-size="10">Glycerol</text><circle cx="419.6" cy="181.8" r="5.6" fill="url(#gB)" stroke="#2a4a80" stroke-width="0.5"/><text x="431.2" y="185.6" font-size="10">Covalent bond</text><circle cx="526.7" cy="181.8" r="6.6" fill="url(#gT)" stroke="#c99a3c" stroke-width="0.4"/><text x="540.3" y="185.6" font-size="10">Tannic acid</text><circle cx="617.5" cy="181.8" r="4.6" fill="#8d3a9c"/><text x="617.3" y="183.1" font-size="3.6" style="fill:#e9d3ee;stroke:none" text-anchor="middle" font-weight="bold">Na<tspan font-size="2.4" dy="-1.2">+</tspan></text><circle cx="627.6" cy="181.8" r="5.3" fill="#3f973f"/><text x="627.6" y="183.3" font-size="4.2" style="fill:#d5ecd5;stroke:none" text-anchor="middle" font-weight="bold">Cl<tspan font-size="2.6" dy="-1.4">&#8722;</tspan></text><text x="639.6" y="185.6" font-size="10">NaCl</text>
<polyline points="40,266.5 41.63,266.61 43.89,266.76 46.56,266.94 49.44,267.15 52.33,267.37 55,267.6 57.44,267.83 59.81,268.07 62.19,268.33 64.63,268.61 67.21,268.93 70,269.3 73.16,269.74 76.67,270.26 80.31,270.81 83.89,271.36 87.19,271.87 90,272.3 92.23,272.63 94.01,272.89 95.52,273.11 96.91,273.32 98.35,273.57 100,273.9 101.85,274.29 103.77,274.7 105.74,275.16 107.74,275.65 109.73,276.2 111.7,276.8 113.68,277.47 115.71,278.2 117.74,278.99 119.72,279.81 121.62,280.65 123.4,281.5 125.01,282.34 126.49,283.18 127.89,284.04 129.25,284.95 130.64,285.93 132.1,287 133.66,288.13 135.27,289.3 136.91,290.54 138.54,291.88 140.11,293.35 141.6,295 143,296.79 144.34,298.7 145.64,300.74 146.89,302.94 148.11,305.32 149.3,307.9 150.47,310.75 151.61,313.86 152.71,317.15 153.78,320.53 154.81,323.91 155.8,327.2 156.76,330.5 157.7,333.9 158.61,337.31 159.45,340.61 160.22,343.71 160.9,346.5 161.47,348.96 161.94,351.16 162.34,353.15 162.68,355 162.99,356.76 163.3,358.5 163.6,360.27 163.86,362.03 164.1,363.7 164.3,365.21 164.47,366.47 164.6,367.4 164.6,367.4 164.73,366.74 164.92,365.95 165.14,364.95 165.38,363.67 165.6,362.05 165.8,360 165.97,357.45 166.11,354.45 166.26,351.1 166.4,347.5 166.54,343.77 166.7,340 166.87,336.03 167.06,331.74 167.24,327.31 167.43,322.93 167.62,318.76 167.8,315 167.97,311.66 168.13,308.59 168.28,305.75 168.44,303.07 168.61,300.51 168.8,298 169.01,295.5 169.22,293.04 169.45,290.69 169.69,288.52 169.94,286.6 170.2,285 170.46,283.78 170.73,282.9 171,282.28 171.3,281.81 171.63,281.41 172,281 172.29,280.6 172.47,280.29 172.68,280.04 173.07,279.86 173.79,279.72 175,279.6 176.73,279.53 178.87,279.51 181.34,279.53 184.07,279.58 186.98,279.64 190,279.7 193.47,279.77 197.51,279.86 201.74,279.96 205.76,280.06 209.17,280.14 211.6,280.2" fill="none" stroke="#939393" stroke-width="1.45" stroke-linejoin="round" stroke-linecap="round"/>
<polyline points="40,266.5 40.44,266.65 41.04,266.86 41.75,267.11 42.52,267.38 43.29,267.65 44,267.9 44.63,268.13 45.22,268.37 45.81,268.61 46.44,268.84 47.16,269.07 48,269.3 48.97,269.52 50.04,269.74 51.19,269.96 52.41,270.18 53.68,270.39 55,270.6 56.36,270.8 57.78,271 59.25,271.19 60.78,271.39 62.36,271.59 64,271.8 65.67,272.01 67.37,272.21 69.12,272.43 70.96,272.65 72.91,272.91 75,273.2 77.33,273.54 79.89,273.9 82.56,274.3 85.22,274.72 87.74,275.15 90,275.6 91.94,276.06 93.64,276.53 95.21,277.01 96.73,277.52 98.29,278.05 100,278.6 101.92,279.19 103.99,279.82 106.11,280.47 108.17,281.13 110.07,281.77 111.7,282.4 113.01,283 114.07,283.58 114.96,284.16 115.78,284.73 116.6,285.31 117.5,285.9 118.49,286.49 119.51,287.06 120.52,287.64 121.53,288.25 122.49,288.89 123.4,289.6 124.24,290.36 125.01,291.17 125.76,292.03 126.49,292.91 127.23,293.84 128,294.8 128.81,295.8 129.63,296.84 130.47,297.92 131.31,299.03 132.16,300.16 133,301.3 133.9,302.55 134.88,303.94 135.86,305.36 136.77,306.68 137.54,307.8 138.1,308.6 138.1,308.6 138.25,307.74 138.46,306.61 138.71,305.24 138.97,303.66 139.24,301.9 139.5,300 139.74,297.78 139.99,295.18 140.24,292.4 140.49,289.64 140.74,287.11 141,285 141.25,283.32 141.5,281.9 141.74,280.71 142,279.7 142.29,278.81 142.6,278 142.92,277.31 143.24,276.79 143.59,276.39 143.98,276.08 144.44,275.83 145,275.6 145.28,275.4 145.18,275.26 145.15,275.18 145.64,275.15 147.11,275.16 150,275.2 154.85,275.3 161.42,275.47 168.96,275.68 176.73,275.91 183.99,276.12 190,276.3 194.91,276.45 199.36,276.59 203.3,276.72 206.68,276.83 209.46,276.93 211.6,277" fill="none" stroke="#333333" stroke-width="1.55" stroke-linejoin="round" stroke-linecap="round"/>
<polyline points="40,266.6 211.6,269" fill="none" stroke="#ec4343" stroke-width="1.4" stroke-linejoin="round" stroke-linecap="round"/>
<rect x="39.8" y="237.3" width="171.8" height="136.5" fill="none" stroke="#1a1a1a" stroke-width="1.3"/>
<line x1="39.8" y1="373.8" x2="39.8" y2="371.3" stroke="#1a1a1a" stroke-width="1"/>
<text x="39.8" y="384.1" font-size="10" text-anchor="middle">-80</text>
<line x1="56.98" y1="373.8" x2="56.98" y2="372.3" stroke="#1a1a1a" stroke-width="1"/>
<line x1="74.16" y1="373.8" x2="74.16" y2="371.3" stroke="#1a1a1a" stroke-width="1"/>
<text x="74.16" y="384.1" font-size="10" text-anchor="middle">-60</text>
<line x1="91.34" y1="373.8" x2="91.34" y2="372.3" stroke="#1a1a1a" stroke-width="1"/>
<line x1="108.52" y1="373.8" x2="108.52" y2="371.3" stroke="#1a1a1a" stroke-width="1"/>
<text x="108.52" y="384.1" font-size="10" text-anchor="middle">-40</text>
<line x1="125.7" y1="373.8" x2="125.7" y2="372.3" stroke="#1a1a1a" stroke-width="1"/>
<line x1="142.88" y1="373.8" x2="142.88" y2="371.3" stroke="#1a1a1a" stroke-width="1"/>
<text x="142.88" y="384.1" font-size="10" text-anchor="middle">-20</text>
<line x1="160.06" y1="373.8" x2="160.06" y2="372.3" stroke="#1a1a1a" stroke-width="1"/>
<line x1="177.24" y1="373.8" x2="177.24" y2="371.3" stroke="#1a1a1a" stroke-width="1"/>
<text x="177.24" y="384.1" font-size="10" text-anchor="middle">0</text>
<line x1="194.42" y1="373.8" x2="194.42" y2="372.3" stroke="#1a1a1a" stroke-width="1"/>
<line x1="211.6" y1="373.8" x2="211.6" y2="371.3" stroke="#1a1a1a" stroke-width="1"/>
<text x="211.6" y="384.1" font-size="10" text-anchor="middle">20</text>
<line x1="39.8" y1="237.3" x2="42.3" y2="237.3" stroke="#1a1a1a" stroke-width="1"/>
<text x="37.5" y="240.8" font-size="10" text-anchor="end">0.3</text>
<line x1="39.8" y1="251.9" x2="41.3" y2="251.9" stroke="#1a1a1a" stroke-width="1"/>
<line x1="39.8" y1="266.5" x2="42.3" y2="266.5" stroke="#1a1a1a" stroke-width="1"/>
<text x="37.5" y="270" font-size="10" text-anchor="end">0.0</text>
<line x1="39.8" y1="281.1" x2="41.3" y2="281.1" stroke="#1a1a1a" stroke-width="1"/>
<line x1="39.8" y1="295.7" x2="42.3" y2="295.7" stroke="#1a1a1a" stroke-width="1"/>
<text x="37.5" y="299.2" font-size="10" text-anchor="end">-0.3</text>
<line x1="39.8" y1="310.3" x2="41.3" y2="310.3" stroke="#1a1a1a" stroke-width="1"/>
<line x1="39.8" y1="324.9" x2="42.3" y2="324.9" stroke="#1a1a1a" stroke-width="1"/>
<text x="37.5" y="328.4" font-size="10" text-anchor="end">-0.6</text>
<line x1="39.8" y1="339.5" x2="41.3" y2="339.5" stroke="#1a1a1a" stroke-width="1"/>
<line x1="39.8" y1="354.1" x2="42.3" y2="354.1" stroke="#1a1a1a" stroke-width="1"/>
<text x="37.5" y="357.6" font-size="10" text-anchor="end">-0.9</text>
<line x1="39.8" y1="368.7" x2="41.3" y2="368.7" stroke="#1a1a1a" stroke-width="1"/>
<text x="125.7" y="398.2" font-size="10" text-anchor="middle">Temperature (<tspan font-size="7" dy="-3">o</tspan><tspan dy="3">C)</tspan></text>
<g transform="translate(15.8,298.5) rotate(-90)">
<text x="0" y="0" font-size="10" text-anchor="middle">Heat flow endo. (W g<tspan font-size="7" dy="-3.5">&#8722;1</tspan><tspan dy="3.5">)</tspan></text>
</g>
<line x1="10.5" y1="355.8" x2="10.5" y2="368" stroke="#1a1a1a" stroke-width="1.1"/>
<path d="M7.6,366.3 L13.4,366.3 L10.5,373.3 Z" fill="#1a1a1a"/>
<line x1="46" y1="338.6" x2="55.1" y2="338.6" stroke="#a0a0a0" stroke-width="1.6"/>
<text x="59.5" y="341.9" font-size="9.8">H</text>
<line x1="46" y1="350.7" x2="55.1" y2="350.7" stroke="#444444" stroke-width="1.6"/>
<text x="59.5" y="354" font-size="9.8">GH</text>
<line x1="46" y1="362.6" x2="55.1" y2="362.6" stroke="#ec4343" stroke-width="1.6"/>
<text x="59.5" y="365.9" font-size="9.8">GHGNT</text>
<polyline points="278.5,256.6 279.48,257.61 280.88,258.98 282.46,261.01 284,264 285.5,268.35 287.06,273.79 288.59,279.61 290,285.1 291.25,290.11 292.39,294.99 293.49,299.84 294.6,304.7 295.77,309.79 296.95,315.02 298.08,319.98 299.1,324.3 299.92,327.92 300.6,331.04 301.28,333.61 302.1,335.6 303.1,336.83 304.2,337.38 305.38,337.58 306.6,337.8 307.59,338.03 308.46,338.11 309.74,338.17 312,338.3 315.33,338.52 319.46,338.78 324.36,339.09 330,339.5 336.75,340 344.49,340.58 352.49,341.25 360,342 366.94,342.89 373.66,343.89 380.1,344.93 386.2,345.9 391.91,346.83 397.28,347.75 402.38,348.6 407.3,349.3 412.03,349.83 416.53,350.23 420.84,350.53 425,350.8 429.29,351.03 433.61,351.19 437.37,351.31 440,351.4" fill="none" stroke="#939393" stroke-width="1.45" stroke-linejoin="round" stroke-linecap="round"/>
<polyline points="278.5,256.6 279.25,257.17 280.31,257.96 281.59,259.04 283,260.5 284.56,262.24 286.31,264.26 288.15,266.78 290,270 291.86,274.21 293.77,279.23 295.69,284.55 297.6,289.7 299.52,294.69 301.45,299.74 303.33,304.64 305.1,309.2 306.74,313.43 308.28,317.41 309.73,321.06 311.1,324.3 312.32,327.1 313.4,329.51 314.48,331.56 315.7,333.3 317.05,334.68 318.47,335.69 320.01,336.45 321.7,337.1 323.46,337.59 325.29,337.88 327.4,338.07 330,338.3 333.16,338.55 336.76,338.78 340.73,339.02 345,339.3 349.67,339.6 354.73,339.91 359.97,340.29 365.2,340.8 370.39,341.5 375.64,342.35 380.92,343.25 386.2,344.1 391.55,344.92 396.96,345.76 402.26,346.54 407.3,347.2 412.03,347.72 416.53,348.14 420.84,348.49 425,348.8 429.29,349.08 433.61,349.3 437.37,349.48 440,349.6" fill="none" stroke="#333333" stroke-width="1.55" stroke-linejoin="round" stroke-linecap="round"/>
<polyline points="278.5,256.6 282.39,256.72 287.97,256.88 294.19,257.08 300,257.3 305.45,257.55 311,257.83 316.17,258.12 320.5,258.4 323.6,258.61 325.8,258.79 327.73,259.02 330,259.4 332.91,259.96 336.07,260.66 339.13,261.45 341.7,262.3 343.59,263.21 345.02,264.2 346.27,265.26 347.6,266.4 349.05,267.63 350.5,268.94 351.95,270.31 353.4,271.7 354.91,273.14 356.46,274.64 357.95,276.12 359.3,277.5 360.55,278.86 361.72,280.21 362.71,281.38 363.4,282.2 363.4,282.2 363.61,282.65 363.88,283.23 364.34,284.31 365.1,286.3 366.27,289.51 367.76,293.68 369.39,298.25 371,302.7 372.64,307.2 374.37,311.94 376.02,316.38 377.4,320 378.4,322.52 379.13,324.27 379.77,325.63 380.5,327 381.34,328.43 382.19,329.72 383.08,330.9 384,332 384.94,333.01 385.91,333.92 386.92,334.74 388,335.5 389.15,336.17 390.35,336.76 391.63,337.3 393,337.8 394.28,338.22 395.53,338.56 397.11,338.94 399.4,339.5 402.74,340.34 406.84,341.36 411.15,342.41 415.1,343.3 418.54,343.99 421.78,344.58 424.9,345.1 428,345.6 431.34,346.13 434.81,346.64 437.86,347.09 440,347.4" fill="none" stroke="#ec4343" stroke-width="1.4" stroke-linejoin="round" stroke-linecap="round"/>
<rect x="268.2" y="237.3" width="172.2" height="136.5" fill="none" stroke="#1a1a1a" stroke-width="1.3"/>
<line x1="268.2" y1="373.8" x2="268.2" y2="371.3" stroke="#1a1a1a" stroke-width="1"/>
<text x="268.2" y="384.1" font-size="10" text-anchor="middle">0</text>
<line x1="289.72" y1="373.8" x2="289.72" y2="372.3" stroke="#1a1a1a" stroke-width="1"/>
<line x1="311.25" y1="373.8" x2="311.25" y2="371.3" stroke="#1a1a1a" stroke-width="1"/>
<text x="311.25" y="384.1" font-size="10" text-anchor="middle">100</text>
<line x1="332.77" y1="373.8" x2="332.77" y2="372.3" stroke="#1a1a1a" stroke-width="1"/>
<line x1="354.3" y1="373.8" x2="354.3" y2="371.3" stroke="#1a1a1a" stroke-width="1"/>
<text x="354.3" y="384.1" font-size="10" text-anchor="middle">200</text>
<line x1="375.82" y1="373.8" x2="375.82" y2="372.3" stroke="#1a1a1a" stroke-width="1"/>
<line x1="397.35" y1="373.8" x2="397.35" y2="371.3" stroke="#1a1a1a" stroke-width="1"/>
<text x="397.35" y="384.1" font-size="10" text-anchor="middle">300</text>
<line x1="418.88" y1="373.8" x2="418.88" y2="372.3" stroke="#1a1a1a" stroke-width="1"/>
<line x1="440.4" y1="373.8" x2="440.4" y2="371.3" stroke="#1a1a1a" stroke-width="1"/>
<text x="440.4" y="384.1" font-size="10" text-anchor="middle">400</text>
<line x1="268.2" y1="368.6" x2="269.7" y2="368.6" stroke="#1a1a1a" stroke-width="1"/>
<line x1="268.2" y1="354" x2="270.7" y2="354" stroke="#1a1a1a" stroke-width="1"/>
<text x="265.9" y="357.5" font-size="10" text-anchor="end">0</text>
<line x1="268.2" y1="339.4" x2="269.7" y2="339.4" stroke="#1a1a1a" stroke-width="1"/>
<line x1="268.2" y1="324.8" x2="270.7" y2="324.8" stroke="#1a1a1a" stroke-width="1"/>
<text x="265.9" y="328.3" font-size="10" text-anchor="end">30</text>
<line x1="268.2" y1="310.19" x2="269.7" y2="310.19" stroke="#1a1a1a" stroke-width="1"/>
<line x1="268.2" y1="295.59" x2="270.7" y2="295.59" stroke="#1a1a1a" stroke-width="1"/>
<text x="265.9" y="299.09" font-size="10" text-anchor="end">60</text>
<line x1="268.2" y1="280.99" x2="269.7" y2="280.99" stroke="#1a1a1a" stroke-width="1"/>
<line x1="268.2" y1="266.38" x2="270.7" y2="266.38" stroke="#1a1a1a" stroke-width="1"/>
<text x="265.9" y="269.88" font-size="10" text-anchor="end">90</text>
<line x1="268.2" y1="251.78" x2="269.7" y2="251.78" stroke="#1a1a1a" stroke-width="1"/>
<line x1="268.2" y1="237.18" x2="270.7" y2="237.18" stroke="#1a1a1a" stroke-width="1"/>
<text x="265.9" y="240.68" font-size="10" text-anchor="end">120</text>
<text x="354.3" y="398.2" font-size="10" text-anchor="middle">Temperature (<tspan font-size="7" dy="-3">o</tspan><tspan dy="3">C)</tspan></text>
<g transform="translate(249.4,297.2) rotate(-90)">
<text x="0" y="0" font-size="10" text-anchor="middle">Weight (%)</text>
</g>
<line x1="273.4" y1="338.5" x2="282.3" y2="338.5" stroke="#a0a0a0" stroke-width="1.6"/>
<text x="287.2" y="341.8" font-size="9.8">H</text>
<line x1="273.4" y1="350.8" x2="282.3" y2="350.8" stroke="#444444" stroke-width="1.6"/>
<text x="287.2" y="354.1" font-size="9.8">GH</text>
<line x1="273.4" y1="362.8" x2="282.3" y2="362.8" stroke="#ec4343" stroke-width="1.6"/>
<text x="287.2" y="366.1" font-size="9.8">GHGNT</text>
<rect x="511" y="284.16" width="17.2" height="88.94" fill="#fff" stroke="#ee4b4f" stroke-width="1.1"/>
<line x1="519.6" y1="283.25" x2="519.6" y2="285.06" stroke="#ee4b4f" stroke-width="0.9"/>
<line x1="517.1" y1="283.25" x2="522.1" y2="283.25" stroke="#ee4b4f" stroke-width="0.9"/>
<line x1="517.1" y1="285.06" x2="522.1" y2="285.06" stroke="#ee4b4f" stroke-width="0.9"/>
<circle cx="516.2" cy="283.62" r="1.8" fill="#fff" stroke="#ee4b4f" stroke-width="0.8"/>
<circle cx="519.4" cy="285.33" r="1.8" fill="#fff" stroke="#ee4b4f" stroke-width="0.8"/>
<circle cx="523" cy="282.8" r="1.8" fill="#fff" stroke="#ee4b4f" stroke-width="0.8"/>
<rect x="537.3" y="302.8" width="17.5" height="70.3" fill="#fff" stroke="#ee4b4f" stroke-width="1.1"/>
<line x1="546.05" y1="299.81" x2="546.05" y2="305.78" stroke="#ee4b4f" stroke-width="0.9"/>
<line x1="543.55" y1="299.81" x2="548.55" y2="299.81" stroke="#ee4b4f" stroke-width="0.9"/>
<line x1="543.55" y1="305.78" x2="548.55" y2="305.78" stroke="#ee4b4f" stroke-width="0.9"/>
<circle cx="547" cy="299.63" r="1.8" fill="#fff" stroke="#ee4b4f" stroke-width="0.8"/>
<circle cx="545.1" cy="302.52" r="1.8" fill="#fff" stroke="#ee4b4f" stroke-width="0.8"/>
<circle cx="546.4" cy="305.69" r="1.8" fill="#fff" stroke="#ee4b4f" stroke-width="0.8"/>
<rect x="564.5" y="286.42" width="17.1" height="86.68" fill="#fff" stroke="#ee4b4f" stroke-width="1.1"/>
<line x1="573.05" y1="285.97" x2="573.05" y2="286.87" stroke="#ee4b4f" stroke-width="0.9"/>
<line x1="570.55" y1="285.97" x2="575.55" y2="285.97" stroke="#ee4b4f" stroke-width="0.9"/>
<line x1="570.55" y1="286.87" x2="575.55" y2="286.87" stroke="#ee4b4f" stroke-width="0.9"/>
<circle cx="569.2" cy="286.24" r="1.8" fill="#fff" stroke="#ee4b4f" stroke-width="0.8"/>
<circle cx="573.2" cy="286.69" r="1.8" fill="#fff" stroke="#ee4b4f" stroke-width="0.8"/>
<circle cx="576.9" cy="286.06" r="1.8" fill="#fff" stroke="#ee4b4f" stroke-width="0.8"/>
<rect x="590.9" y="289.32" width="17.4" height="83.78" fill="#fff" stroke="#ee4b4f" stroke-width="1.1"/>
<line x1="599.6" y1="287.87" x2="599.6" y2="290.76" stroke="#ee4b4f" stroke-width="0.9"/>
<line x1="597.1" y1="287.87" x2="602.1" y2="287.87" stroke="#ee4b4f" stroke-width="0.9"/>
<line x1="597.1" y1="290.76" x2="602.1" y2="290.76" stroke="#ee4b4f" stroke-width="0.9"/>
<circle cx="596.5" cy="288.77" r="1.8" fill="#fff" stroke="#ee4b4f" stroke-width="0.8"/>
<circle cx="599.7" cy="290.85" r="1.8" fill="#fff" stroke="#ee4b4f" stroke-width="0.8"/>
<circle cx="601.8" cy="287.69" r="1.8" fill="#fff" stroke="#ee4b4f" stroke-width="0.8"/>
<rect x="644.4" y="349.7" width="17.1" height="23.4" fill="#fff" stroke="#444444" stroke-width="1.1"/>
<line x1="652.95" y1="346.4" x2="652.95" y2="353.01" stroke="#444444" stroke-width="0.9"/>
<line x1="650.45" y1="346.4" x2="655.45" y2="346.4" stroke="#444444" stroke-width="0.9"/>
<line x1="650.45" y1="353.01" x2="655.45" y2="353.01" stroke="#444444" stroke-width="0.9"/>
<circle cx="654.8" cy="346.85" r="1.8" fill="#fff" stroke="#444444" stroke-width="0.8"/>
<circle cx="652.8" cy="349.7" r="1.8" fill="#fff" stroke="#444444" stroke-width="0.8"/>
<circle cx="652.8" cy="353.37" r="1.8" fill="#fff" stroke="#444444" stroke-width="0.8"/>
<rect x="499.8" y="237.3" width="172.8" height="135.8" fill="none" stroke="#1a1a1a" stroke-width="1.3"/>
<line x1="499.8" y1="373" x2="502.3" y2="373" stroke="#1a1a1a" stroke-width="1"/>
<text x="497.2" y="376.4" font-size="9.7" text-anchor="end">0</text>
<line x1="499.8" y1="350.38" x2="502.3" y2="350.38" stroke="#1a1a1a" stroke-width="1"/>
<text x="497.2" y="353.78" font-size="9.7" text-anchor="end">25</text>
<line x1="499.8" y1="327.76" x2="502.3" y2="327.76" stroke="#1a1a1a" stroke-width="1"/>
<text x="497.2" y="331.16" font-size="9.7" text-anchor="end">50</text>
<line x1="499.8" y1="305.15" x2="502.3" y2="305.15" stroke="#1a1a1a" stroke-width="1"/>
<text x="497.2" y="308.55" font-size="9.7" text-anchor="end">75</text>
<line x1="499.8" y1="282.53" x2="502.3" y2="282.53" stroke="#1a1a1a" stroke-width="1"/>
<text x="497.2" y="285.93" font-size="9.7" text-anchor="end">100</text>
<line x1="499.8" y1="361.69" x2="501.3" y2="361.69" stroke="#1a1a1a" stroke-width="1"/>
<line x1="499.8" y1="339.07" x2="501.3" y2="339.07" stroke="#1a1a1a" stroke-width="1"/>
<line x1="499.8" y1="316.46" x2="501.3" y2="316.46" stroke="#1a1a1a" stroke-width="1"/>
<line x1="499.8" y1="293.84" x2="501.3" y2="293.84" stroke="#1a1a1a" stroke-width="1"/>
<path d="M517.8,278.2 Q519,274.3 523,274.3 L554.5,274.3 Q558.2,274.3 558.7,271.2 Q559.2,274.3 563,274.3 L594.5,274.3 Q598.5,274.3 599.8,278.2" fill="none" stroke="#ee4b4f" stroke-width="0.7"/>
<text x="559.6" y="250.8" font-size="10" text-anchor="middle">Organohydrogel nanofilm</text>
<text x="559.6" y="264.3" font-size="10" text-anchor="middle">day 30</text>
<text x="649.2" y="324.6" font-size="9.8" text-anchor="middle">PU<tspan font-size="6.5" dy="2.5">0.1</tspan><tspan dy="-2.5">-GH</tspan></text>
<text x="648.5" y="337.6" font-size="9.8" text-anchor="middle">day 1</text>
<g transform="translate(518.7,393.5) rotate(-45)">
<text x="0" y="0" font-size="9.6" text-anchor="middle">-80 &#176;C</text>
</g>
<g transform="translate(545.1,393.5) rotate(-45)">
<text x="0" y="0" font-size="9.6" text-anchor="middle">150 &#176;C</text>
</g>
<g transform="translate(572.1,393.5) rotate(-45)">
<text x="0" y="0" font-size="9.6" text-anchor="middle">RH = 2%</text>
</g>
<g transform="translate(598.7,393.5) rotate(-45)">
<text x="0" y="0" font-size="9.6" text-anchor="middle">Vacuum</text>
</g>
<text x="651.4" y="387.4" font-size="10" text-anchor="middle">Room</text>
<text x="649.9" y="399.1" font-size="9.8" text-anchor="middle">temperature</text>
<g transform="translate(473.7,299.8) rotate(-90)">
<text x="0" y="0" font-size="10" text-anchor="middle">Weight retention (%)</text>
</g>
<rect x="39.5" y="442.3" width="53.1" height="129.1" fill="#f5fafe"/>
<rect x="92.6" y="442.3" width="118.9" height="129.1" fill="#fdf3f3"/>
<defs><linearGradient id="gb" x1="0" x2="1" y1="0" y2="0"><stop offset="0" stop-color="#74c2ee"/><stop offset="1" stop-color="#74c2ee" stop-opacity="0.04"/></linearGradient><linearGradient id="gr" x1="0" x2="1" y1="0" y2="0"><stop offset="0" stop-color="#e8889a" stop-opacity="0.04"/><stop offset="1" stop-color="#e8889a" stop-opacity="0.9"/></linearGradient></defs>
<rect x="82.2" y="449.45" width="10.4" height="4.1" fill="url(#gb)"/>
<rect x="92.6" y="449.45" width="27.4" height="4.1" fill="url(#gr)"/>
<line x1="39.5" y1="451.5" x2="41.7" y2="451.5" stroke="#1a1a1a" stroke-width="1"/>
<text x="37.9" y="454.8" font-size="8.8" text-anchor="end">Ref. 34</text>
<text x="126.4" y="454.8" font-size="9.1">AM/AA</text>
<rect x="79.6" y="467.95" width="13" height="4.1" fill="url(#gb)"/>
<rect x="92.6" y="467.95" width="49.6" height="4.1" fill="url(#gr)"/>
<line x1="39.5" y1="470" x2="41.7" y2="470" stroke="#1a1a1a" stroke-width="1"/>
<text x="37.9" y="473.3" font-size="8.8" text-anchor="end">Ref. 35</text>
<text x="147.8" y="473.3" font-size="9.1">PAA</text>
<rect x="60.4" y="486.45" width="32.2" height="4.1" fill="url(#gb)"/>
<rect x="92.6" y="486.45" width="17.1" height="4.1" fill="url(#gr)"/>
<line x1="39.5" y1="488.5" x2="41.7" y2="488.5" stroke="#1a1a1a" stroke-width="1"/>
<text x="37.9" y="491.8" font-size="8.8" text-anchor="end">Ref. 36</text>
<text x="116.1" y="491.8" font-size="9.1">AA/MBA/CaCl</text>
<rect x="49.7" y="504.95" width="42.9" height="4.1" fill="url(#gb)"/>
<rect x="92.6" y="504.95" width="17.1" height="4.1" fill="url(#gr)"/>
<line x1="39.5" y1="507" x2="41.7" y2="507" stroke="#1a1a1a" stroke-width="1"/>
<text x="37.9" y="510.3" font-size="8.8" text-anchor="end">Ref. 37</text>
<text x="116" y="510.3" font-size="9.1">SA/AM/CS</text>
<rect x="64.8" y="523.45" width="27.8" height="4.1" fill="url(#gb)"/>
<rect x="92.6" y="523.45" width="42.7" height="4.1" fill="url(#gr)"/>
<line x1="39.5" y1="525.5" x2="41.7" y2="525.5" stroke="#1a1a1a" stroke-width="1"/>
<text x="37.9" y="528.8" font-size="8.8" text-anchor="end">Ref. 38</text>
<text x="140.4" y="528.8" font-size="9.1">SBMA</text>
<rect x="73.9" y="541.95" width="18.7" height="4.1" fill="url(#gb)"/>
<rect x="92.6" y="541.95" width="67.2" height="4.1" fill="url(#gr)"/>
<line x1="39.5" y1="544" x2="41.7" y2="544" stroke="#1a1a1a" stroke-width="1"/>
<text x="37.9" y="547.3" font-size="8.8" text-anchor="end">Ref. 39</text>
<text x="166.2" y="547.3" font-size="9.1">PAAm</text>
<rect x="56.1" y="560.45" width="36.5" height="4.1" fill="url(#gb)"/>
<rect x="92.6" y="560.45" width="83" height="4.1" fill="url(#gr)"/>
<line x1="39.5" y1="562.5" x2="41.7" y2="562.5" stroke="#1a1a1a" stroke-width="1"/>
<text x="37.9" y="565.8" font-size="8.8" text-anchor="end">This work</text>
<text x="183.8" y="560.6" font-size="9.1">This</text>
<text x="182.8" y="568.8" font-size="9.1">work</text>
<rect x="39.5" y="442.3" width="172" height="129.1" fill="none" stroke="#1a1a1a" stroke-width="1.3"/>
<line x1="48.55" y1="571.4" x2="48.55" y2="568.9" stroke="#1a1a1a" stroke-width="1"/>
<text x="48.55" y="581" font-size="9.4" text-anchor="middle">-100</text>
<line x1="70.57" y1="571.4" x2="70.57" y2="569.9" stroke="#1a1a1a" stroke-width="1"/>
<line x1="92.6" y1="571.4" x2="92.6" y2="568.9" stroke="#1a1a1a" stroke-width="1"/>
<text x="92.6" y="581" font-size="9.4" text-anchor="middle">0</text>
<line x1="114.62" y1="571.4" x2="114.62" y2="569.9" stroke="#1a1a1a" stroke-width="1"/>
<line x1="136.65" y1="571.4" x2="136.65" y2="568.9" stroke="#1a1a1a" stroke-width="1"/>
<text x="136.65" y="581" font-size="9.4" text-anchor="middle">100</text>
<line x1="158.68" y1="571.4" x2="158.68" y2="569.9" stroke="#1a1a1a" stroke-width="1"/>
<line x1="180.7" y1="571.4" x2="180.7" y2="568.9" stroke="#1a1a1a" stroke-width="1"/>
<text x="180.7" y="581" font-size="9.4" text-anchor="middle">200</text>
<line x1="202.72" y1="571.4" x2="202.72" y2="569.9" stroke="#1a1a1a" stroke-width="1"/>
<text x="128" y="593.3" font-size="8.7" text-anchor="middle">Temperature (<tspan font-size="6" dy="-2.8">o</tspan><tspan dy="2.8">C)</tspan></text>
<rect x="275.5" y="485.71" width="18.7" height="85.59" fill="#fff" stroke="#333333" stroke-width="1.3"/>
<path d="M280,481.9 l1.9,1.9 l-1.9,1.9 l-1.9,-1.9 Z" fill="#fff" stroke="#333" stroke-width="0.7"/>
<circle cx="284.7" cy="486.23" r="1.7" fill="#fff" stroke="#333" stroke-width="0.7"/>
<circle cx="289" cy="486.23" r="1.7" fill="#fff" stroke="#333" stroke-width="0.7"/>
<rect x="310.3" y="465.65" width="17.8" height="105.65" fill="#fff" stroke="#333333" stroke-width="1.3"/>
<line x1="319.1" y1="460.24" x2="319.1" y2="471.07" stroke="#333333" stroke-width="1.0"/>
<line x1="315.7" y1="460.24" x2="322.5" y2="460.24" stroke="#333333" stroke-width="1.0"/>
<line x1="315.7" y1="471.07" x2="322.5" y2="471.07" stroke="#333333" stroke-width="1.0"/>
<path d="M322.7,457.62 l1.9,1.9 l-1.9,1.9 l-1.9,-1.9 Z" fill="#fff" stroke="#333" stroke-width="0.7"/>
<rect x="313.9" y="465.76" width="3.2" height="3.2" fill="#fff" stroke="#333" stroke-width="0.7"/>
<circle cx="319.1" cy="469.98" r="1.7" fill="#fff" stroke="#333" stroke-width="0.7"/>
<rect x="267.6" y="442.4" width="68.9" height="128.9" fill="none" stroke="#1a1a1a" stroke-width="1.3"/>
<line x1="267.6" y1="571.3" x2="270.1" y2="571.3" stroke="#1a1a1a" stroke-width="1"/>
<text x="265" y="574.1" font-size="8" text-anchor="end">0.0</text>
<line x1="267.6" y1="558.41" x2="269.1" y2="558.41" stroke="#1a1a1a" stroke-width="1"/>
<line x1="267.6" y1="545.52" x2="270.1" y2="545.52" stroke="#1a1a1a" stroke-width="1"/>
<text x="265" y="548.32" font-size="8" text-anchor="end">0.5</text>
<line x1="267.6" y1="532.63" x2="269.1" y2="532.63" stroke="#1a1a1a" stroke-width="1"/>
<line x1="267.6" y1="519.74" x2="270.1" y2="519.74" stroke="#1a1a1a" stroke-width="1"/>
<text x="265" y="522.54" font-size="8" text-anchor="end">1.0</text>
<line x1="267.6" y1="506.85" x2="269.1" y2="506.85" stroke="#1a1a1a" stroke-width="1"/>
<line x1="267.6" y1="493.96" x2="270.1" y2="493.96" stroke="#1a1a1a" stroke-width="1"/>
<text x="265" y="496.76" font-size="8" text-anchor="end">1.5</text>
<line x1="267.6" y1="481.07" x2="269.1" y2="481.07" stroke="#1a1a1a" stroke-width="1"/>
<line x1="267.6" y1="468.18" x2="270.1" y2="468.18" stroke="#1a1a1a" stroke-width="1"/>
<text x="265" y="470.98" font-size="8" text-anchor="end">2.0</text>
<line x1="267.6" y1="455.29" x2="269.1" y2="455.29" stroke="#1a1a1a" stroke-width="1"/>
<line x1="267.6" y1="442.4" x2="270.1" y2="442.4" stroke="#1a1a1a" stroke-width="1"/>
<text x="265" y="445.2" font-size="8" text-anchor="end">2.5</text>
<g transform="translate(248.6,504.2) rotate(-90)">
<text x="0" y="0" font-size="10" text-anchor="middle">Antibacterial diameter (cm)</text>
</g>
<g transform="translate(289.25,588.6) rotate(-25)">
<text x="0" y="0" font-size="8.5" text-anchor="middle" font-style="italic">E. coli</text>
</g>
<g transform="translate(323.85,588.6) rotate(-25)">
<text x="0" y="0" font-size="8.5" text-anchor="middle" font-style="italic">S. aureus</text>
</g>
<rect x="381.6" y="454.12" width="18.2" height="117.18" fill="#fff" stroke="#333333" stroke-width="1.3"/>
<circle cx="388.8" cy="454" r="1.7" fill="#fff" stroke="#444" stroke-width="0.7"/>
<rect x="415.8" y="454.12" width="18" height="117.18" fill="#fff" stroke="#333333" stroke-width="1.3"/>
<circle cx="422" cy="454.12" r="1.7" fill="#fff" stroke="#444" stroke-width="0.7"/>
<circle cx="424.8" cy="454.12" r="1.7" fill="#fff" stroke="#444" stroke-width="0.7"/>
<circle cx="427" cy="454.12" r="1.7" fill="#fff" stroke="#444" stroke-width="0.7"/>
<rect x="373.6" y="442.4" width="68.7" height="128.9" fill="none" stroke="#1a1a1a" stroke-width="1.3"/>
<line x1="373.6" y1="571.3" x2="376.1" y2="571.3" stroke="#1a1a1a" stroke-width="1"/>
<text x="371" y="574.1" font-size="8" text-anchor="end">0</text>
<line x1="373.6" y1="559.58" x2="375.1" y2="559.58" stroke="#1a1a1a" stroke-width="1"/>
<line x1="373.6" y1="547.86" x2="376.1" y2="547.86" stroke="#1a1a1a" stroke-width="1"/>
<text x="371" y="550.66" font-size="8" text-anchor="end">20</text>
<line x1="373.6" y1="536.15" x2="375.1" y2="536.15" stroke="#1a1a1a" stroke-width="1"/>
<line x1="373.6" y1="524.43" x2="376.1" y2="524.43" stroke="#1a1a1a" stroke-width="1"/>
<text x="371" y="527.23" font-size="8" text-anchor="end">40</text>
<line x1="373.6" y1="512.71" x2="375.1" y2="512.71" stroke="#1a1a1a" stroke-width="1"/>
<line x1="373.6" y1="500.99" x2="376.1" y2="500.99" stroke="#1a1a1a" stroke-width="1"/>
<text x="371" y="503.79" font-size="8" text-anchor="end">60</text>
<line x1="373.6" y1="489.27" x2="375.1" y2="489.27" stroke="#1a1a1a" stroke-width="1"/>
<line x1="373.6" y1="477.55" x2="376.1" y2="477.55" stroke="#1a1a1a" stroke-width="1"/>
<text x="371" y="480.35" font-size="8" text-anchor="end">80</text>
<line x1="373.6" y1="465.84" x2="375.1" y2="465.84" stroke="#1a1a1a" stroke-width="1"/>
<line x1="373.6" y1="454.12" x2="376.1" y2="454.12" stroke="#1a1a1a" stroke-width="1"/>
<text x="371" y="456.92" font-size="8" text-anchor="end">100</text>
<line x1="373.6" y1="442.4" x2="375.1" y2="442.4" stroke="#1a1a1a" stroke-width="1"/>
<g transform="translate(355.2,503.2) rotate(-90)">
<text x="0" y="0" font-size="10" text-anchor="middle">Antibacterial rate (%)</text>
</g>
<g transform="translate(389.25,588.6) rotate(-25)">
<text x="0" y="0" font-size="8.5" text-anchor="middle" font-style="italic">E. coli</text>
</g>
<g transform="translate(423.85,588.6) rotate(-25)">
<text x="0" y="0" font-size="8.5" text-anchor="middle" font-style="italic">S. aureus</text>
</g>
<defs>
<pattern id="ging" x="6.7" y="3.3" width="8" height="8" patternUnits="userSpaceOnUse">
<path fill-rule="evenodd" fill="#fff" fill-opacity="0.47" d="M0,0 H8 V8 H0 Z M0.6,2 a1.4,1.4 0 1,0 2.8,0 a1.4,1.4 0 1,0 -2.8,0 Z M4.6,6 a1.4,1.4 0 1,0 2.8,0 a1.4,1.4 0 1,0 -2.8,0 Z"/>
<circle cx="6" cy="2" r="1.5" fill="#fff" fill-opacity="0.55"/>
<circle cx="2" cy="6" r="1.5" fill="#fff" fill-opacity="0.55"/>
</pattern>
<filter id="gblur" x="-5%" y="-5%" width="110%" height="110%"><feGaussianBlur stdDeviation="0.45"/></filter>
<clipPath id="hexc"><path d="M584.5,455 L624.6,478.15 L624.6,524.45 L584.5,547.6 L544.4,524.45 L544.4,478.15 Z"/></clipPath>
</defs><g clip-path="url(#hexc)"><g filter="url(#gblur)"><path d="M584.5,455 L624.6,478.15 L624.6,524.45 L584.5,547.6 L544.4,524.45 L544.4,478.15 Z" fill="#64aae6"/><path d="M584.5,483.24 L609.36,486.95 L624.8,524.9 L584.5,501.3 Z" fill="#f29ba7"/><path d="M568.3,510.7 L584,524.4 L618.1,523.9 L624.8,524.9 L584.5,547.6 Z" fill="#98c47a"/><path d="M568.3,510.7 L614.3,517.8 L624.8,524.9 L618.1,523.9 L584,524.4 Z" fill="#f4a23e"/><path d="M568.3,510.7 L584.4,502.1 L624.8,524.9 L614.3,517.8 Z" fill="#e4f4e8"/><path d="M568.3,510.7 L584.9,505.9 L600,512.5 L614.3,517.8 Z" fill="#5f8a50"/><path d="M584.5,455 L624.6,478.15 L624.6,524.45 L584.5,547.6 L544.4,524.45 L544.4,478.15 Z" fill="url(#ging)"/></g></g><g clip-path="url(#hexc)" fill="none" stroke="#555" stroke-width="0.4" stroke-opacity="0.35"><path d="M584.5,489.73 L594.52,495.51 L594.52,507.09 L584.5,512.88 L574.48,507.09 L574.48,495.51 Z"/><path d="M584.5,478.15 L604.55,489.73 L604.55,512.88 L584.5,524.45 L564.45,512.88 L564.45,489.73 Z"/><path d="M584.5,466.58 L614.57,483.94 L614.57,518.66 L584.5,536.02 L554.43,518.66 L554.43,483.94 Z"/></g><line x1="584.5" y1="501.3" x2="584.5" y2="455" stroke="#333" stroke-width="0.5"/><line x1="584.5" y1="501.3" x2="624.6" y2="478.15" stroke="#333" stroke-width="0.5" stroke-dasharray="1.6 1.2"/><line x1="584.5" y1="501.3" x2="624.6" y2="524.45" stroke="#333" stroke-width="0.5" stroke-dasharray="1.6 1.2"/><line x1="584.5" y1="501.3" x2="584.5" y2="547.6" stroke="#333" stroke-width="0.5" stroke-dasharray="1.6 1.2"/><line x1="584.5" y1="501.3" x2="544.4" y2="524.45" stroke="#333" stroke-width="0.5" stroke-dasharray="1.6 1.2"/><line x1="584.5" y1="501.3" x2="544.4" y2="478.15" stroke="#333" stroke-width="0.5" stroke-dasharray="1.6 1.2"/><path d="M584.5,455 L624.6,478.15 L624.6,524.45 L584.5,547.6 L544.4,524.45 L544.4,478.15 Z" fill="none" stroke="#4a8fd0" stroke-width="0.4"/><text x="584.5" y="452.8" font-size="8.8" text-anchor="middle">1</text><text x="526.9" y="480" font-size="8.8">0.01</text><text x="628" y="480.1" font-size="8.8">365</text><text x="627" y="530.2" font-size="8.8">100</text><text x="584.6" y="555.9" font-size="8.7" text-anchor="middle">1000</text><text x="528.3" y="530.4" font-size="8.8">Yes</text><text x="556" y="518.7" font-size="9.2" style="fill:#000;stroke:#000;stroke-width:0.3px">No</text><text x="590.2" y="443" font-size="9" text-anchor="middle">Normalized thickness (nm<tspan font-size="6.5" dy="-3.3">&#8722;1</tspan><tspan dy="3.3">)</tspan></text><text x="497.7" y="461.3" font-size="9" text-anchor="middle">Air</text><text x="497.7" y="472.7" font-size="9" text-anchor="middle">permeance</text><text x="469.6" y="484.4" font-size="9">(cm<tspan font-size="6.5" dy="-3.3">3</tspan><tspan dy="3.3"> cm</tspan><tspan font-size="6.5" dy="-3.3">&#8722;2</tspan><tspan dy="3.3"> s</tspan><tspan font-size="6.5" dy="-3.3">&#8722;1</tspan></text><text x="497" y="496.7" font-size="9" text-anchor="middle">cmHg<tspan font-size="6.5" dy="-3.3">&#8722;1</tspan><tspan dy="3.3">)</tspan></text><text x="662.5" y="468.5" font-size="9" text-anchor="middle">Skin</text><text x="665" y="479.7" font-size="9" text-anchor="middle">adhesion</text><text x="666.5" y="491.1" font-size="9" text-anchor="middle">(&#956;J cm<tspan font-size="6.5" dy="-3.3">&#8722;2</tspan><tspan dy="3.3">)</tspan></text><text x="662.5" y="524.2" font-size="9" text-anchor="middle">Weight</text><text x="665" y="535.3" font-size="9" text-anchor="middle">retention</text><text x="665.6" y="546.3" font-size="9" text-anchor="middle">(%)</text><text x="495.7" y="527.8" font-size="9" text-anchor="middle">Antibacterical</text><text x="495.9" y="538.3" font-size="9" text-anchor="middle">properties</text><text x="589.3" y="566.3" font-size="9" text-anchor="middle">Mechanical durability</text><text x="590.3" y="578" font-size="9" text-anchor="middle">(Number of stretching cycles)</text><rect x="476.3" y="571" width="9.5" height="5" fill="#ffffff" stroke="#555" stroke-width="0.8"/><text x="488.3" y="576.3" font-size="9">Ref. 19</text><rect x="476.3" y="588.6" width="9.5" height="5" fill="#f6b3bc" stroke="#d77" stroke-width="0.8"/><text x="488.3" y="593.9" font-size="9">Ref. 20</text><rect x="525.9" y="588.6" width="9.5" height="5" fill="#e6f5c0" stroke="#9b6" stroke-width="0.8"/><text x="537.9" y="593.9" font-size="9">Ref. 29</text><rect x="573.6" y="588.6" width="9.5" height="5" fill="#a9dfbf" stroke="#5a8" stroke-width="0.8"/><text x="585.6" y="593.9" font-size="9">Ref. 32</text><rect x="623.8" y="588.6" width="9.5" height="5" fill="#7cb8ec" stroke="#3b78b8" stroke-width="0.8"/><text x="635.8" y="593.9" font-size="9">This work</text>
</svg>
</body></html>
